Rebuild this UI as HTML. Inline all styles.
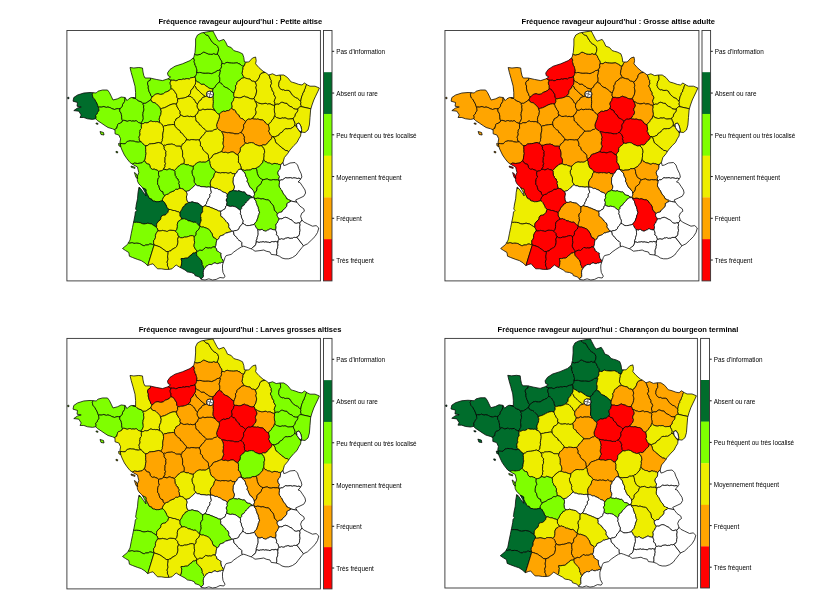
<!DOCTYPE html><html><head><meta charset="utf-8"><title>Cartes</title><style>html,body{margin:0;padding:0;background:#fff}svg{display:block}svg text{font-family:"Liberation Sans",sans-serif}</style></head><body><svg width="817" height="600" viewBox="0 0 817 600">
<rect width="817" height="600" fill="#fff"/>
<g transform="translate(66.900 30.450) scale(1.00000 1.00000) translate(-66.900 -30.450)">
<g stroke="#000" stroke-width="0.75" stroke-linejoin="round">
<path d="M96.0 116.4L95.7 115.4L96.4 114.5L97.3 113.8L97.5 112.6L98.2 111.7L98.9 110.8L98.9 109.6L98.7 108.4L98.5 107.3L97.7 105.3L97.0 103.3L95.9 101.5L94.9 99.6L94.2 98.7L93.4 97.9L92.8 96.9L92.6 95.8L92.3 94.7L92.7 93.6L92.9 92.7L90.0 92.5L83.8 93.0L77.5 95.0L73.8 97.5L73.0 101.2L77.5 102.5L77.0 106.2L81.2 107.0L77.5 108.0L73.8 110.6L78.8 111.2L81.2 115.0L80.0 117.5L83.8 117.5L87.5 118.8L92.5 119.4L95.6 118.8L95.8 118.9L95.8 118.6L96.1 117.6Z" fill="#006d2c"/>
<path d="M92.6 95.8L92.8 96.9L93.4 97.9L94.2 98.7L94.9 99.6L95.9 101.5L97.0 103.3L97.7 105.3L98.5 107.3L99.8 107.0L101.2 107.2L102.5 106.9L103.9 106.5L105.1 107.1L106.5 107.4L107.9 107.0L109.3 107.4L110.6 107.8L111.8 108.6L113.1 109.0L114.4 109.5L115.8 109.1L117.1 108.6L118.6 108.8L120.0 108.7L121.4 107.6L122.4 106.2L122.6 104.4L123.7 103.0L124.6 101.5L124.9 99.8L125.0 98.1L125.2 97.7L125.0 97.5L121.2 97.0L117.5 98.8L113.0 100.0L111.2 96.2L109.4 92.5L107.5 90.0L102.5 90.0L98.0 91.2L96.2 93.0L92.9 92.7L92.7 93.6L92.3 94.7Z" fill="#7fff00"/>
<path d="M121.7 116.2L121.4 114.7L121.1 113.1L120.1 111.8L119.7 110.2L120.0 108.7L118.6 108.8L117.1 108.6L115.8 109.1L114.4 109.5L113.1 109.0L111.8 108.6L110.6 107.8L109.3 107.4L107.9 107.0L106.5 107.4L105.1 107.1L103.9 106.5L102.5 106.9L101.2 107.2L99.8 107.0L98.5 107.3L98.7 108.4L98.9 109.6L98.9 110.8L98.2 111.7L97.5 112.6L97.3 113.8L96.4 114.5L95.7 115.4L96.0 116.4L96.1 117.6L95.8 118.6L95.8 118.9L97.5 120.6L101.2 123.0L105.0 125.6L108.0 127.5L112.5 128.8L114.7 129.8L114.9 129.8L115.6 128.7L116.8 128.2L117.0 127.0L117.4 125.8L117.7 124.6L118.5 123.6L119.8 123.4L120.9 122.8L122.0 122.0L122.5 120.8L122.0 119.3L121.7 117.8Z" fill="#7fff00"/>
<path d="M140.0 101.4L138.9 101.0L137.9 100.4L136.9 99.7L136.1 98.9L135.0 98.3L133.8 98.0L132.6 97.8L132.4 97.6L131.2 97.5L128.8 98.8L127.0 100.6L125.2 97.7L125.0 98.1L124.9 99.8L124.6 101.5L123.7 103.0L122.6 104.4L122.4 106.2L121.4 107.6L120.0 108.7L119.7 110.2L120.1 111.8L121.1 113.1L121.4 114.7L121.7 116.2L121.7 117.8L122.0 119.3L122.5 120.8L123.7 120.3L124.9 120.5L126.0 120.9L127.1 121.4L128.3 121.0L129.4 120.6L130.6 120.7L131.7 121.3L133.0 120.9L134.2 121.3L135.3 120.9L136.6 120.8L137.4 121.7L138.4 122.5L139.6 122.9L140.7 123.3L141.6 122.3L142.3 121.1L142.9 119.9L143.3 118.7L143.2 117.4L143.1 116.1L142.8 114.8L143.1 113.5L143.1 112.1L143.7 111.0L143.9 109.7L143.8 108.4L143.5 107.1L143.9 105.8L143.2 104.7L143.0 103.4L142.2 102.4L141.1 101.8Z" fill="#7fff00"/>
<path d="M150.5 78.5L150.8 78.2L150.0 78.0L145.0 78.0L143.8 75.6L143.0 72.0L142.5 68.0L138.8 67.5L133.8 68.0L130.0 67.5L131.2 72.5L133.0 78.8L134.7 85.1L135.0 86.2L135.6 92.5L135.6 98.0L132.4 97.6L132.6 97.8L133.8 98.0L135.0 98.3L136.1 98.9L136.9 99.7L137.9 100.4L138.9 101.0L140.0 101.4L141.1 101.8L142.2 102.4L143.0 103.4L144.1 103.3L145.2 103.4L146.2 102.9L147.2 102.3L149.0 101.0L150.8 99.8L151.4 98.4L152.0 96.9L150.7 95.3L150.2 93.5L149.2 91.8L148.7 89.9L148.2 88.0L148.4 86.0L147.6 84.2L147.7 82.3L148.7 80.9L150.3 80.3Z" fill="#7fff00"/>
<path d="M168.0 78.8L162.5 80.6L156.2 79.4L150.8 78.2L150.5 78.5L150.3 80.3L148.7 80.9L147.7 82.3L147.6 84.2L148.4 86.0L148.2 88.0L148.7 89.9L149.2 91.8L150.2 93.5L150.7 95.3L152.0 96.9L153.2 96.2L154.2 95.3L155.3 94.4L156.6 94.0L158.0 93.7L159.3 94.2L160.7 94.4L162.1 94.2L163.4 93.8L164.4 92.9L165.5 92.2L166.8 91.8L168.0 91.2L169.2 90.7L170.0 89.7L171.0 88.7L171.0 87.6L171.0 86.5L171.0 85.4L170.3 84.4L170.2 83.3L170.2 82.2L170.8 81.2L171.0 80.1L169.5 79.5L168.2 78.6Z" fill="#7fff00"/>
<path d="M168.0 91.2L166.8 91.8L165.5 92.2L164.4 92.9L163.4 93.8L162.1 94.2L160.7 94.4L159.3 94.2L158.0 93.7L156.6 94.0L155.3 94.4L154.2 95.3L153.2 96.2L152.0 96.9L151.4 98.4L150.8 99.8L151.6 101.5L153.1 102.5L154.9 102.8L156.4 103.9L157.6 105.1L158.8 106.4L160.0 107.8L160.5 109.5L162.3 108.3L164.3 107.8L166.3 106.9L168.1 105.9L170.0 104.9L172.0 104.2L174.2 103.8L176.3 104.2L177.0 102.9L177.7 101.6L177.5 100.0L177.9 98.6L176.9 97.3L176.7 95.7L176.5 94.2L175.5 92.9L174.7 91.5L173.8 90.2L172.6 89.0L171.0 88.7L170.0 89.7L169.2 90.7Z" fill="#eeee00"/>
<path d="M159.5 117.7L160.0 116.1L160.8 114.6L161.0 112.9L161.3 111.1L160.5 109.5L160.0 107.8L158.8 106.4L157.6 105.1L156.4 103.9L154.9 102.8L153.1 102.5L151.6 101.5L150.8 99.8L149.0 101.0L147.2 102.3L146.2 102.9L145.2 103.4L144.1 103.3L143.0 103.4L143.2 104.7L143.9 105.8L143.5 107.1L143.8 108.4L143.9 109.7L143.7 111.0L143.1 112.1L143.1 113.5L142.8 114.8L143.1 116.1L143.2 117.4L143.3 118.7L142.9 119.9L142.3 121.1L141.6 122.3L140.7 123.3L141.0 123.5L142.2 123.7L143.4 123.6L144.4 122.9L145.6 122.7L146.8 122.9L148.0 122.6L149.1 122.0L149.9 121.2L151.1 121.0L152.2 121.5L153.4 121.6L154.6 121.5L155.7 121.8L156.9 121.6L158.1 121.8L159.0 122.6L159.7 121.0L159.2 119.3Z" fill="#7fff00"/>
<path d="M175.6 120.6L176.0 118.9L177.4 118.2L178.7 117.4L180.0 116.4L180.5 114.8L180.0 113.4L180.3 111.9L179.6 110.6L178.5 109.5L178.1 108.1L177.1 107.0L176.9 105.6L176.3 104.2L174.2 103.8L172.0 104.2L170.0 104.9L168.1 105.9L166.3 106.9L164.3 107.8L162.3 108.3L160.5 109.5L161.3 111.1L161.0 112.9L160.8 114.6L160.0 116.1L159.5 117.7L159.2 119.3L159.7 121.0L159.0 122.6L160.5 123.1L161.7 124.0L162.4 125.3L163.2 126.5L164.5 125.8L166.0 125.7L167.4 125.2L168.8 125.0L170.3 124.8L171.7 124.6L173.2 124.4L174.6 124.9L174.5 123.3L174.4 121.7Z" fill="#eeee00"/>
<path d="M139.4 138.6L139.0 137.4L139.3 136.2L140.0 135.1L140.1 133.8L139.7 132.7L140.1 131.5L140.1 130.2L140.7 129.1L141.5 128.3L141.4 127.1L141.3 125.9L141.5 124.7L141.0 123.5L140.7 123.3L139.6 122.9L138.4 122.5L137.4 121.7L136.6 120.8L135.3 120.9L134.2 121.3L133.0 120.9L131.7 121.3L130.6 120.7L129.4 120.6L128.3 121.0L127.1 121.4L126.0 120.9L124.9 120.5L123.7 120.3L122.5 120.8L122.0 122.0L120.9 122.8L119.8 123.4L118.5 123.6L117.7 124.6L117.4 125.8L117.0 127.0L116.8 128.2L115.6 128.7L114.9 129.8L114.7 129.8L115.0 130.0L115.0 133.8L118.8 135.0L120.6 138.8L120.0 142.0L120.0 144.0L121.0 143.5L122.5 143.7L123.9 143.8L125.3 143.7L126.2 142.5L127.3 141.5L128.7 141.2L130.1 140.8L131.5 141.1L132.8 141.1L134.2 141.2L135.5 141.8L136.9 142.0L138.3 142.2L139.6 141.9L141.0 141.8L140.0 141.0L139.3 139.9Z" fill="#7fff00"/>
<path d="M155.7 121.8L154.6 121.5L153.4 121.6L152.2 121.5L151.1 121.0L149.9 121.2L149.1 122.0L148.0 122.6L146.8 122.9L145.6 122.7L144.4 122.9L143.4 123.6L142.2 123.7L141.0 123.5L141.5 124.7L141.3 125.9L141.4 127.1L141.5 128.3L140.7 129.1L140.1 130.2L140.1 131.5L139.7 132.7L140.1 133.8L140.0 135.1L139.3 136.2L139.0 137.4L139.4 138.6L139.3 139.9L140.0 141.0L141.0 141.8L142.2 142.8L143.2 144.2L144.4 145.2L145.8 145.9L147.8 145.4L149.2 144.1L151.2 143.8L153.1 143.7L155.0 143.4L156.9 142.9L158.8 142.5L160.7 143.3L161.2 142.4L162.0 141.6L162.4 140.5L162.3 139.3L162.9 137.2L162.7 135.1L163.0 132.9L163.5 130.8L163.6 128.7L163.2 126.5L162.4 125.3L161.7 124.0L160.5 123.1L159.0 122.6L158.1 121.8L156.9 121.6Z" fill="#eeee00"/>
<path d="M196.5 68.6L196.2 67.3L195.9 66.1L194.9 65.2L195.0 63.9L194.4 62.7L194.1 61.4L194.5 60.1L193.9 59.0L193.4 57.8L190.0 60.6L182.5 63.8L175.0 66.2L170.0 69.4L167.5 73.0L168.0 75.6L170.6 77.0L168.2 78.6L169.5 79.5L171.0 80.1L172.5 80.3L174.1 80.2L175.6 80.8L177.1 80.6L178.4 79.7L180.0 79.5L181.6 79.6L183.1 79.0L184.7 79.3L186.2 78.7L187.7 78.7L189.3 79.1L190.5 78.0L192.0 77.6L193.5 77.4L195.0 76.9L195.7 75.9L196.3 74.7L196.7 73.5L196.6 72.3L197.0 71.0L196.9 69.8Z" fill="#7fff00"/>
<path d="M195.8 81.1L195.7 79.6L195.5 78.2L195.0 76.9L193.5 77.4L192.0 77.6L190.5 78.0L189.3 79.1L187.7 78.7L186.2 78.7L184.7 79.3L183.1 79.0L181.6 79.6L180.0 79.5L178.4 79.7L177.1 80.6L175.6 80.8L174.1 80.2L172.5 80.3L171.0 80.1L170.8 81.2L170.2 82.2L170.2 83.3L170.3 84.4L171.0 85.4L171.0 86.5L171.0 87.6L171.0 88.7L172.6 89.0L173.8 90.2L174.7 91.5L175.5 92.9L176.5 94.2L176.7 95.7L176.9 97.3L177.9 98.6L179.2 98.9L180.6 98.4L181.9 98.3L183.2 98.2L184.5 97.8L185.8 97.4L187.0 96.9L188.1 96.1L189.3 95.0L190.4 93.7L190.6 92.1L190.9 90.6L191.8 89.2L193.1 88.3L193.6 86.8L194.5 85.5L195.4 84.2L195.6 82.6Z" fill="#eeee00"/>
<path d="M184.5 97.8L183.2 98.2L181.9 98.3L180.6 98.4L179.2 98.9L177.9 98.6L177.5 100.0L177.7 101.6L177.0 102.9L176.3 104.2L176.9 105.6L177.1 107.0L178.1 108.1L178.5 109.5L179.6 110.6L180.3 111.9L180.0 113.4L180.5 114.8L181.9 115.6L183.2 116.4L184.8 116.5L186.3 116.3L187.9 116.1L189.3 116.7L190.8 116.3L192.3 116.8L193.8 116.6L195.2 116.1L196.1 114.5L197.6 113.5L198.1 111.8L199.0 110.3L198.2 108.7L197.3 107.3L197.2 105.6L197.5 103.9L196.2 103.0L195.4 101.6L194.7 100.2L193.7 99.0L192.4 97.9L191.3 96.8L189.8 96.2L188.1 96.1L187.0 96.9L185.8 97.4Z" fill="#eeee00"/>
<path d="M191.8 89.2L190.9 90.6L190.6 92.1L190.4 93.7L189.3 95.0L188.1 96.1L189.8 96.2L191.3 96.8L192.4 97.9L193.7 99.0L194.7 100.2L195.4 101.6L196.2 103.0L197.5 103.9L198.4 102.8L198.9 101.5L200.0 100.6L201.2 99.9L201.7 98.5L202.8 97.5L204.1 97.0L205.5 96.5L203.9 95.3L202.3 94.1L200.8 92.9L199.5 91.4L198.1 90.1L196.5 88.9L195.9 87.0L194.5 85.5L193.6 86.8L193.1 88.3Z" fill="#eeee00"/>
<path d="M198.1 90.1L199.5 91.4L200.8 92.9L202.3 94.1L203.9 95.3L205.5 96.5L207.2 96.0L206.6 94.6L207.0 92.2L209.0 91.2L211.5 91.4L212.6 92.1L212.7 91.7L212.8 90.0L213.4 88.4L212.1 88.8L210.8 88.5L209.5 88.1L208.3 87.6L207.5 86.6L206.3 86.0L205.2 85.4L204.4 84.3L203.1 84.0L201.8 84.3L200.5 83.7L199.6 82.7L198.5 82.0L197.2 81.7L196.3 80.7L195.7 79.6L195.8 81.1L195.6 82.6L195.4 84.2L194.5 85.5L195.9 87.0L196.5 88.9Z" fill="#eeee00"/>
<path d="M201.7 98.5L201.2 99.9L200.0 100.6L198.9 101.5L198.4 102.8L197.5 103.9L197.2 105.6L197.3 107.3L198.2 108.7L199.0 110.3L201.1 110.3L202.9 109.1L204.9 109.8L207.0 109.3L209.1 109.4L211.1 109.3L213.1 109.8L215.0 110.8L214.1 109.0L213.1 107.3L213.1 105.3L213.3 103.4L213.4 101.4L213.2 99.5L213.3 97.6L213.0 96.1L212.5 97.0L210.0 97.6L207.6 96.8L207.2 96.0L205.5 96.5L204.1 97.0L202.8 97.5Z" fill="#eeee00"/>
<path d="M198.5 82.0L199.6 82.7L200.5 83.7L201.8 84.3L203.1 84.0L204.4 84.3L205.2 85.4L206.3 86.0L207.5 86.6L208.3 87.6L209.5 88.1L210.8 88.5L212.1 88.8L213.4 88.4L214.2 87.7L215.2 87.2L215.5 86.1L216.2 85.1L217.6 83.4L219.4 82.2L219.8 80.8L219.8 79.4L219.8 77.9L219.2 76.5L219.3 75.1L219.9 73.8L220.0 72.4L220.5 71.0L220.0 69.7L218.6 70.4L217.1 70.6L215.9 71.6L214.5 72.3L213.1 72.9L211.6 73.6L210.1 73.3L208.5 73.0L207.0 73.0L205.5 73.1L204.0 73.1L202.5 72.9L201.1 72.6L199.6 72.4L198.1 72.7L196.6 72.3L196.7 73.5L196.3 74.7L195.7 75.9L195.0 76.9L195.5 78.2L195.7 79.6L196.3 80.7L197.2 81.7Z" fill="#7fff00"/>
<path d="M201.1 72.6L202.5 72.9L204.0 73.1L205.5 73.1L207.0 73.0L208.5 73.0L210.1 73.3L211.6 73.6L213.1 72.9L214.5 72.3L215.9 71.6L217.1 70.6L218.6 70.4L220.0 69.7L220.9 68.4L221.6 66.9L221.3 65.2L221.9 63.6L222.0 62.2L221.7 60.9L220.7 59.9L220.2 58.6L219.5 57.4L219.1 56.1L218.2 55.1L217.3 54.0L215.5 54.3L213.8 53.5L212.1 54.3L210.3 54.2L208.6 54.0L206.9 53.4L205.3 52.6L203.7 52.0L202.1 53.0L200.7 54.2L198.9 54.6L197.1 54.9L195.3 54.6L194.5 54.3L193.8 57.5L193.4 57.8L193.9 59.0L194.5 60.1L194.1 61.4L194.4 62.7L195.0 63.9L194.9 65.2L195.9 66.1L196.2 67.3L196.5 68.6L196.9 69.8L197.0 71.0L196.6 72.3L198.1 72.7L199.6 72.4Z" fill="#7fff00"/>
<path d="M218.5 49.9L218.5 48.5L217.7 46.4L216.2 44.9L214.3 43.9L212.6 42.5L211.4 40.8L210.2 39.0L209.2 37.2L208.1 35.4L207.0 35.2L205.9 34.9L205.1 34.1L204.4 33.3L203.4 32.6L203.4 32.6L201.2 33.0L197.5 35.0L195.6 38.8L195.6 45.0L195.0 52.5L194.5 54.3L195.3 54.6L197.1 54.9L198.9 54.6L200.7 54.2L202.1 53.0L203.7 52.0L205.3 52.6L206.9 53.4L208.6 54.0L210.3 54.2L212.1 54.3L213.8 53.5L215.5 54.3L217.3 54.0L217.8 52.7L218.3 51.3Z" fill="#7fff00"/>
<path d="M205.9 34.9L207.0 35.2L208.1 35.4L209.2 37.2L210.2 39.0L211.4 40.8L212.6 42.5L214.3 43.9L216.2 44.9L217.7 46.4L218.5 48.5L218.5 49.9L218.3 51.3L217.8 52.7L217.3 54.0L218.2 55.1L219.1 56.1L219.5 57.4L220.2 58.6L220.7 59.9L221.7 60.9L222.0 62.2L221.9 63.6L223.3 63.6L224.7 63.8L225.8 62.8L227.1 62.3L229.2 62.9L231.4 63.1L233.6 63.2L235.7 63.0L236.9 62.8L237.9 63.2L238.9 63.8L240.0 64.0L240.7 64.9L241.6 65.6L242.6 66.1L243.8 66.2L244.6 65.0L245.0 63.7L246.0 62.6L246.2 62.0L244.4 62.0L243.8 57.5L242.5 53.8L238.8 52.0L236.1 51.3L233.8 50.6L231.2 47.5L227.5 46.2L225.6 42.0L225.3 41.6L223.8 39.4L218.8 41.2L217.0 38.8L214.4 33.8L213.0 31.0L206.2 32.0L203.4 32.6L203.4 32.6L204.4 33.3L205.1 34.1Z" fill="#7fff00"/>
<path d="M243.2 78.0L244.4 77.6L243.5 76.3L242.7 75.0L242.1 73.5L242.4 72.0L242.5 70.5L243.0 69.1L243.0 67.5L243.8 66.2L242.6 66.1L241.6 65.6L240.7 64.9L240.0 64.0L238.9 63.8L237.9 63.2L236.9 62.8L235.7 63.0L233.6 63.2L231.4 63.1L229.2 62.9L227.1 62.3L225.8 62.8L224.7 63.8L223.3 63.6L221.9 63.6L221.3 65.2L221.6 66.9L220.9 68.4L220.0 69.7L220.5 71.0L220.0 72.4L219.9 73.8L219.3 75.1L219.2 76.5L219.8 77.9L219.8 79.4L219.8 80.8L219.4 82.2L220.3 83.0L221.5 83.3L222.0 84.4L222.8 85.2L223.7 86.0L224.4 86.9L225.5 87.4L226.7 87.7L227.7 88.2L228.4 89.1L229.5 89.5L230.4 90.3L231.2 91.1L231.9 92.1L233.0 92.5L233.9 93.3L234.5 91.5L235.3 89.7L235.8 87.8L235.4 85.9L236.7 84.3L237.1 82.4L238.4 80.9L240.1 80.0L240.8 78.9L241.9 78.2Z" fill="#7fff00"/>
<path d="M213.3 92.6L213.5 95.0L213.0 96.1L213.3 97.6L213.2 99.5L213.4 101.4L213.3 103.4L213.1 105.3L213.1 107.3L214.1 109.0L215.0 110.8L216.0 111.7L216.8 112.9L217.9 113.8L219.1 114.4L220.4 113.2L221.8 112.0L223.4 111.2L225.3 111.5L226.9 110.7L228.7 110.6L230.1 109.6L231.4 108.3L232.2 107.1L232.1 105.7L231.7 104.4L231.7 103.0L232.4 101.8L233.3 100.8L233.6 99.5L234.0 98.2L234.5 97.4L233.7 95.4L233.9 93.3L233.0 92.5L231.9 92.1L231.2 91.1L230.4 90.3L229.5 89.5L228.4 89.1L227.7 88.2L226.7 87.7L225.5 87.4L224.4 86.9L223.7 86.0L222.8 85.2L222.0 84.4L221.5 83.3L220.3 83.0L219.4 82.2L217.6 83.4L216.2 85.1L215.5 86.1L215.2 87.2L214.2 87.7L213.4 88.4L212.8 90.0L212.7 91.7L212.6 92.1Z" fill="#7fff00"/>
<path d="M244.6 65.0L243.8 66.2L243.0 67.5L243.0 69.1L242.5 70.5L242.4 72.0L242.1 73.5L242.7 75.0L243.5 76.3L244.4 77.6L245.7 78.2L247.2 78.6L248.6 79.0L250.1 79.1L250.9 80.4L252.2 81.2L253.8 81.3L255.1 82.1L256.9 81.0L258.2 79.2L259.3 77.4L259.8 75.3L261.0 73.5L263.0 72.8L265.1 72.4L265.1 72.4L263.0 71.2L258.8 67.5L255.6 63.8L256.2 60.6L255.6 57.0L252.5 58.0L248.8 62.0L246.2 62.0L246.0 62.6L245.0 63.7Z" fill="#eeee00"/>
<path d="M256.3 93.0L256.7 91.0L256.5 89.9L256.2 88.8L255.9 87.6L256.2 86.5L256.5 85.3L256.1 84.2L255.8 83.0L255.1 82.1L253.8 81.3L252.2 81.2L250.9 80.4L250.1 79.1L248.6 79.0L247.2 78.6L245.7 78.2L244.4 77.6L243.2 78.0L241.9 78.2L240.8 78.9L240.1 80.0L238.4 80.9L237.1 82.4L236.7 84.3L235.4 85.9L235.8 87.8L235.3 89.7L234.5 91.5L233.9 93.3L233.7 95.4L234.5 97.4L235.8 97.4L237.1 97.4L238.3 97.8L239.6 97.8L240.8 97.7L242.0 97.2L243.1 96.6L244.4 96.2L245.5 96.9L246.7 97.2L248.0 97.4L249.0 98.2L250.2 98.6L251.4 98.9L252.8 99.0L254.0 98.5L254.9 96.7L255.9 94.9Z" fill="#eeee00"/>
<path d="M252.8 99.0L251.4 98.9L250.2 98.6L249.0 98.2L248.0 97.4L246.7 97.2L245.5 96.9L244.4 96.2L243.1 96.6L242.0 97.2L240.8 97.7L239.6 97.8L238.3 97.8L237.1 97.4L235.8 97.4L234.5 97.4L234.0 98.2L233.6 99.5L233.3 100.8L232.4 101.8L231.7 103.0L231.7 104.4L232.1 105.7L232.2 107.1L231.4 108.3L232.6 108.9L233.3 110.0L234.6 110.1L235.6 110.9L235.8 112.2L236.5 113.3L237.5 114.2L238.6 114.9L239.2 116.0L239.6 117.2L240.6 118.1L241.8 118.6L243.0 119.0L243.9 119.9L244.7 120.8L245.7 121.6L246.8 120.0L248.5 119.1L250.4 119.3L252.1 118.5L253.1 117.9L253.8 116.9L254.3 115.9L255.1 115.1L255.8 114.0L256.1 112.9L256.2 111.7L255.6 110.5L255.4 109.4L255.7 108.2L256.4 107.2L256.9 106.2L257.0 105.0L256.5 103.9L256.2 102.7L255.4 101.8L254.9 100.1L254.0 98.5Z" fill="#eeee00"/>
<path d="M271.0 87.2L270.3 86.0L271.0 84.7L271.6 83.4L271.1 82.0L271.4 80.6L270.6 79.5L270.1 78.3L269.8 77.0L269.2 75.8L269.0 74.9L268.8 75.0L266.2 73.0L265.1 72.4L265.1 72.4L263.0 72.8L261.0 73.5L259.8 75.3L259.3 77.4L258.2 79.2L256.9 81.0L255.1 82.1L255.8 83.0L256.1 84.2L256.5 85.3L256.2 86.5L255.9 87.6L256.2 88.8L256.5 89.9L256.7 91.0L256.3 93.0L255.9 94.9L254.9 96.7L254.0 98.5L254.9 100.1L255.4 101.8L256.7 101.9L257.7 102.6L258.8 103.3L260.1 103.4L261.2 103.9L262.5 103.9L263.8 103.7L265.0 103.3L266.3 103.4L267.3 104.2L268.6 103.9L269.8 103.9L271.0 104.2L272.0 105.0L273.2 105.2L274.3 105.9L274.9 105.0L275.0 103.1L274.2 101.3L274.8 99.5L275.6 97.8L274.9 96.1L273.8 94.6L273.8 92.7L272.8 91.1L272.5 91.0L272.0 89.7L271.8 88.3Z" fill="#eeee00"/>
<path d="M278.8 84.7L278.8 83.5L279.4 81.4L280.6 79.7L280.6 77.6L280.3 75.6L280.4 75.0L280.0 75.0L276.2 75.6L272.5 73.8L269.0 74.9L269.2 75.8L269.8 77.0L270.1 78.3L270.6 79.5L271.4 80.6L271.1 82.0L271.6 83.4L271.0 84.7L270.3 86.0L271.0 87.2L271.8 88.3L272.0 89.7L272.5 91.0L272.8 91.1L273.8 92.7L273.8 94.6L274.9 96.1L275.6 97.8L274.8 99.5L274.2 101.3L275.0 103.1L274.9 105.0L276.9 104.1L279.1 104.3L279.7 103.4L280.7 102.8L281.7 102.3L282.8 102.4L284.8 103.3L287.0 103.4L288.2 105.2L290.0 106.4L292.1 107.1L293.6 108.7L295.6 109.2L297.7 109.2L298.3 108.2L299.2 107.4L300.2 106.7L301.4 106.7L301.1 105.3L300.5 104.0L301.0 102.6L300.6 101.2L299.1 99.7L297.5 98.2L295.5 97.5L293.8 96.2L292.2 94.8L291.0 93.0L289.9 91.1L288.0 90.2L287.7 90.3L286.6 90.3L285.5 90.5L284.4 90.1L283.4 89.6L282.2 89.8L281.2 89.3L280.2 88.7L279.5 87.7L279.1 86.7L278.6 85.7Z" fill="#eeee00"/>
<path d="M283.4 89.6L284.4 90.1L285.5 90.5L286.6 90.3L287.7 90.3L288.0 90.2L289.9 91.1L291.0 93.0L292.2 94.8L293.8 96.2L295.5 97.5L297.5 98.2L299.1 99.7L300.6 101.2L301.0 100.1L301.1 99.0L301.4 98.0L301.6 96.9L302.0 95.8L302.7 94.9L302.7 93.8L303.1 92.7L304.0 92.0L304.3 90.9L304.5 89.7L305.2 88.8L305.4 87.7L305.7 86.7L306.0 85.5L306.9 84.7L307.0 84.7L304.4 83.0L302.0 85.0L298.8 84.4L295.0 83.0L292.5 82.3L291.2 82.0L287.5 77.5L283.8 75.0L280.4 75.0L280.3 75.6L280.6 77.6L280.6 79.7L279.4 81.4L278.8 83.5L278.8 84.7L278.6 85.7L279.1 86.7L279.5 87.7L280.2 88.7L281.2 89.3L282.2 89.8Z" fill="#eeee00"/>
<path d="M313.8 100.0L315.6 96.2L318.0 91.2L319.4 88.0L315.0 86.2L310.0 86.2L307.5 85.0L307.0 84.7L306.9 84.7L306.0 85.5L305.7 86.7L305.4 87.7L305.2 88.8L304.5 89.7L304.3 90.9L304.0 92.0L303.1 92.7L302.7 93.8L302.7 94.9L302.0 95.8L301.6 96.9L301.4 98.0L301.1 99.0L301.0 100.1L300.6 101.2L301.0 102.6L300.5 104.0L301.1 105.3L301.4 106.7L310.9 108.8L312.0 105.0Z" fill="#eeee00"/>
<path d="M296.9 126.8L296.5 124.0L299.0 123.0L300.8 126.0L301.6 129.5L301.5 132.1L301.3 132.0L299.0 130.5L298.7 130.0L299.1 131.0L300.2 131.7L300.7 132.9L300.9 133.1L301.0 132.0L305.0 132.5L308.0 130.0L309.4 125.0L310.0 117.5L310.6 110.0L310.9 108.8L301.4 106.7L300.2 106.7L299.2 107.4L298.3 108.2L297.7 109.2L297.7 110.5L297.2 111.8L296.4 112.8L295.5 113.8L295.0 115.0L294.8 116.3L293.9 117.3L293.1 118.3L293.5 120.2L294.5 121.9L294.9 123.8L294.5 125.8L295.7 126.0L296.8 126.7Z" fill="#eeee00"/>
<path d="M274.3 108.3L274.2 109.6L274.4 110.8L274.4 112.0L274.8 113.2L274.8 114.4L274.7 115.7L275.5 116.7L276.5 117.5L277.7 117.9L278.9 118.3L280.1 118.5L281.3 118.3L282.5 117.9L283.7 118.2L284.9 117.9L286.2 118.2L287.2 118.8L288.4 119.1L289.6 119.0L290.8 118.9L292.0 118.9L293.1 118.3L293.9 117.3L294.8 116.3L295.0 115.0L295.5 113.8L296.4 112.8L297.2 111.8L297.7 110.5L297.7 109.2L295.6 109.2L293.6 108.7L292.1 107.1L290.0 106.4L288.2 105.2L287.0 103.4L284.8 103.3L282.8 102.4L281.7 102.3L280.7 102.8L279.7 103.4L279.1 104.3L276.9 104.1L274.9 105.0L274.3 105.9L274.6 107.1Z" fill="#eeee00"/>
<path d="M257.0 105.0L256.9 106.2L256.4 107.2L255.7 108.2L255.4 109.4L255.6 110.5L256.2 111.7L256.1 112.9L255.8 114.0L255.1 115.1L254.3 115.9L253.8 116.9L253.1 117.9L252.1 118.5L253.2 118.9L254.3 119.1L255.4 119.1L256.5 119.3L257.7 119.0L258.8 119.3L259.8 119.7L261.0 119.9L262.2 119.9L263.3 120.3L264.0 121.3L265.0 121.9L265.4 123.0L266.4 123.8L267.4 124.4L268.5 124.8L269.2 123.5L270.4 122.7L271.3 121.7L271.9 120.4L272.7 119.2L273.9 118.4L274.1 117.0L274.7 115.7L274.8 114.4L274.8 113.2L274.4 112.0L274.4 110.8L274.2 109.6L274.3 108.3L274.6 107.1L274.3 105.9L273.2 105.2L272.0 105.0L271.0 104.2L269.8 103.9L268.6 103.9L267.3 104.2L266.3 103.4L265.0 103.3L263.8 103.7L262.5 103.9L261.2 103.9L260.1 103.4L258.8 103.3L257.7 102.6L256.7 101.9L255.4 101.8L256.2 102.7L256.5 103.9Z" fill="#eeee00"/>
<path d="M275.9 136.5L277.3 135.8L278.8 135.2L279.5 133.7L280.9 132.8L282.4 132.0L283.2 130.6L284.4 129.5L285.8 128.7L287.4 128.9L289.0 128.6L290.6 128.7L292.1 127.8L293.3 126.9L294.5 125.8L294.9 123.8L294.5 121.9L293.5 120.2L293.1 118.3L292.0 118.9L290.8 118.9L289.6 119.0L288.4 119.1L287.2 118.8L286.2 118.2L284.9 117.9L283.7 118.2L282.5 117.9L281.3 118.3L280.1 118.5L278.9 118.3L277.7 117.9L276.5 117.5L275.5 116.7L274.7 115.7L274.1 117.0L273.9 118.4L272.7 119.2L271.9 120.4L271.3 121.7L270.4 122.7L269.2 123.5L268.5 124.8L268.7 126.4L269.1 128.0L269.2 129.7L268.4 131.2L269.4 132.5L269.8 134.1L270.9 135.3L272.0 136.5L272.6 136.7L274.3 137.0Z" fill="#eeee00"/>
<path d="M243.4 128.7L243.8 127.2L243.5 125.7L244.0 124.2L245.1 123.0L245.7 121.6L244.7 120.8L243.9 119.9L243.0 119.0L241.8 118.6L240.6 118.1L239.6 117.2L239.2 116.0L238.6 114.9L237.5 114.2L236.5 113.3L235.8 112.2L235.6 110.9L234.6 110.1L233.3 110.0L232.6 108.9L231.4 108.3L230.1 109.6L228.7 110.6L226.9 110.7L225.3 111.5L223.4 111.2L221.8 112.0L220.4 113.2L219.1 114.4L219.5 116.2L219.0 118.0L218.5 119.7L217.8 121.3L217.2 123.0L216.6 124.7L216.7 126.6L217.4 128.3L218.4 129.2L219.3 130.2L220.6 130.6L221.5 131.6L222.7 131.8L223.9 132.1L225.1 132.3L226.3 132.5L227.5 132.8L228.7 132.6L229.9 132.9L231.1 133.1L232.4 133.2L233.6 133.4L234.8 133.9L236.1 133.8L237.4 133.8L238.6 133.8L239.6 132.8L240.9 132.5L241.9 131.4L242.6 130.0Z" fill="#ffa500"/>
<path d="M251.5 142.6L253.5 143.1L255.2 144.4L257.2 145.2L259.2 146.0L261.3 145.7L263.1 144.8L265.1 145.1L266.7 144.1L267.9 142.6L269.1 141.0L270.6 139.9L271.7 138.4L272.0 136.5L270.9 135.3L269.8 134.1L269.4 132.5L268.4 131.2L269.2 129.7L269.1 128.0L268.7 126.4L268.5 124.8L267.4 124.4L266.4 123.8L265.4 123.0L265.0 121.9L264.0 121.3L263.3 120.3L262.2 119.9L261.0 119.9L259.8 119.7L258.8 119.3L257.7 119.0L256.5 119.3L255.4 119.1L254.3 119.1L253.2 118.9L252.1 118.5L250.4 119.3L248.5 119.1L246.8 120.0L245.7 121.6L245.1 123.0L244.0 124.2L243.5 125.7L243.8 127.2L243.4 128.7L242.6 130.0L241.9 131.4L240.9 132.5L242.1 133.4L243.2 134.5L243.7 135.9L244.5 137.2L244.0 138.7L244.5 140.2L244.5 141.8L245.4 143.1L247.5 143.5L249.5 142.8Z" fill="#ffa500"/>
<path d="M275.3 141.1L275.9 142.8L277.3 143.8L278.6 144.9L279.9 146.1L281.3 147.0L282.4 148.4L283.9 149.2L285.2 150.4L287.0 150.6L288.5 151.5L288.8 151.8L290.0 150.0L293.8 145.6L297.0 142.5L298.8 138.8L300.6 136.0L300.9 133.1L300.7 132.9L300.2 131.7L299.1 131.0L298.7 130.0L297.0 127.5L296.9 126.8L296.8 126.7L295.7 126.0L294.5 125.8L293.3 126.9L292.1 127.8L290.6 128.7L289.0 128.6L287.4 128.9L285.8 128.7L284.4 129.5L283.2 130.6L282.4 132.0L280.9 132.8L279.5 133.7L278.8 135.2L277.3 135.8L275.9 136.5L274.3 137.0L272.6 136.7L274.1 137.7L274.9 139.4Z" fill="#eeee00"/>
<path d="M195.7 119.8L196.1 121.0L197.1 121.9L198.3 122.5L198.9 123.6L199.4 124.8L200.6 125.2L201.4 126.3L202.2 127.2L203.0 128.0L204.0 128.8L205.0 129.5L205.7 130.5L206.6 131.3L208.1 131.3L209.5 131.2L211.0 131.2L212.4 131.1L213.5 130.2L214.8 129.5L216.3 129.3L217.4 128.3L216.7 126.6L216.6 124.7L217.2 123.0L217.8 121.3L218.5 119.7L219.0 118.0L219.5 116.2L219.1 114.4L217.9 113.8L216.8 112.9L216.0 111.7L215.0 110.8L213.1 109.8L211.1 109.3L209.1 109.4L207.0 109.3L204.9 109.8L202.9 109.1L201.1 110.3L199.0 110.3L198.1 111.8L197.6 113.5L196.1 114.5L195.2 116.1L195.4 117.3L195.7 118.5Z" fill="#eeee00"/>
<path d="M187.9 116.1L186.3 116.3L184.8 116.5L183.2 116.4L181.9 115.6L180.5 114.8L180.0 116.4L178.7 117.4L177.4 118.2L176.0 118.9L175.6 120.6L174.4 121.7L174.5 123.3L174.6 124.9L174.9 126.1L175.7 127.1L176.4 128.1L177.3 128.9L178.2 129.7L179.4 130.2L180.2 131.2L180.4 132.5L181.6 132.9L182.4 133.9L183.2 134.8L183.9 135.8L184.7 136.8L185.7 137.5L186.4 138.6L186.4 139.9L186.5 139.9L188.1 139.9L189.7 140.2L191.2 139.6L192.9 139.7L194.5 139.8L196.0 140.1L197.6 139.8L199.2 140.1L199.9 138.8L201.1 137.9L201.6 136.5L202.8 135.6L203.9 134.6L204.7 133.4L205.4 132.1L206.6 131.3L205.7 130.5L205.0 129.5L204.0 128.8L203.0 128.0L202.2 127.2L201.4 126.3L200.6 125.2L199.4 124.8L198.9 123.6L198.3 122.5L197.1 121.9L196.1 121.0L195.7 119.8L195.7 118.5L195.4 117.3L195.2 116.1L193.8 116.6L192.3 116.8L190.8 116.3L189.3 116.7Z" fill="#eeee00"/>
<path d="M184.7 136.8L183.9 135.8L183.2 134.8L182.4 133.9L181.6 132.9L180.4 132.5L180.2 131.2L179.4 130.2L178.2 129.7L177.3 128.9L176.4 128.1L175.7 127.1L174.9 126.1L174.6 124.9L173.2 124.4L171.7 124.6L170.3 124.8L168.8 125.0L167.4 125.2L166.0 125.7L164.5 125.8L163.2 126.5L163.6 128.7L163.5 130.8L163.0 132.9L162.7 135.1L162.9 137.2L162.3 139.3L162.4 140.5L162.0 141.6L161.2 142.4L160.7 143.3L162.3 144.2L163.5 145.6L164.6 145.2L165.8 145.4L166.7 144.6L167.9 144.4L169.0 144.3L170.2 144.3L171.3 144.1L172.4 144.2L173.5 144.6L174.6 144.9L175.5 145.7L176.6 146.2L177.7 146.2L178.9 146.2L180.0 146.2L181.2 146.5L181.9 145.6L182.0 144.5L183.0 143.9L183.9 143.3L185.3 141.7L186.4 139.9L186.4 138.6L185.7 137.5Z" fill="#eeee00"/>
<path d="M244.0 138.7L244.5 137.2L243.7 135.9L243.2 134.5L242.1 133.4L240.9 132.5L239.6 132.8L238.6 133.8L237.4 133.8L236.1 133.8L234.8 133.9L233.6 133.4L232.4 133.2L231.1 133.1L229.9 132.9L228.7 132.6L227.5 132.8L226.3 132.5L225.1 132.3L223.9 132.1L222.7 131.8L221.5 131.6L222.0 132.8L222.8 133.9L223.1 135.2L223.4 136.4L223.6 137.8L223.1 139.0L223.5 140.3L223.1 141.6L222.8 143.0L222.9 144.3L223.5 145.6L223.7 146.9L223.0 148.0L222.6 149.3L221.9 150.4L221.5 151.7L223.5 152.5L225.7 152.3L226.7 152.5L227.7 153.0L228.8 152.8L229.9 152.4L230.9 152.1L232.1 152.0L233.2 152.0L234.2 152.7L235.2 153.2L235.8 154.2L236.9 154.4L237.8 155.0L238.6 153.2L240.0 152.0L240.4 150.1L240.4 148.3L241.4 146.8L242.9 145.7L244.3 144.6L245.4 143.1L244.5 141.8L244.5 140.2Z" fill="#ffa500"/>
<path d="M241.4 146.8L240.4 148.3L240.4 150.1L240.0 152.0L238.6 153.2L237.8 155.0L238.5 156.7L238.4 158.6L238.5 160.5L238.2 162.3L239.7 163.5L240.4 165.3L241.0 167.1L241.1 169.0L242.8 169.9L244.8 170.5L246.7 170.1L248.7 170.1L250.7 169.9L252.3 168.7L254.3 168.7L256.2 168.3L257.4 167.4L258.8 166.9L259.8 165.8L260.8 164.6L261.7 163.4L262.9 162.5L263.0 160.9L263.8 159.6L263.9 157.8L264.2 155.9L264.0 154.0L264.7 152.3L264.5 150.3L263.9 148.5L262.8 146.9L261.3 145.7L259.2 146.0L257.2 145.2L255.2 144.4L253.5 143.1L251.5 142.6L249.5 142.8L247.5 143.5L245.4 143.1L244.3 144.6L242.9 145.7Z" fill="#eeee00"/>
<path d="M264.5 150.3L264.7 152.3L264.0 154.0L264.2 155.9L263.9 157.8L263.8 159.6L264.5 160.6L265.1 161.6L266.3 161.9L267.3 162.7L268.4 163.0L269.6 163.1L270.6 163.5L271.6 164.2L272.9 164.2L273.9 163.5L275.1 163.4L276.2 163.8L277.4 163.8L278.4 164.4L279.6 164.5L280.6 165.2L281.8 163.4L283.1 162.8L283.0 162.5L284.4 157.5L287.5 153.8L288.8 151.8L288.5 151.5L287.0 150.6L285.2 150.4L283.9 149.2L282.4 148.4L281.3 147.0L279.9 146.1L278.6 144.9L277.3 143.8L275.9 142.8L275.3 141.1L274.9 139.4L274.1 137.7L272.6 136.7L272.0 136.5L271.7 138.4L270.6 139.9L269.1 141.0L267.9 142.6L266.7 144.1L265.1 145.1L263.1 144.8L261.3 145.7L262.8 146.9L263.9 148.5Z" fill="#eeee00"/>
<path d="M203.9 134.6L202.8 135.6L201.6 136.5L201.1 137.9L199.9 138.8L199.2 140.1L199.8 141.4L200.4 142.8L200.5 144.2L200.2 145.7L201.4 146.4L202.4 147.6L202.6 149.0L203.4 150.3L204.4 151.3L205.5 152.3L206.7 153.0L207.6 154.2L208.4 155.4L208.4 156.9L208.7 158.4L209.2 159.7L210.5 158.2L212.0 157.1L212.7 155.3L214.4 154.2L216.2 153.7L218.0 153.0L219.7 152.3L221.5 151.7L221.9 150.4L222.6 149.3L223.0 148.0L223.7 146.9L223.5 145.6L222.9 144.3L222.8 143.0L223.1 141.6L223.5 140.3L223.1 139.0L223.6 137.8L223.4 136.4L223.1 135.2L222.8 133.9L222.0 132.8L221.5 131.6L220.6 130.6L219.3 130.2L218.4 129.2L217.4 128.3L216.3 129.3L214.8 129.5L213.5 130.2L212.4 131.1L211.0 131.2L209.5 131.2L208.1 131.3L206.6 131.3L205.4 132.1L204.7 133.4Z" fill="#eeee00"/>
<path d="M183.9 143.3L183.0 143.9L182.0 144.5L181.9 145.6L181.2 146.5L181.0 147.6L181.1 148.8L182.0 149.6L182.3 150.7L182.6 152.9L182.6 155.1L182.4 156.2L182.9 157.3L183.5 158.3L184.0 159.3L184.1 160.4L184.2 161.6L183.9 162.7L183.5 163.7L184.7 164.1L185.9 164.7L187.2 164.9L188.5 164.8L189.5 165.6L190.8 165.9L192.1 166.3L193.4 166.3L194.9 164.7L196.6 163.3L197.5 162.7L198.5 162.3L199.6 162.0L200.7 162.0L201.8 162.3L203.0 162.1L204.1 162.2L205.2 162.2L206.3 162.0L207.1 161.2L208.0 160.5L209.1 160.2L209.2 159.7L208.7 158.4L208.4 156.9L208.4 155.4L207.6 154.2L206.7 153.0L205.5 152.3L204.4 151.3L203.4 150.3L202.6 149.0L202.4 147.6L201.4 146.4L200.2 145.7L200.5 144.2L200.4 142.8L199.8 141.4L199.2 140.1L197.6 139.8L196.0 140.1L194.5 139.8L192.9 139.7L191.2 139.6L189.7 140.2L188.1 139.9L186.5 139.9L186.4 139.9L185.3 141.7Z" fill="#eeee00"/>
<path d="M239.7 163.5L238.2 162.3L238.5 160.5L238.4 158.6L238.5 156.7L237.8 155.0L236.9 154.4L235.8 154.2L235.2 153.2L234.2 152.7L233.2 152.0L232.1 152.0L230.9 152.1L229.9 152.4L228.8 152.8L227.7 153.0L226.7 152.5L225.7 152.3L223.5 152.5L221.5 151.7L219.7 152.3L218.0 153.0L216.2 153.7L214.4 154.2L212.7 155.3L212.0 157.1L210.5 158.2L209.2 159.7L209.1 160.2L209.8 161.8L209.8 163.6L210.4 165.2L210.9 166.9L212.0 168.4L213.6 169.2L214.7 170.6L215.7 172.1L216.9 172.1L218.1 172.7L219.3 172.7L220.5 173.1L221.7 172.7L222.9 172.6L224.1 172.9L225.4 172.6L226.7 172.8L227.9 173.3L229.2 173.1L230.3 172.4L231.6 172.9L232.4 173.9L233.7 173.6L235.0 174.0L236.7 172.8L237.5 170.9L239.0 169.5L241.0 169.1L241.1 169.0L241.0 167.1L240.4 165.3Z" fill="#eeee00"/>
<path d="M210.2 183.0L210.8 181.0L211.7 179.1L213.2 177.7L214.0 175.7L214.4 173.7L215.7 172.1L214.7 170.6L213.6 169.2L212.0 168.4L210.9 166.9L210.4 165.2L209.8 163.6L209.8 161.8L209.1 160.2L208.0 160.5L207.1 161.2L206.3 162.0L205.2 162.2L204.1 162.2L203.0 162.1L201.8 162.3L200.7 162.0L199.6 162.0L198.5 162.3L197.5 162.7L196.6 163.3L194.9 164.7L193.4 166.3L193.1 167.5L193.1 168.8L192.7 170.0L191.8 170.9L192.0 172.1L192.0 173.3L192.5 174.5L192.7 175.7L193.7 176.5L193.9 177.8L194.3 179.0L194.0 180.2L194.1 181.4L194.4 182.6L195.2 183.4L195.7 184.6L197.3 185.7L199.3 185.9L201.0 186.7L203.0 186.7L204.9 186.9L206.7 187.2L208.6 186.9L210.5 187.3L210.8 187.2L210.5 185.1Z" fill="#7fff00"/>
<path d="M175.0 174.0L175.0 175.3L175.9 176.2L176.1 177.5L176.8 178.5L178.0 179.0L178.1 180.3L178.9 181.3L178.9 182.5L178.5 183.7L179.2 184.7L179.3 185.9L179.5 187.1L179.8 188.2L181.5 188.6L183.3 189.1L184.4 190.6L186.0 191.5L187.5 191.1L189.0 190.7L190.2 189.7L191.3 188.6L192.5 187.7L193.6 186.7L194.5 185.5L195.7 184.6L195.2 183.4L194.4 182.6L194.1 181.4L194.0 180.2L194.3 179.0L193.9 177.8L193.7 176.5L192.7 175.7L192.5 174.5L192.0 173.3L192.0 172.1L191.8 170.9L192.7 170.0L193.1 168.8L193.1 167.5L193.4 166.3L192.1 166.3L190.8 165.9L189.5 165.6L188.5 164.8L187.2 164.9L185.9 164.7L184.7 164.1L183.5 163.7L182.0 163.9L180.6 164.4L179.6 165.6L178.2 166.2L177.4 167.5L176.2 168.4L175.4 169.6L174.2 170.5L174.9 171.6L174.8 172.8Z" fill="#7fff00"/>
<path d="M214.1 188.0L215.1 188.6L216.3 188.4L217.5 188.7L218.4 189.5L219.6 189.7L220.6 190.3L221.6 190.9L222.4 191.7L223.5 192.2L224.7 192.5L225.8 193.0L226.8 193.7L227.3 194.9L228.4 193.3L229.6 191.6L231.6 191.1L233.4 190.1L234.3 188.2L234.5 186.0L233.5 184.1L233.1 182.0L233.3 179.9L233.3 177.8L234.5 176.0L235.0 174.0L233.7 173.6L232.4 173.9L231.6 172.9L230.3 172.4L229.2 173.1L227.9 173.3L226.7 172.8L225.4 172.6L224.1 172.9L222.9 172.6L221.7 172.7L220.5 173.1L219.3 172.7L218.1 172.7L216.9 172.1L215.7 172.1L214.4 173.7L214.0 175.7L213.2 177.7L211.7 179.1L210.8 181.0L210.2 183.0L210.5 185.1L210.8 187.2L211.9 187.2L213.1 187.4Z" fill="#eeee00"/>
<path d="M254.6 194.3L254.4 193.2L254.0 191.4L252.7 190.1L251.9 188.5L250.3 187.6L249.5 186.0L248.7 184.5L248.2 182.8L247.1 181.5L247.5 179.7L246.9 177.9L245.9 176.3L245.5 174.6L244.9 172.8L243.5 171.6L242.2 170.4L241.0 169.1L239.0 169.5L237.5 170.9L236.7 172.8L235.0 174.0L234.5 176.0L233.3 177.8L233.3 179.9L233.1 182.0L233.5 184.1L234.5 186.0L234.3 188.2L233.4 190.1L234.6 190.8L236.1 190.9L237.5 191.2L238.8 190.6L240.0 191.3L241.4 191.5L242.7 192.1L244.1 191.9L245.3 192.7L246.0 194.0L247.0 195.0L248.4 195.3L249.8 195.5L250.9 196.4L252.1 197.1L253.4 197.6L253.7 197.6L253.8 196.5L254.2 195.4Z" fill="#ffffff"/>
<path d="M258.8 176.6L258.1 175.0L257.4 173.4L257.2 171.6L256.9 169.9L256.2 168.3L254.3 168.7L252.3 168.7L250.7 169.9L248.7 170.1L246.7 170.1L244.8 170.5L242.8 169.9L241.1 169.0L241.0 169.1L242.2 170.4L243.5 171.6L244.9 172.8L245.5 174.6L245.9 176.3L246.9 177.9L247.5 179.7L247.1 181.5L248.2 182.8L248.7 184.5L249.5 186.0L250.3 187.6L251.9 188.5L252.7 190.1L254.0 191.4L254.4 193.2L255.8 191.7L256.9 189.9L257.0 187.8L258.2 186.1L259.9 185.0L261.2 183.4L261.8 181.4L263.1 179.8L261.5 178.8L259.9 178.0Z" fill="#7fff00"/>
<path d="M278.3 174.8L277.8 172.7L278.5 170.8L280.0 169.3L280.5 167.3L280.6 165.2L279.6 164.5L278.4 164.4L277.4 163.8L276.2 163.8L275.1 163.4L273.9 163.5L272.9 164.2L271.6 164.2L270.6 163.5L269.6 163.1L268.4 163.0L267.3 162.7L266.3 161.9L265.1 161.6L264.5 160.6L263.8 159.6L263.0 160.9L262.9 162.5L261.7 163.4L260.8 164.6L259.8 165.8L258.8 166.9L257.4 167.4L256.2 168.3L256.9 169.9L257.2 171.6L257.4 173.4L258.1 175.0L258.8 176.6L259.9 178.0L261.5 178.8L263.1 179.8L265.1 179.3L267.2 178.9L269.1 179.9L271.2 180.2L273.2 179.6L275.3 179.9L277.4 179.8L279.3 180.7L278.9 178.6L279.5 176.5Z" fill="#7fff00"/>
<path d="M282.7 179.8L284.1 178.7L285.5 177.7L287.2 178.0L288.9 177.9L290.6 177.7L292.3 178.3L293.9 177.8L295.6 178.1L297.3 178.5L298.9 178.2L300.6 178.8L300.7 178.9L301.9 177.0L301.2 173.8L298.8 168.8L297.5 165.0L295.0 162.5L290.0 163.0L286.0 165.0L283.8 165.6L283.1 162.8L281.8 163.4L280.6 165.2L280.5 167.3L280.0 169.3L278.5 170.8L277.8 172.7L278.3 174.8L279.5 176.5L278.9 178.6L279.3 180.7L279.5 181.0L280.9 179.9Z" fill="#ffffff"/>
<path d="M279.0 185.8L279.5 187.4L280.4 188.2L280.7 189.3L281.5 190.1L282.1 191.1L282.5 192.1L283.0 193.1L283.6 194.1L284.3 195.0L285.1 195.8L285.8 196.8L286.3 197.9L286.8 198.9L288.0 199.2L288.8 200.0L290.1 200.2L291.0 201.0L293.0 201.5L295.1 201.9L297.0 202.3L295.6 200.0L300.0 198.0L303.8 196.2L305.6 193.0L305.0 190.0L302.5 186.2L300.0 182.5L298.0 182.0L300.0 180.0L300.7 178.9L300.6 178.8L298.9 178.2L297.3 178.5L295.6 178.1L293.9 177.8L292.3 178.3L290.6 177.7L288.9 177.9L287.2 178.0L285.5 177.7L284.1 178.7L282.7 179.8L280.9 179.9L279.5 181.0L279.4 182.6L279.1 184.2Z" fill="#ffffff"/>
<path d="M259.4 198.4L261.0 199.1L262.8 198.7L264.6 199.3L266.3 199.8L268.1 199.9L269.9 201.1L270.8 203.0L272.4 204.4L273.5 206.2L274.0 208.3L274.4 210.4L276.1 211.8L277.3 213.6L278.4 213.2L279.4 212.4L280.6 212.3L281.8 212.0L282.4 210.9L283.1 209.9L284.1 209.2L285.0 208.3L286.0 207.4L286.7 206.3L287.0 205.0L286.8 203.7L287.9 203.0L288.9 202.3L290.1 201.9L291.0 201.0L290.1 200.2L288.8 200.0L288.0 199.2L286.8 198.9L286.3 197.9L285.8 196.8L285.1 195.8L284.3 195.0L283.6 194.1L283.0 193.1L282.5 192.1L282.1 191.1L281.5 190.1L280.7 189.3L280.4 188.2L279.5 187.4L279.0 185.8L279.1 184.2L279.4 182.6L279.5 181.0L279.3 180.7L277.4 179.8L275.3 179.9L273.2 179.6L271.2 180.2L269.1 179.9L267.2 178.9L265.1 179.3L263.1 179.8L261.8 181.4L261.2 183.4L259.9 185.0L258.2 186.1L257.0 187.8L256.9 189.9L255.8 191.7L254.4 193.2L254.6 194.3L254.2 195.4L253.8 196.5L253.7 197.6L254.1 197.9L255.8 198.6L257.6 198.2Z" fill="#7fff00"/>
<path d="M204.9 186.9L203.0 186.7L201.0 186.7L199.3 185.9L197.3 185.7L195.7 184.6L194.5 185.5L193.6 186.7L192.5 187.7L191.3 188.6L190.2 189.7L189.0 190.7L187.5 191.1L186.0 191.5L186.7 192.8L187.0 194.2L186.7 195.6L186.4 197.1L186.6 198.5L186.7 199.9L187.3 201.3L188.3 202.4L190.3 202.4L192.2 201.8L194.1 202.5L196.1 202.9L198.1 203.2L199.7 204.5L201.1 205.8L202.8 206.8L203.9 206.2L205.1 205.7L205.6 204.5L206.6 203.7L206.7 202.4L207.3 201.3L208.0 200.2L208.0 198.9L209.0 198.1L209.7 197.1L210.1 195.8L209.8 194.4L210.7 193.5L211.4 192.3L211.1 191.0L210.8 189.8L210.5 188.6L210.5 187.3L208.6 186.9L206.7 187.2Z" fill="#ffffff"/>
<path d="M211.1 191.0L211.4 192.3L210.7 193.5L209.8 194.4L210.1 195.8L209.7 197.1L209.0 198.1L208.0 198.9L208.0 200.2L207.3 201.3L206.7 202.4L206.6 203.7L205.6 204.5L205.1 205.7L207.1 206.4L209.1 206.7L211.0 207.7L213.0 208.3L214.8 209.2L216.8 209.9L218.6 211.0L220.8 211.2L221.9 210.9L222.7 210.2L223.7 209.5L224.7 209.2L225.3 208.2L225.6 207.1L225.9 206.0L226.8 205.2L226.8 203.9L227.1 202.5L226.7 201.2L226.1 200.0L226.8 198.9L227.4 197.6L227.0 196.3L227.3 194.9L226.8 193.7L225.8 193.0L224.7 192.5L223.5 192.2L222.4 191.7L221.6 190.9L220.6 190.3L219.6 189.7L218.4 189.5L217.5 188.7L216.3 188.4L215.1 188.6L214.1 188.0L213.1 187.4L211.9 187.2L210.8 187.2L210.5 187.3L210.5 188.6L210.8 189.8Z" fill="#ffffff"/>
<path d="M249.8 195.5L248.4 195.3L247.0 195.0L246.0 194.0L245.3 192.7L244.1 191.9L242.7 192.1L241.4 191.5L240.0 191.3L238.8 190.6L237.5 191.2L236.1 190.9L234.6 190.8L233.4 190.1L231.6 191.1L229.6 191.6L228.4 193.3L227.3 194.9L227.0 196.3L227.4 197.6L226.8 198.9L226.1 200.0L226.7 201.2L227.1 202.5L226.8 203.9L226.8 205.2L228.5 206.0L230.3 206.5L232.2 206.2L234.1 206.5L236.0 207.1L237.4 208.3L239.0 209.4L240.4 210.6L240.8 209.5L241.7 208.6L241.7 207.4L242.2 206.3L243.4 205.8L244.3 204.9L244.8 203.8L245.7 203.0L246.4 202.0L247.4 201.2L248.2 200.3L248.8 199.2L249.9 198.6L250.8 197.8L252.1 197.7L253.4 197.6L252.1 197.1L250.9 196.4Z" fill="#006d2c"/>
<path d="M250.8 197.8L249.9 198.6L248.8 199.2L248.2 200.3L247.4 201.2L246.4 202.0L245.7 203.0L244.8 203.8L244.3 204.9L243.4 205.8L242.2 206.3L241.7 207.4L241.7 208.6L240.8 209.5L240.4 210.6L240.6 212.3L240.2 213.9L241.2 215.3L241.4 217.0L241.9 218.6L242.9 220.1L242.9 221.8L242.5 223.4L244.0 223.8L245.1 224.9L246.6 225.6L248.1 225.6L249.7 225.5L251.1 225.2L252.6 224.9L254.1 224.5L255.2 222.7L256.8 221.1L257.3 219.1L258.2 217.1L258.2 215.8L258.9 214.6L259.2 213.3L259.7 212.1L258.9 211.0L258.8 209.6L258.3 208.4L258.3 207.0L257.5 206.0L257.0 204.8L256.7 203.6L256.2 202.4L256.1 201.1L255.2 200.1L254.5 199.1L254.1 197.9L253.7 197.6L253.4 197.6L252.1 197.7Z" fill="#ffffff"/>
<path d="M256.2 202.4L256.7 203.6L257.0 204.8L257.5 206.0L258.3 207.0L258.3 208.4L258.8 209.6L258.9 211.0L259.7 212.1L259.2 213.3L258.9 214.6L258.2 215.8L258.2 217.1L257.3 219.1L256.8 221.1L255.2 222.7L254.1 224.5L255.2 225.6L255.8 227.1L256.7 228.3L257.7 229.5L258.9 229.8L260.0 230.2L261.1 229.5L262.3 229.4L263.1 230.4L264.3 230.8L265.5 231.2L266.7 230.8L267.7 230.1L268.9 229.8L269.8 229.0L271.0 228.8L272.1 229.4L273.3 229.7L274.5 229.9L275.7 229.5L276.0 228.1L276.1 226.7L275.8 225.3L276.2 223.9L277.3 222.9L277.8 221.6L278.5 220.3L279.1 219.0L278.5 217.8L277.6 216.7L277.2 215.4L277.2 214.0L277.3 213.6L276.1 211.8L274.4 210.4L274.0 208.3L273.5 206.2L272.4 204.4L270.8 203.0L269.9 201.1L268.1 199.9L266.3 199.8L264.6 199.3L262.8 198.7L261.0 199.1L259.4 198.4L257.6 198.2L255.8 198.6L254.1 197.9L254.5 199.1L255.2 200.1L256.1 201.1Z" fill="#7fff00"/>
<path d="M278.5 217.8L279.1 219.0L280.5 218.8L281.9 218.9L283.1 218.1L284.4 217.5L285.8 217.3L287.2 217.8L288.5 218.4L289.7 219.2L291.0 219.7L292.2 220.4L293.1 221.5L294.1 222.6L295.4 223.2L296.8 223.3L298.2 222.8L299.6 222.9L301.2 221.5L301.9 220.0L301.9 220.0L300.6 216.2L301.9 213.0L304.4 211.2L303.8 208.8L300.0 206.2L297.5 203.0L297.0 202.3L295.1 201.9L293.0 201.5L291.0 201.0L290.1 201.9L288.9 202.3L287.9 203.0L286.8 203.7L287.0 205.0L286.7 206.3L286.0 207.4L285.0 208.3L284.1 209.2L283.1 209.9L282.4 210.9L281.8 212.0L280.6 212.3L279.4 212.4L278.4 213.2L277.3 213.6L277.2 214.0L277.2 215.4L277.6 216.7Z" fill="#ffffff"/>
<path d="M184.6 205.7L183.1 206.7L182.3 208.2L181.6 209.7L180.7 211.2L179.8 212.6L179.8 214.3L179.9 216.0L181.0 217.4L181.6 219.0L182.9 219.0L184.2 218.6L185.3 219.3L186.6 219.4L187.5 220.4L188.7 220.9L190.0 220.9L191.2 221.6L192.4 221.9L193.6 222.4L195.0 222.1L196.2 222.6L197.1 223.6L197.9 224.5L198.8 225.6L200.0 226.1L199.8 224.9L200.1 223.6L200.5 222.4L200.9 221.3L201.3 220.0L200.9 218.8L201.1 217.6L200.6 216.4L200.7 215.1L200.9 213.8L201.9 212.9L202.7 211.8L202.6 210.6L202.6 209.3L202.7 208.1L202.8 206.8L201.1 205.8L199.7 204.5L198.1 203.2L196.1 202.9L194.1 202.5L192.2 201.8L190.3 202.4L188.3 202.4L187.0 203.5L185.3 204.1Z" fill="#006d2c"/>
<path d="M176.7 189.1L175.6 189.3L174.8 190.0L174.1 190.9L173.0 191.2L172.0 191.6L170.0 192.4L168.4 193.8L166.4 194.5L164.5 195.4L163.9 196.8L163.0 197.9L162.4 199.3L162.5 200.8L163.7 201.6L164.6 202.6L165.2 203.9L166.0 205.0L166.5 206.3L167.0 207.6L167.8 208.7L169.0 209.5L170.4 209.5L171.7 210.1L173.1 210.5L174.5 210.5L175.9 211.1L177.2 211.6L178.6 211.9L179.8 212.6L180.7 211.2L181.6 209.7L182.3 208.2L183.1 206.7L184.6 205.7L185.3 204.1L187.0 203.5L188.3 202.4L187.3 201.3L186.7 199.9L186.6 198.5L186.4 197.1L186.7 195.6L187.0 194.2L186.7 192.8L186.0 191.5L184.4 190.6L183.3 189.1L181.5 188.6L179.8 188.2L178.7 188.6L177.8 189.3Z" fill="#eeee00"/>
<path d="M202.6 209.3L202.6 210.6L202.7 211.8L201.9 212.9L200.9 213.8L200.7 215.1L200.6 216.4L201.1 217.6L200.9 218.8L201.3 220.0L200.9 221.3L200.5 222.4L200.1 223.6L199.8 224.9L200.0 226.1L200.1 226.3L201.6 227.1L203.3 227.0L204.8 227.6L206.3 228.1L208.2 229.0L209.8 230.3L210.9 232.1L212.1 233.8L212.6 235.9L213.6 237.7L215.7 238.5L216.9 240.3L217.7 239.4L218.8 238.7L219.3 237.6L219.6 236.4L220.7 235.9L221.8 235.5L223.0 235.1L224.1 234.6L224.9 233.8L225.8 232.9L227.0 233.0L228.2 232.4L229.3 232.2L230.4 231.9L231.5 231.4L232.6 231.2L231.5 230.7L230.5 229.9L230.1 228.6L229.0 227.8L228.7 226.5L229.0 225.2L228.5 224.1L228.0 222.9L226.9 222.3L226.1 221.4L225.6 220.3L224.5 219.6L223.9 218.5L223.1 217.6L222.1 216.9L221.0 216.4L220.7 215.1L220.9 213.8L220.5 212.5L220.8 211.2L218.6 211.0L216.8 209.9L214.8 209.2L213.0 208.3L211.0 207.7L209.1 206.7L207.1 206.4L205.1 205.7L203.9 206.2L202.8 206.8L202.7 208.1Z" fill="#eeee00"/>
<path d="M236.0 207.1L234.1 206.5L232.2 206.2L230.3 206.5L228.5 206.0L226.8 205.2L225.9 206.0L225.6 207.1L225.3 208.2L224.7 209.2L223.7 209.5L222.7 210.2L221.9 210.9L220.8 211.2L220.5 212.5L220.9 213.8L220.7 215.1L221.0 216.4L222.1 216.9L223.1 217.6L223.9 218.5L224.5 219.6L225.6 220.3L226.1 221.4L226.9 222.3L228.0 222.9L228.5 224.1L229.0 225.2L228.7 226.5L229.0 227.8L230.1 228.6L230.5 229.9L231.5 230.7L232.6 231.2L233.2 231.3L234.7 230.7L236.3 230.5L237.8 229.9L239.0 228.8L239.5 227.2L240.5 225.9L241.6 224.8L242.5 223.4L242.9 221.8L242.9 220.1L241.9 218.6L241.4 217.0L241.2 215.3L240.2 213.9L240.6 212.3L240.4 210.6L239.0 209.4L237.4 208.3Z" fill="#ffffff"/>
<path d="M142.2 142.8L141.0 141.8L139.6 141.9L138.3 142.2L136.9 142.0L135.5 141.8L134.2 141.2L132.8 141.1L131.5 141.1L130.1 140.8L128.7 141.2L127.3 141.5L126.2 142.5L125.3 143.7L123.9 143.8L122.5 143.7L121.0 143.5L120.0 144.0L120.0 145.0L122.0 150.0L124.4 155.0L127.0 158.8L130.0 162.5L132.4 164.1L132.9 163.8L134.4 163.1L135.9 163.3L137.5 163.5L139.0 163.3L140.5 163.1L142.1 162.8L143.1 161.6L144.5 160.8L145.2 159.0L145.4 157.1L145.7 155.3L146.1 153.4L145.7 151.6L145.8 149.7L145.6 147.8L145.8 145.9L144.4 145.2L143.2 144.2Z" fill="#7fff00"/>
<path d="M162.5 170.3L163.5 169.4L164.1 167.9L165.1 166.7L164.9 165.1L165.6 163.6L164.9 162.1L165.0 160.6L165.1 159.0L165.0 157.5L165.8 156.1L166.0 154.5L165.7 152.9L166.1 151.3L165.0 150.1L164.2 148.7L164.3 147.0L163.5 145.6L162.3 144.2L160.7 143.3L158.8 142.5L156.9 142.9L155.0 143.4L153.1 143.7L151.2 143.8L149.2 144.1L147.8 145.4L145.8 145.9L145.6 147.8L145.8 149.7L145.7 151.6L146.1 153.4L145.7 155.3L145.4 157.1L145.2 159.0L144.5 160.8L145.4 162.0L146.3 163.3L147.7 164.0L149.3 164.3L149.9 165.8L150.2 167.3L151.2 168.6L152.5 169.4L154.2 169.1L155.8 169.8L157.4 170.2L158.6 171.5L159.9 171.1L161.3 170.9Z" fill="#eeee00"/>
<path d="M167.8 169.7L169.0 168.8L170.3 169.1L171.5 169.7L172.9 169.9L174.2 170.5L175.4 169.6L176.2 168.4L177.4 167.5L178.2 166.2L179.6 165.6L180.6 164.4L182.0 163.9L183.5 163.7L183.9 162.7L184.2 161.6L184.1 160.4L184.0 159.3L183.5 158.3L182.9 157.3L182.4 156.2L182.6 155.1L182.6 152.9L182.3 150.7L182.0 149.6L181.1 148.8L181.0 147.6L181.2 146.5L180.0 146.2L178.9 146.2L177.7 146.2L176.6 146.2L175.5 145.7L174.6 144.9L173.5 144.6L172.4 144.2L171.3 144.1L170.2 144.3L169.0 144.3L167.9 144.4L166.7 144.6L165.8 145.4L164.6 145.2L163.5 145.6L164.3 147.0L164.2 148.7L165.0 150.1L166.1 151.3L165.7 152.9L166.0 154.5L165.8 156.1L165.0 157.5L165.1 159.0L165.0 160.6L164.9 162.1L165.6 163.6L164.9 165.1L165.1 166.7L164.1 167.9L163.5 169.4L165.0 169.3L166.3 169.9Z" fill="#eeee00"/>
<path d="M149.3 164.3L147.7 164.0L146.3 163.3L145.4 162.0L144.5 160.8L143.1 161.6L142.1 162.8L140.5 163.1L139.0 163.3L137.5 163.5L135.9 163.3L134.4 163.1L132.9 163.8L132.4 164.1L133.8 165.0L137.5 167.0L138.0 169.4L138.8 172.5L137.0 177.0L137.3 179.6L137.5 181.2L138.8 183.8L142.0 187.0L142.7 188.0L144.3 188.6L145.9 189.5L146.0 190.6L145.9 191.8L146.4 192.8L146.9 193.9L147.3 194.9L148.0 195.8L148.5 196.9L148.9 197.9L150.0 198.8L151.5 199.0L152.1 200.4L153.4 201.1L154.8 201.2L156.1 201.8L157.4 201.7L158.8 201.7L160.7 201.2L162.5 200.8L162.4 199.3L163.0 197.9L163.9 196.8L164.5 195.4L163.3 193.8L163.0 191.8L161.1 191.2L159.9 189.5L159.3 187.8L158.9 185.9L157.7 184.4L157.6 182.5L157.7 181.0L157.9 179.5L158.3 178.1L159.5 177.1L158.9 175.8L158.5 174.4L158.5 172.9L158.6 171.5L157.4 170.2L155.8 169.8L154.2 169.1L152.5 169.4L151.2 168.6L150.2 167.3L149.9 165.8ZM139.0 188.6L140.4 188.4L139.0 187.0L138.8 188.3Z" fill="#7fff00"/>
<path d="M158.9 175.8L159.5 177.1L158.3 178.1L157.9 179.5L157.7 181.0L157.6 182.5L157.7 184.4L158.9 185.9L159.3 187.8L159.9 189.5L161.1 191.2L163.0 191.8L163.3 193.8L164.5 195.4L166.4 194.5L168.4 193.8L170.0 192.4L172.0 191.6L173.0 191.2L174.1 190.9L174.8 190.0L175.6 189.3L176.7 189.1L177.8 189.3L178.7 188.6L179.8 188.2L179.5 187.1L179.3 185.9L179.2 184.7L178.5 183.7L178.9 182.5L178.9 181.3L178.1 180.3L178.0 179.0L176.8 178.5L176.1 177.5L175.9 176.2L175.0 175.3L175.0 174.0L174.8 172.8L174.9 171.6L174.2 170.5L172.9 169.9L171.5 169.7L170.3 169.1L169.0 168.8L167.8 169.7L166.3 169.9L165.0 169.3L163.5 169.4L162.5 170.3L161.3 170.9L159.9 171.1L158.6 171.5L158.5 172.9L158.5 174.4Z" fill="#7fff00"/>
<path d="M146.0 196.0L143.5 192.5L141.0 189.0L140.4 188.4L139.0 188.6L138.8 188.3L138.0 192.5L137.5 198.8L136.2 205.0L136.0 206.8L135.7 208.2L135.6 209.0L136.8 210.5L135.3 212.0L135.0 215.0L133.8 221.2L133.6 222.0L134.4 222.4L136.4 222.3L138.3 222.4L140.2 222.7L142.0 223.6L144.0 224.0L145.9 223.7L147.9 223.2L149.8 223.7L151.7 224.1L153.3 225.3L155.0 226.3L156.5 227.5L156.7 226.0L156.6 224.6L157.0 223.2L158.0 222.0L158.9 220.9L160.1 220.1L160.8 218.8L161.0 217.3L161.8 215.9L163.2 215.3L164.7 215.2L166.0 214.5L167.0 213.3L168.0 212.3L168.3 210.8L169.0 209.5L167.8 208.7L167.0 207.6L166.5 206.3L166.0 205.0L165.2 203.9L164.6 202.6L163.7 201.6L162.5 200.8L160.7 201.2L158.8 201.7L157.4 201.7L156.1 201.8L154.8 201.2L153.4 201.1L152.1 200.4L151.5 199.0L150.0 198.8L148.9 197.9L148.5 196.9L148.0 195.8L147.3 194.9L146.9 193.9L146.4 192.8L145.9 191.8L146.0 190.6L145.9 189.5L144.3 188.6L142.7 188.0L143.0 188.5L145.0 192.0Z" fill="#006d2c"/>
<path d="M159.0 231.0L160.2 230.9L161.3 230.8L162.3 230.4L163.4 230.6L164.5 230.9L165.6 231.1L166.6 231.4L167.8 231.3L168.7 230.6L169.8 230.3L171.0 230.3L172.1 230.4L173.2 230.4L174.3 230.6L175.3 231.2L176.6 229.8L177.2 228.1L177.4 226.3L177.3 224.5L177.7 222.7L178.6 221.1L180.3 220.3L181.6 219.0L181.0 217.4L179.9 216.0L179.8 214.3L179.8 212.6L178.6 211.9L177.2 211.6L175.9 211.1L174.5 210.5L173.1 210.5L171.7 210.1L170.4 209.5L169.0 209.5L168.3 210.8L168.0 212.3L167.0 213.3L166.0 214.5L164.7 215.2L163.2 215.3L161.8 215.9L161.0 217.3L160.8 218.8L160.1 220.1L158.9 220.9L158.0 222.0L157.0 223.2L156.6 224.6L156.7 226.0L156.5 227.5L157.5 228.9L157.9 230.7Z" fill="#eeee00"/>
<path d="M131.2 242.8L132.6 242.8L133.9 243.4L135.3 243.3L136.7 243.2L138.1 243.3L139.5 243.5L140.7 244.2L141.9 244.9L143.1 245.6L144.5 245.7L145.7 245.0L147.1 245.0L148.4 244.9L149.6 244.1L151.0 244.0L152.4 244.5L153.8 244.2L153.6 242.4L153.7 240.5L154.9 239.1L155.5 237.3L155.4 235.5L156.0 233.8L156.9 232.2L157.9 230.7L157.5 228.9L156.5 227.5L155.0 226.3L153.3 225.3L151.7 224.1L149.8 223.7L147.9 223.2L145.9 223.7L144.0 224.0L142.0 223.6L140.2 222.7L138.3 222.4L136.4 222.3L134.4 222.4L133.6 222.0L132.5 227.5L131.2 233.8L130.0 240.0L128.4 242.9L128.5 243.0L129.9 243.3Z" fill="#7fff00"/>
<path d="M197.1 223.6L196.2 222.6L195.0 222.1L193.6 222.4L192.4 221.9L191.2 221.6L190.0 220.9L188.7 220.9L187.5 220.4L186.6 219.4L185.3 219.3L184.2 218.6L182.9 219.0L181.6 219.0L180.3 220.3L178.6 221.1L177.7 222.7L177.3 224.5L177.4 226.3L177.2 228.1L176.6 229.8L175.3 231.2L176.4 232.3L177.6 233.5L177.7 235.1L178.6 236.5L180.4 237.7L182.4 237.8L184.4 237.1L186.4 237.1L188.4 236.5L190.3 235.8L192.3 235.6L194.2 236.5L195.6 235.6L196.2 234.2L196.1 232.6L196.7 231.1L197.9 230.2L199.0 229.1L199.5 227.7L200.1 226.3L200.0 226.1L198.8 225.6L197.9 224.5Z" fill="#7fff00"/>
<path d="M178.1 238.0L178.6 236.5L177.7 235.1L177.6 233.5L176.4 232.3L175.3 231.2L174.3 230.6L173.2 230.4L172.1 230.4L171.0 230.3L169.8 230.3L168.7 230.6L167.8 231.3L166.6 231.4L165.6 231.1L164.5 230.9L163.4 230.6L162.3 230.4L161.3 230.8L160.2 230.9L159.0 231.0L157.9 230.7L156.9 232.2L156.0 233.8L155.4 235.5L155.5 237.3L154.9 239.1L153.7 240.5L153.6 242.4L153.8 244.2L154.1 245.0L156.0 245.5L157.9 246.2L159.7 246.8L161.3 247.9L162.9 249.0L164.5 250.2L166.1 251.5L168.2 251.6L169.5 251.1L170.9 250.9L171.7 249.6L173.0 249.0L174.3 248.2L175.5 247.6L176.6 246.6L177.2 245.3L177.6 243.9L177.9 242.5L177.9 240.9L177.6 239.4Z" fill="#eeee00"/>
<path d="M151.0 244.0L149.6 244.1L148.4 244.9L147.1 245.0L145.7 245.0L144.5 245.7L143.1 245.6L141.9 244.9L140.7 244.2L139.5 243.5L138.1 243.3L136.7 243.2L135.3 243.3L133.9 243.4L132.6 242.8L131.2 242.8L129.9 243.3L128.5 243.0L128.4 242.9L127.5 244.4L122.5 248.5L125.6 250.6L128.8 252.5L129.4 256.2L132.5 257.5L137.5 259.4L141.2 260.6L145.0 263.0L147.5 265.6L147.8 265.5L154.1 245.0L153.8 244.2L152.4 244.5Z" fill="#7fff00"/>
<path d="M167.9 266.4L167.3 265.1L167.6 263.6L167.1 262.3L167.4 260.9L168.0 259.7L167.9 258.3L167.6 256.9L167.7 255.6L168.0 254.3L168.1 252.9L168.2 251.6L166.1 251.5L164.5 250.2L162.9 249.0L161.3 247.9L159.7 246.8L157.9 246.2L156.0 245.5L154.1 245.0L147.8 265.5L150.6 264.4L153.0 263.8L155.0 266.2L157.5 268.8L161.2 268.8L165.0 269.4L168.6 269.4L168.6 269.2L168.5 267.7Z" fill="#eeee00"/>
<path d="M194.2 244.2L194.7 242.3L194.3 240.3L194.3 238.4L194.2 236.5L192.3 235.6L190.3 235.8L188.4 236.5L186.4 237.1L184.4 237.1L182.4 237.8L180.4 237.7L178.6 236.5L178.1 238.0L177.6 239.4L177.9 240.9L177.9 242.5L177.6 243.9L177.2 245.3L176.6 246.6L175.5 247.6L174.3 248.2L173.0 249.0L171.7 249.6L170.9 250.9L169.5 251.1L168.2 251.6L168.1 252.9L168.0 254.3L167.7 255.6L167.6 256.9L167.9 258.3L168.0 259.7L167.4 260.9L167.1 262.3L167.6 263.6L167.3 265.1L167.9 266.4L168.5 267.7L168.6 269.2L168.6 269.4L168.8 269.4L172.0 268.8L173.8 267.0L176.2 265.0L178.0 266.2L180.1 267.4L180.1 267.3L181.2 266.4L181.3 265.1L181.6 263.8L181.6 262.4L181.9 261.1L181.3 259.9L181.2 258.5L183.3 258.6L185.3 258.2L187.4 258.1L189.1 256.9L189.8 255.8L190.9 255.2L192.0 254.5L192.6 253.4L193.7 253.0L194.8 253.1L195.7 252.2L196.8 251.9L197.4 251.2L195.9 249.8L194.9 248.1L194.0 246.2Z" fill="#eeee00"/>
<path d="M181.6 263.8L181.3 265.1L181.2 266.4L180.1 267.3L180.1 267.4L181.2 268.0L185.0 270.0L187.5 272.0L188.2 272.1L191.2 272.5L194.4 273.8L195.0 275.6L199.4 277.0L200.9 278.9L202.3 278.0L203.5 276.4L203.4 274.4L203.3 272.3L203.6 270.3L204.5 268.5L203.7 267.6L203.4 266.5L202.9 265.4L202.2 264.5L202.4 263.3L202.0 262.2L201.7 261.0L201.1 260.0L200.2 259.2L199.5 258.3L198.7 257.4L197.9 256.5L197.0 255.6L196.7 254.4L196.5 253.1L196.8 251.9L195.7 252.2L194.8 253.1L193.7 253.0L192.6 253.4L192.0 254.5L190.9 255.2L189.8 255.8L189.1 256.9L187.4 258.1L185.3 258.2L183.3 258.6L181.2 258.5L181.3 259.9L181.9 261.1L181.6 262.4Z" fill="#006d2c"/>
<path d="M201.6 227.1L200.1 226.3L199.5 227.7L199.0 229.1L197.9 230.2L196.7 231.1L196.1 232.6L196.2 234.2L195.6 235.6L194.2 236.5L194.3 238.4L194.3 240.3L194.7 242.3L194.2 244.2L194.0 246.2L194.9 248.1L195.9 249.8L197.4 251.2L198.6 251.0L199.7 250.2L200.9 250.3L202.2 250.5L203.2 249.8L203.9 248.8L205.0 248.2L205.8 247.3L206.9 247.8L208.1 248.2L209.3 247.9L210.5 248.1L211.8 247.9L212.7 247.1L213.9 246.9L215.1 247.1L215.9 245.5L216.2 243.8L216.3 242.0L216.9 240.3L215.7 238.5L213.6 237.7L212.6 235.9L212.1 233.8L210.9 232.1L209.8 230.3L208.2 229.0L206.3 228.1L204.8 227.6L203.3 227.0Z" fill="#7fff00"/>
<path d="M196.7 254.4L197.0 255.6L197.9 256.5L198.7 257.4L199.5 258.3L200.2 259.2L201.1 260.0L201.7 261.0L202.0 262.2L202.4 263.3L202.2 264.5L202.9 265.4L203.4 266.5L203.7 267.6L204.5 268.5L205.6 267.6L206.1 266.2L207.5 265.8L208.5 264.7L209.9 264.4L211.3 264.7L212.7 264.1L213.7 263.1L215.1 262.9L216.4 263.5L217.8 263.7L219.1 263.1L220.5 263.1L221.7 262.3L223.0 262.4L223.4 262.2L223.7 261.4L223.4 261.2L222.9 260.1L222.4 259.0L221.5 258.2L221.3 257.0L221.1 255.9L220.9 254.7L221.3 253.5L220.3 252.8L219.3 252.4L218.5 251.5L217.4 251.1L216.7 250.1L216.7 248.9L215.8 248.0L215.1 247.1L213.9 246.9L212.7 247.1L211.8 247.9L210.5 248.1L209.3 247.9L208.1 248.2L206.9 247.8L205.8 247.3L205.0 248.2L203.9 248.8L203.2 249.8L202.2 250.5L200.9 250.3L199.7 250.2L198.6 251.0L197.4 251.2L196.8 251.9L196.5 253.1Z" fill="#7fff00"/>
<path d="M203.4 274.4L203.5 276.4L202.3 278.0L200.9 278.9L201.2 279.4L205.0 280.0L208.8 278.8L212.5 280.0L216.2 279.4L220.0 277.5L223.8 278.0L225.0 276.2L223.0 272.5L222.5 268.8L222.5 265.0L223.4 262.2L223.0 262.4L221.7 262.3L220.5 263.1L219.1 263.1L217.8 263.7L216.4 263.5L215.1 262.9L213.7 263.1L212.7 264.1L211.3 264.7L209.9 264.4L208.5 264.7L207.5 265.8L206.1 266.2L205.6 267.6L204.5 268.5L203.6 270.3L203.3 272.3Z" fill="#ffffff"/>
<path d="M229.3 232.2L228.2 232.4L227.0 233.0L225.8 232.9L224.9 233.8L224.1 234.6L223.0 235.1L221.8 235.5L220.7 235.9L219.6 236.4L219.3 237.6L218.8 238.7L217.7 239.4L216.9 240.3L216.3 242.0L216.2 243.8L215.9 245.5L215.1 247.1L215.8 248.0L216.7 248.9L216.7 250.1L217.4 251.1L218.5 251.5L219.3 252.4L220.3 252.8L221.3 253.5L220.9 254.7L221.1 255.9L221.3 257.0L221.5 258.2L222.4 259.0L222.9 260.1L223.4 261.2L223.7 261.4L223.8 261.2L225.0 257.5L226.2 255.6L231.2 254.4L233.8 252.0L237.5 249.4L241.2 247.0L242.6 246.6L242.1 246.2L241.9 244.3L241.9 242.5L240.6 241.2L239.0 240.3L237.7 239.0L236.7 237.5L235.5 236.1L234.0 234.9L233.8 233.0L233.2 231.3L232.6 231.2L231.5 231.4L230.4 231.9Z" fill="#ffffff"/>
<path d="M239.5 227.2L239.0 228.8L237.8 229.9L236.3 230.5L234.7 230.7L233.2 231.3L233.8 233.0L234.0 234.9L235.5 236.1L236.7 237.5L237.7 239.0L239.0 240.3L240.6 241.2L241.9 242.5L241.9 244.3L242.1 246.2L242.6 246.6L243.8 246.2L246.2 247.0L248.8 248.0L251.3 248.9L251.5 248.6L253.0 247.1L254.8 246.0L255.9 244.1L256.3 242.0L256.3 240.4L257.1 238.9L257.2 237.3L257.8 235.8L258.2 234.3L258.1 232.7L258.1 231.1L257.7 229.5L256.7 228.3L255.8 227.1L255.2 225.6L254.1 224.5L252.6 224.9L251.1 225.2L249.7 225.5L248.1 225.6L246.6 225.6L245.1 224.9L244.0 223.8L242.5 223.4L241.6 224.8L240.5 225.9Z" fill="#ffffff"/>
<path d="M272.1 229.4L271.0 228.8L269.8 229.0L268.9 229.8L267.7 230.1L266.7 230.8L265.5 231.2L264.3 230.8L263.1 230.4L262.3 229.4L261.1 229.5L260.0 230.2L258.9 229.8L257.7 229.5L258.1 231.1L258.1 232.7L258.2 234.3L257.8 235.8L257.2 237.3L257.1 238.9L256.3 240.4L256.3 242.0L257.7 242.0L259.0 242.5L260.4 242.1L261.8 242.1L263.1 241.7L264.5 242.2L265.8 241.9L267.2 242.2L268.6 242.3L270.0 242.7L271.2 241.9L272.6 241.6L274.0 242.0L275.3 241.4L276.6 241.9L278.0 242.0L278.3 240.4L279.2 239.1L278.5 237.9L278.3 236.6L277.5 235.4L276.3 234.7L276.7 233.4L276.5 232.0L275.9 230.8L275.7 229.5L274.5 229.9L273.3 229.7Z" fill="#ffffff"/>
<path d="M274.0 242.0L272.6 241.6L271.2 241.9L270.0 242.7L268.6 242.3L267.2 242.2L265.8 241.9L264.5 242.2L263.1 241.7L261.8 242.1L260.4 242.1L259.0 242.5L257.7 242.0L256.3 242.0L255.9 244.1L254.8 246.0L253.0 247.1L251.5 248.6L251.3 248.9L252.5 249.4L255.0 251.2L260.0 250.6L263.8 250.0L266.2 251.2L270.0 252.0L271.2 254.4L276.2 255.0L276.4 255.1L276.8 253.7L276.8 252.2L276.7 250.7L277.0 249.2L277.7 247.9L277.7 246.4L278.1 245.0L277.8 243.5L278.0 242.0L276.6 241.9L275.3 241.4Z" fill="#ffffff"/>
<path d="M277.8 243.5L278.1 245.0L277.7 246.4L277.7 247.9L277.0 249.2L276.7 250.7L276.8 252.2L276.8 253.7L276.4 255.1L279.4 256.2L282.0 258.0L285.0 258.8L288.8 258.8L292.5 257.5L296.2 255.0L298.0 252.5L300.0 250.0L302.0 247.5L303.5 245.8L296.8 237.1L295.6 237.5L294.5 237.3L293.4 237.5L292.4 238.1L291.2 238.0L290.1 238.3L289.0 237.8L287.9 237.5L286.8 237.9L285.6 237.8L284.9 238.7L283.7 239.0L282.6 238.9L281.5 238.6L280.4 239.0L279.2 239.1L278.3 240.4L278.0 242.0Z" fill="#ffffff"/>
<path d="M277.3 222.9L276.2 223.9L275.8 225.3L276.1 226.7L276.0 228.1L275.7 229.5L275.9 230.8L276.5 232.0L276.7 233.4L276.3 234.7L277.5 235.4L278.3 236.6L278.5 237.9L279.2 239.1L280.4 239.0L281.5 238.6L282.6 238.9L283.7 239.0L284.9 238.7L285.6 237.8L286.8 237.9L287.9 237.5L289.0 237.8L290.1 238.3L291.2 238.0L292.4 238.1L293.4 237.5L294.5 237.3L295.6 237.5L296.8 237.1L298.6 236.1L299.5 234.3L299.6 232.3L300.1 230.4L299.8 228.5L299.7 226.7L300.2 224.8L299.6 222.9L298.2 222.8L296.8 223.3L295.4 223.2L294.1 222.6L293.1 221.5L292.2 220.4L291.0 219.7L289.7 219.2L288.5 218.4L287.2 217.8L285.8 217.3L284.4 217.5L283.1 218.1L281.9 218.9L280.5 218.8L279.1 219.0L278.5 220.3L277.8 221.6Z" fill="#ffffff"/>
<path d="M300.2 224.8L299.7 226.7L299.8 228.5L300.1 230.4L299.6 232.3L299.5 234.3L298.6 236.1L296.8 237.1L303.5 245.8L303.8 245.6L307.5 243.8L311.2 240.3L315.0 236.5L317.5 232.5L318.8 228.0L316.2 225.6L312.5 226.2L307.5 223.8L303.8 222.0L301.9 220.0L301.2 221.5L299.6 222.9Z" fill="#ffffff"/>
<path d="M207.6 96.8L210.0 97.6L212.5 97.0L213.5 95.0L213.3 92.6L211.5 91.4L209.0 91.2L207.0 92.2L206.6 94.6Z" fill="#ffffff"/>
<path d="M301.6 129.5L300.8 126.0L299.0 123.0L296.5 124.0L297.0 127.5L299.0 130.5L301.3 132.0L301.5 132.1Z" fill="#ffffff"/>
<path d="M67.5 97.5L68.8 97.2L69.0 98.6L67.8 98.8Z" fill="#006d2c"/>
<path d="M100.0 131.5L103.5 132.5L104.0 135.0L101.0 134.5Z" fill="#7fff00"/>
<path d="M96.0 123.0L98.0 123.3L98.0 124.3L96.2 124.0Z" fill="#7fff00"/>
<path d="M118.5 143.5L120.3 144.0L120.8 146.5L119.0 146.0Z" fill="#7fff00"/>
<path d="M116.0 151.3L117.8 151.8L117.5 153.0L116.0 152.5Z" fill="#7fff00"/>
<path d="M131.0 166.0L135.0 167.3L135.0 168.4L131.3 167.3Z" fill="#7fff00"/>
<path d="M134.4 172.5L136.5 174.0L137.8 178.5L136.0 177.5Z" fill="#7fff00"/>
<path d="M207 94.4Q208.6 92.9 210.4 94.1T213.3 94.9M209.9 94.3L209.4 97.3M210.6 91.6L210.4 93.9" fill="none" stroke-width="0.6"/>
</g></g>
<rect x="66.90" y="30.45" width="253.50" height="250.45" fill="none" stroke="#333" stroke-width="0.90"/>
<rect x="323.50" y="30.45" width="8.50" height="42.04" fill="#ffffff"/>
<rect x="323.50" y="72.19" width="8.50" height="42.04" fill="#006d2c"/>
<rect x="323.50" y="113.93" width="8.50" height="42.04" fill="#7fff00"/>
<rect x="323.50" y="155.67" width="8.50" height="42.04" fill="#eeee00"/>
<rect x="323.50" y="197.42" width="8.50" height="42.04" fill="#ffa500"/>
<rect x="323.50" y="239.16" width="8.50" height="41.74" fill="#ff0000"/>
<path d="M332.00 51.32h2.2" stroke="#000" stroke-width="0.90"/>
<text x="336.25" y="54.37" font-size="6.35" fill="#000">Pas d'information</text>
<path d="M332.00 93.06h2.2" stroke="#000" stroke-width="0.90"/>
<text x="336.25" y="96.11" font-size="6.35" fill="#000">Absent ou rare</text>
<path d="M332.00 134.80h2.2" stroke="#000" stroke-width="0.90"/>
<text x="336.25" y="137.85" font-size="6.35" fill="#000">Peu fréquent ou très localisé</text>
<path d="M332.00 176.55h2.2" stroke="#000" stroke-width="0.90"/>
<text x="336.25" y="179.60" font-size="6.35" fill="#000">Moyennement fréquent</text>
<path d="M332.00 218.29h2.2" stroke="#000" stroke-width="0.90"/>
<text x="336.25" y="221.34" font-size="6.35" fill="#000">Fréquent</text>
<path d="M332.00 260.03h2.2" stroke="#000" stroke-width="0.90"/>
<text x="336.25" y="263.08" font-size="6.35" fill="#000">Très fréquent</text>
<rect x="323.50" y="30.45" width="8.50" height="250.45" fill="none" stroke="#333" stroke-width="0.90"/>
<text x="240.30" y="24.20" font-size="7.55" font-weight="bold" text-anchor="middle" fill="#000">Fréquence ravageur aujourd'hui : Petite altise</text>
<g transform="translate(444.950 30.450) scale(1.00178 1.00000) translate(-66.900 -30.450)">
<g stroke="#000" stroke-width="0.75" stroke-linejoin="round">
<path d="M96.0 116.4L95.7 115.4L96.4 114.5L97.3 113.8L97.5 112.6L98.2 111.7L98.9 110.8L98.9 109.6L98.7 108.4L98.5 107.3L97.7 105.3L97.0 103.3L95.9 101.5L94.9 99.6L94.2 98.7L93.4 97.9L92.8 96.9L92.6 95.8L92.3 94.7L92.7 93.6L92.9 92.7L90.0 92.5L83.8 93.0L77.5 95.0L73.8 97.5L73.0 101.2L77.5 102.5L77.0 106.2L81.2 107.0L77.5 108.0L73.8 110.6L78.8 111.2L81.2 115.0L80.0 117.5L83.8 117.5L87.5 118.8L92.5 119.4L95.6 118.8L95.8 118.9L95.8 118.6L96.1 117.6Z" fill="#ffa500"/>
<path d="M92.6 95.8L92.8 96.9L93.4 97.9L94.2 98.7L94.9 99.6L95.9 101.5L97.0 103.3L97.7 105.3L98.5 107.3L99.8 107.0L101.2 107.2L102.5 106.9L103.9 106.5L105.1 107.1L106.5 107.4L107.9 107.0L109.3 107.4L110.6 107.8L111.8 108.6L113.1 109.0L114.4 109.5L115.8 109.1L117.1 108.6L118.6 108.8L120.0 108.7L121.4 107.6L122.4 106.2L122.6 104.4L123.7 103.0L124.6 101.5L124.9 99.8L125.0 98.1L125.2 97.7L125.0 97.5L121.2 97.0L117.5 98.8L113.0 100.0L111.2 96.2L109.4 92.5L107.5 90.0L102.5 90.0L98.0 91.2L96.2 93.0L92.9 92.7L92.7 93.6L92.3 94.7Z" fill="#ffa500"/>
<path d="M121.7 116.2L121.4 114.7L121.1 113.1L120.1 111.8L119.7 110.2L120.0 108.7L118.6 108.8L117.1 108.6L115.8 109.1L114.4 109.5L113.1 109.0L111.8 108.6L110.6 107.8L109.3 107.4L107.9 107.0L106.5 107.4L105.1 107.1L103.9 106.5L102.5 106.9L101.2 107.2L99.8 107.0L98.5 107.3L98.7 108.4L98.9 109.6L98.9 110.8L98.2 111.7L97.5 112.6L97.3 113.8L96.4 114.5L95.7 115.4L96.0 116.4L96.1 117.6L95.8 118.6L95.8 118.9L97.5 120.6L101.2 123.0L105.0 125.6L108.0 127.5L112.5 128.8L114.7 129.8L114.9 129.8L115.6 128.7L116.8 128.2L117.0 127.0L117.4 125.8L117.7 124.6L118.5 123.6L119.8 123.4L120.9 122.8L122.0 122.0L122.5 120.8L122.0 119.3L121.7 117.8Z" fill="#ffa500"/>
<path d="M140.0 101.4L138.9 101.0L137.9 100.4L136.9 99.7L136.1 98.9L135.0 98.3L133.8 98.0L132.6 97.8L132.4 97.6L131.2 97.5L128.8 98.8L127.0 100.6L125.2 97.7L125.0 98.1L124.9 99.8L124.6 101.5L123.7 103.0L122.6 104.4L122.4 106.2L121.4 107.6L120.0 108.7L119.7 110.2L120.1 111.8L121.1 113.1L121.4 114.7L121.7 116.2L121.7 117.8L122.0 119.3L122.5 120.8L123.7 120.3L124.9 120.5L126.0 120.9L127.1 121.4L128.3 121.0L129.4 120.6L130.6 120.7L131.7 121.3L133.0 120.9L134.2 121.3L135.3 120.9L136.6 120.8L137.4 121.7L138.4 122.5L139.6 122.9L140.7 123.3L141.6 122.3L142.3 121.1L142.9 119.9L143.3 118.7L143.2 117.4L143.1 116.1L142.8 114.8L143.1 113.5L143.1 112.1L143.7 111.0L143.9 109.7L143.8 108.4L143.5 107.1L143.9 105.8L143.2 104.7L143.0 103.4L142.2 102.4L141.1 101.8Z" fill="#ffa500"/>
<path d="M150.5 78.5L150.8 78.2L150.0 78.0L145.0 78.0L143.8 75.6L143.0 72.0L142.5 68.0L138.8 67.5L133.8 68.0L130.0 67.5L131.2 72.5L133.0 78.8L134.7 85.1L135.0 86.2L135.6 92.5L135.6 98.0L132.4 97.6L132.6 97.8L133.8 98.0L135.0 98.3L136.1 98.9L136.9 99.7L137.9 100.4L138.9 101.0L140.0 101.4L141.1 101.8L142.2 102.4L143.0 103.4L144.1 103.3L145.2 103.4L146.2 102.9L147.2 102.3L149.0 101.0L150.8 99.8L151.4 98.4L152.0 96.9L150.7 95.3L150.2 93.5L149.2 91.8L148.7 89.9L148.2 88.0L148.4 86.0L147.6 84.2L147.7 82.3L148.7 80.9L150.3 80.3Z" fill="#ffa500"/>
<path d="M168.0 78.8L162.5 80.6L156.2 79.4L150.8 78.2L150.5 78.5L150.3 80.3L148.7 80.9L147.7 82.3L147.6 84.2L148.4 86.0L148.2 88.0L148.7 89.9L149.2 91.8L150.2 93.5L150.7 95.3L152.0 96.9L153.2 96.2L154.2 95.3L155.3 94.4L156.6 94.0L158.0 93.7L159.3 94.2L160.7 94.4L162.1 94.2L163.4 93.8L164.4 92.9L165.5 92.2L166.8 91.8L168.0 91.2L169.2 90.7L170.0 89.7L171.0 88.7L171.0 87.6L171.0 86.5L171.0 85.4L170.3 84.4L170.2 83.3L170.2 82.2L170.8 81.2L171.0 80.1L169.5 79.5L168.2 78.6Z" fill="#ffa500"/>
<path d="M168.0 91.2L166.8 91.8L165.5 92.2L164.4 92.9L163.4 93.8L162.1 94.2L160.7 94.4L159.3 94.2L158.0 93.7L156.6 94.0L155.3 94.4L154.2 95.3L153.2 96.2L152.0 96.9L151.4 98.4L150.8 99.8L151.6 101.5L153.1 102.5L154.9 102.8L156.4 103.9L157.6 105.1L158.8 106.4L160.0 107.8L160.5 109.5L162.3 108.3L164.3 107.8L166.3 106.9L168.1 105.9L170.0 104.9L172.0 104.2L174.2 103.8L176.3 104.2L177.0 102.9L177.7 101.6L177.5 100.0L177.9 98.6L176.9 97.3L176.7 95.7L176.5 94.2L175.5 92.9L174.7 91.5L173.8 90.2L172.6 89.0L171.0 88.7L170.0 89.7L169.2 90.7Z" fill="#ff0000"/>
<path d="M159.5 117.7L160.0 116.1L160.8 114.6L161.0 112.9L161.3 111.1L160.5 109.5L160.0 107.8L158.8 106.4L157.6 105.1L156.4 103.9L154.9 102.8L153.1 102.5L151.6 101.5L150.8 99.8L149.0 101.0L147.2 102.3L146.2 102.9L145.2 103.4L144.1 103.3L143.0 103.4L143.2 104.7L143.9 105.8L143.5 107.1L143.8 108.4L143.9 109.7L143.7 111.0L143.1 112.1L143.1 113.5L142.8 114.8L143.1 116.1L143.2 117.4L143.3 118.7L142.9 119.9L142.3 121.1L141.6 122.3L140.7 123.3L141.0 123.5L142.2 123.7L143.4 123.6L144.4 122.9L145.6 122.7L146.8 122.9L148.0 122.6L149.1 122.0L149.9 121.2L151.1 121.0L152.2 121.5L153.4 121.6L154.6 121.5L155.7 121.8L156.9 121.6L158.1 121.8L159.0 122.6L159.7 121.0L159.2 119.3Z" fill="#ffa500"/>
<path d="M175.6 120.6L176.0 118.9L177.4 118.2L178.7 117.4L180.0 116.4L180.5 114.8L180.0 113.4L180.3 111.9L179.6 110.6L178.5 109.5L178.1 108.1L177.1 107.0L176.9 105.6L176.3 104.2L174.2 103.8L172.0 104.2L170.0 104.9L168.1 105.9L166.3 106.9L164.3 107.8L162.3 108.3L160.5 109.5L161.3 111.1L161.0 112.9L160.8 114.6L160.0 116.1L159.5 117.7L159.2 119.3L159.7 121.0L159.0 122.6L160.5 123.1L161.7 124.0L162.4 125.3L163.2 126.5L164.5 125.8L166.0 125.7L167.4 125.2L168.8 125.0L170.3 124.8L171.7 124.6L173.2 124.4L174.6 124.9L174.5 123.3L174.4 121.7Z" fill="#ffa500"/>
<path d="M139.4 138.6L139.0 137.4L139.3 136.2L140.0 135.1L140.1 133.8L139.7 132.7L140.1 131.5L140.1 130.2L140.7 129.1L141.5 128.3L141.4 127.1L141.3 125.9L141.5 124.7L141.0 123.5L140.7 123.3L139.6 122.9L138.4 122.5L137.4 121.7L136.6 120.8L135.3 120.9L134.2 121.3L133.0 120.9L131.7 121.3L130.6 120.7L129.4 120.6L128.3 121.0L127.1 121.4L126.0 120.9L124.9 120.5L123.7 120.3L122.5 120.8L122.0 122.0L120.9 122.8L119.8 123.4L118.5 123.6L117.7 124.6L117.4 125.8L117.0 127.0L116.8 128.2L115.6 128.7L114.9 129.8L114.7 129.8L115.0 130.0L115.0 133.8L118.8 135.0L120.6 138.8L120.0 142.0L120.0 144.0L121.0 143.5L122.5 143.7L123.9 143.8L125.3 143.7L126.2 142.5L127.3 141.5L128.7 141.2L130.1 140.8L131.5 141.1L132.8 141.1L134.2 141.2L135.5 141.8L136.9 142.0L138.3 142.2L139.6 141.9L141.0 141.8L140.0 141.0L139.3 139.9Z" fill="#ffa500"/>
<path d="M155.7 121.8L154.6 121.5L153.4 121.6L152.2 121.5L151.1 121.0L149.9 121.2L149.1 122.0L148.0 122.6L146.8 122.9L145.6 122.7L144.4 122.9L143.4 123.6L142.2 123.7L141.0 123.5L141.5 124.7L141.3 125.9L141.4 127.1L141.5 128.3L140.7 129.1L140.1 130.2L140.1 131.5L139.7 132.7L140.1 133.8L140.0 135.1L139.3 136.2L139.0 137.4L139.4 138.6L139.3 139.9L140.0 141.0L141.0 141.8L142.2 142.8L143.2 144.2L144.4 145.2L145.8 145.9L147.8 145.4L149.2 144.1L151.2 143.8L153.1 143.7L155.0 143.4L156.9 142.9L158.8 142.5L160.7 143.3L161.2 142.4L162.0 141.6L162.4 140.5L162.3 139.3L162.9 137.2L162.7 135.1L163.0 132.9L163.5 130.8L163.6 128.7L163.2 126.5L162.4 125.3L161.7 124.0L160.5 123.1L159.0 122.6L158.1 121.8L156.9 121.6Z" fill="#ffa500"/>
<path d="M196.5 68.6L196.2 67.3L195.9 66.1L194.9 65.2L195.0 63.9L194.4 62.7L194.1 61.4L194.5 60.1L193.9 59.0L193.4 57.8L190.0 60.6L182.5 63.8L175.0 66.2L170.0 69.4L167.5 73.0L168.0 75.6L170.6 77.0L168.2 78.6L169.5 79.5L171.0 80.1L172.5 80.3L174.1 80.2L175.6 80.8L177.1 80.6L178.4 79.7L180.0 79.5L181.6 79.6L183.1 79.0L184.7 79.3L186.2 78.7L187.7 78.7L189.3 79.1L190.5 78.0L192.0 77.6L193.5 77.4L195.0 76.9L195.7 75.9L196.3 74.7L196.7 73.5L196.6 72.3L197.0 71.0L196.9 69.8Z" fill="#ff0000"/>
<path d="M195.8 81.1L195.7 79.6L195.5 78.2L195.0 76.9L193.5 77.4L192.0 77.6L190.5 78.0L189.3 79.1L187.7 78.7L186.2 78.7L184.7 79.3L183.1 79.0L181.6 79.6L180.0 79.5L178.4 79.7L177.1 80.6L175.6 80.8L174.1 80.2L172.5 80.3L171.0 80.1L170.8 81.2L170.2 82.2L170.2 83.3L170.3 84.4L171.0 85.4L171.0 86.5L171.0 87.6L171.0 88.7L172.6 89.0L173.8 90.2L174.7 91.5L175.5 92.9L176.5 94.2L176.7 95.7L176.9 97.3L177.9 98.6L179.2 98.9L180.6 98.4L181.9 98.3L183.2 98.2L184.5 97.8L185.8 97.4L187.0 96.9L188.1 96.1L189.3 95.0L190.4 93.7L190.6 92.1L190.9 90.6L191.8 89.2L193.1 88.3L193.6 86.8L194.5 85.5L195.4 84.2L195.6 82.6Z" fill="#ff0000"/>
<path d="M184.5 97.8L183.2 98.2L181.9 98.3L180.6 98.4L179.2 98.9L177.9 98.6L177.5 100.0L177.7 101.6L177.0 102.9L176.3 104.2L176.9 105.6L177.1 107.0L178.1 108.1L178.5 109.5L179.6 110.6L180.3 111.9L180.0 113.4L180.5 114.8L181.9 115.6L183.2 116.4L184.8 116.5L186.3 116.3L187.9 116.1L189.3 116.7L190.8 116.3L192.3 116.8L193.8 116.6L195.2 116.1L196.1 114.5L197.6 113.5L198.1 111.8L199.0 110.3L198.2 108.7L197.3 107.3L197.2 105.6L197.5 103.9L196.2 103.0L195.4 101.6L194.7 100.2L193.7 99.0L192.4 97.9L191.3 96.8L189.8 96.2L188.1 96.1L187.0 96.9L185.8 97.4Z" fill="#ffa500"/>
<path d="M191.8 89.2L190.9 90.6L190.6 92.1L190.4 93.7L189.3 95.0L188.1 96.1L189.8 96.2L191.3 96.8L192.4 97.9L193.7 99.0L194.7 100.2L195.4 101.6L196.2 103.0L197.5 103.9L198.4 102.8L198.9 101.5L200.0 100.6L201.2 99.9L201.7 98.5L202.8 97.5L204.1 97.0L205.5 96.5L203.9 95.3L202.3 94.1L200.8 92.9L199.5 91.4L198.1 90.1L196.5 88.9L195.9 87.0L194.5 85.5L193.6 86.8L193.1 88.3Z" fill="#ffa500"/>
<path d="M198.1 90.1L199.5 91.4L200.8 92.9L202.3 94.1L203.9 95.3L205.5 96.5L207.2 96.0L206.6 94.6L207.0 92.2L209.0 91.2L211.5 91.4L212.6 92.1L212.7 91.7L212.8 90.0L213.4 88.4L212.1 88.8L210.8 88.5L209.5 88.1L208.3 87.6L207.5 86.6L206.3 86.0L205.2 85.4L204.4 84.3L203.1 84.0L201.8 84.3L200.5 83.7L199.6 82.7L198.5 82.0L197.2 81.7L196.3 80.7L195.7 79.6L195.8 81.1L195.6 82.6L195.4 84.2L194.5 85.5L195.9 87.0L196.5 88.9Z" fill="#ffa500"/>
<path d="M201.7 98.5L201.2 99.9L200.0 100.6L198.9 101.5L198.4 102.8L197.5 103.9L197.2 105.6L197.3 107.3L198.2 108.7L199.0 110.3L201.1 110.3L202.9 109.1L204.9 109.8L207.0 109.3L209.1 109.4L211.1 109.3L213.1 109.8L215.0 110.8L214.1 109.0L213.1 107.3L213.1 105.3L213.3 103.4L213.4 101.4L213.2 99.5L213.3 97.6L213.0 96.1L212.5 97.0L210.0 97.6L207.6 96.8L207.2 96.0L205.5 96.5L204.1 97.0L202.8 97.5Z" fill="#ffa500"/>
<path d="M198.5 82.0L199.6 82.7L200.5 83.7L201.8 84.3L203.1 84.0L204.4 84.3L205.2 85.4L206.3 86.0L207.5 86.6L208.3 87.6L209.5 88.1L210.8 88.5L212.1 88.8L213.4 88.4L214.2 87.7L215.2 87.2L215.5 86.1L216.2 85.1L217.6 83.4L219.4 82.2L219.8 80.8L219.8 79.4L219.8 77.9L219.2 76.5L219.3 75.1L219.9 73.8L220.0 72.4L220.5 71.0L220.0 69.7L218.6 70.4L217.1 70.6L215.9 71.6L214.5 72.3L213.1 72.9L211.6 73.6L210.1 73.3L208.5 73.0L207.0 73.0L205.5 73.1L204.0 73.1L202.5 72.9L201.1 72.6L199.6 72.4L198.1 72.7L196.6 72.3L196.7 73.5L196.3 74.7L195.7 75.9L195.0 76.9L195.5 78.2L195.7 79.6L196.3 80.7L197.2 81.7Z" fill="#ffa500"/>
<path d="M201.1 72.6L202.5 72.9L204.0 73.1L205.5 73.1L207.0 73.0L208.5 73.0L210.1 73.3L211.6 73.6L213.1 72.9L214.5 72.3L215.9 71.6L217.1 70.6L218.6 70.4L220.0 69.7L220.9 68.4L221.6 66.9L221.3 65.2L221.9 63.6L222.0 62.2L221.7 60.9L220.7 59.9L220.2 58.6L219.5 57.4L219.1 56.1L218.2 55.1L217.3 54.0L215.5 54.3L213.8 53.5L212.1 54.3L210.3 54.2L208.6 54.0L206.9 53.4L205.3 52.6L203.7 52.0L202.1 53.0L200.7 54.2L198.9 54.6L197.1 54.9L195.3 54.6L194.5 54.3L193.8 57.5L193.4 57.8L193.9 59.0L194.5 60.1L194.1 61.4L194.4 62.7L195.0 63.9L194.9 65.2L195.9 66.1L196.2 67.3L196.5 68.6L196.9 69.8L197.0 71.0L196.6 72.3L198.1 72.7L199.6 72.4Z" fill="#ffa500"/>
<path d="M218.5 49.9L218.5 48.5L217.7 46.4L216.2 44.9L214.3 43.9L212.6 42.5L211.4 40.8L210.2 39.0L209.2 37.2L208.1 35.4L207.0 35.2L205.9 34.9L205.1 34.1L204.4 33.3L203.4 32.6L203.4 32.6L201.2 33.0L197.5 35.0L195.6 38.8L195.6 45.0L195.0 52.5L194.5 54.3L195.3 54.6L197.1 54.9L198.9 54.6L200.7 54.2L202.1 53.0L203.7 52.0L205.3 52.6L206.9 53.4L208.6 54.0L210.3 54.2L212.1 54.3L213.8 53.5L215.5 54.3L217.3 54.0L217.8 52.7L218.3 51.3Z" fill="#eeee00"/>
<path d="M205.9 34.9L207.0 35.2L208.1 35.4L209.2 37.2L210.2 39.0L211.4 40.8L212.6 42.5L214.3 43.9L216.2 44.9L217.7 46.4L218.5 48.5L218.5 49.9L218.3 51.3L217.8 52.7L217.3 54.0L218.2 55.1L219.1 56.1L219.5 57.4L220.2 58.6L220.7 59.9L221.7 60.9L222.0 62.2L221.9 63.6L223.3 63.6L224.7 63.8L225.8 62.8L227.1 62.3L229.2 62.9L231.4 63.1L233.6 63.2L235.7 63.0L236.9 62.8L237.9 63.2L238.9 63.8L240.0 64.0L240.7 64.9L241.6 65.6L242.6 66.1L243.8 66.2L244.6 65.0L245.0 63.7L246.0 62.6L246.2 62.0L244.4 62.0L243.8 57.5L242.5 53.8L238.8 52.0L236.1 51.3L233.8 50.6L231.2 47.5L227.5 46.2L225.6 42.0L225.3 41.6L223.8 39.4L218.8 41.2L217.0 38.8L214.4 33.8L213.0 31.0L206.2 32.0L203.4 32.6L203.4 32.6L204.4 33.3L205.1 34.1Z" fill="#eeee00"/>
<path d="M243.2 78.0L244.4 77.6L243.5 76.3L242.7 75.0L242.1 73.5L242.4 72.0L242.5 70.5L243.0 69.1L243.0 67.5L243.8 66.2L242.6 66.1L241.6 65.6L240.7 64.9L240.0 64.0L238.9 63.8L237.9 63.2L236.9 62.8L235.7 63.0L233.6 63.2L231.4 63.1L229.2 62.9L227.1 62.3L225.8 62.8L224.7 63.8L223.3 63.6L221.9 63.6L221.3 65.2L221.6 66.9L220.9 68.4L220.0 69.7L220.5 71.0L220.0 72.4L219.9 73.8L219.3 75.1L219.2 76.5L219.8 77.9L219.8 79.4L219.8 80.8L219.4 82.2L220.3 83.0L221.5 83.3L222.0 84.4L222.8 85.2L223.7 86.0L224.4 86.9L225.5 87.4L226.7 87.7L227.7 88.2L228.4 89.1L229.5 89.5L230.4 90.3L231.2 91.1L231.9 92.1L233.0 92.5L233.9 93.3L234.5 91.5L235.3 89.7L235.8 87.8L235.4 85.9L236.7 84.3L237.1 82.4L238.4 80.9L240.1 80.0L240.8 78.9L241.9 78.2Z" fill="#ffa500"/>
<path d="M213.3 92.6L213.5 95.0L213.0 96.1L213.3 97.6L213.2 99.5L213.4 101.4L213.3 103.4L213.1 105.3L213.1 107.3L214.1 109.0L215.0 110.8L216.0 111.7L216.8 112.9L217.9 113.8L219.1 114.4L220.4 113.2L221.8 112.0L223.4 111.2L225.3 111.5L226.9 110.7L228.7 110.6L230.1 109.6L231.4 108.3L232.2 107.1L232.1 105.7L231.7 104.4L231.7 103.0L232.4 101.8L233.3 100.8L233.6 99.5L234.0 98.2L234.5 97.4L233.7 95.4L233.9 93.3L233.0 92.5L231.9 92.1L231.2 91.1L230.4 90.3L229.5 89.5L228.4 89.1L227.7 88.2L226.7 87.7L225.5 87.4L224.4 86.9L223.7 86.0L222.8 85.2L222.0 84.4L221.5 83.3L220.3 83.0L219.4 82.2L217.6 83.4L216.2 85.1L215.5 86.1L215.2 87.2L214.2 87.7L213.4 88.4L212.8 90.0L212.7 91.7L212.6 92.1Z" fill="#ffa500"/>
<path d="M244.6 65.0L243.8 66.2L243.0 67.5L243.0 69.1L242.5 70.5L242.4 72.0L242.1 73.5L242.7 75.0L243.5 76.3L244.4 77.6L245.7 78.2L247.2 78.6L248.6 79.0L250.1 79.1L250.9 80.4L252.2 81.2L253.8 81.3L255.1 82.1L256.9 81.0L258.2 79.2L259.3 77.4L259.8 75.3L261.0 73.5L263.0 72.8L265.1 72.4L265.1 72.4L263.0 71.2L258.8 67.5L255.6 63.8L256.2 60.6L255.6 57.0L252.5 58.0L248.8 62.0L246.2 62.0L246.0 62.6L245.0 63.7Z" fill="#ffa500"/>
<path d="M256.3 93.0L256.7 91.0L256.5 89.9L256.2 88.8L255.9 87.6L256.2 86.5L256.5 85.3L256.1 84.2L255.8 83.0L255.1 82.1L253.8 81.3L252.2 81.2L250.9 80.4L250.1 79.1L248.6 79.0L247.2 78.6L245.7 78.2L244.4 77.6L243.2 78.0L241.9 78.2L240.8 78.9L240.1 80.0L238.4 80.9L237.1 82.4L236.7 84.3L235.4 85.9L235.8 87.8L235.3 89.7L234.5 91.5L233.9 93.3L233.7 95.4L234.5 97.4L235.8 97.4L237.1 97.4L238.3 97.8L239.6 97.8L240.8 97.7L242.0 97.2L243.1 96.6L244.4 96.2L245.5 96.9L246.7 97.2L248.0 97.4L249.0 98.2L250.2 98.6L251.4 98.9L252.8 99.0L254.0 98.5L254.9 96.7L255.9 94.9Z" fill="#ffa500"/>
<path d="M252.8 99.0L251.4 98.9L250.2 98.6L249.0 98.2L248.0 97.4L246.7 97.2L245.5 96.9L244.4 96.2L243.1 96.6L242.0 97.2L240.8 97.7L239.6 97.8L238.3 97.8L237.1 97.4L235.8 97.4L234.5 97.4L234.0 98.2L233.6 99.5L233.3 100.8L232.4 101.8L231.7 103.0L231.7 104.4L232.1 105.7L232.2 107.1L231.4 108.3L232.6 108.9L233.3 110.0L234.6 110.1L235.6 110.9L235.8 112.2L236.5 113.3L237.5 114.2L238.6 114.9L239.2 116.0L239.6 117.2L240.6 118.1L241.8 118.6L243.0 119.0L243.9 119.9L244.7 120.8L245.7 121.6L246.8 120.0L248.5 119.1L250.4 119.3L252.1 118.5L253.1 117.9L253.8 116.9L254.3 115.9L255.1 115.1L255.8 114.0L256.1 112.9L256.2 111.7L255.6 110.5L255.4 109.4L255.7 108.2L256.4 107.2L256.9 106.2L257.0 105.0L256.5 103.9L256.2 102.7L255.4 101.8L254.9 100.1L254.0 98.5Z" fill="#ff0000"/>
<path d="M271.0 87.2L270.3 86.0L271.0 84.7L271.6 83.4L271.1 82.0L271.4 80.6L270.6 79.5L270.1 78.3L269.8 77.0L269.2 75.8L269.0 74.9L268.8 75.0L266.2 73.0L265.1 72.4L265.1 72.4L263.0 72.8L261.0 73.5L259.8 75.3L259.3 77.4L258.2 79.2L256.9 81.0L255.1 82.1L255.8 83.0L256.1 84.2L256.5 85.3L256.2 86.5L255.9 87.6L256.2 88.8L256.5 89.9L256.7 91.0L256.3 93.0L255.9 94.9L254.9 96.7L254.0 98.5L254.9 100.1L255.4 101.8L256.7 101.9L257.7 102.6L258.8 103.3L260.1 103.4L261.2 103.9L262.5 103.9L263.8 103.7L265.0 103.3L266.3 103.4L267.3 104.2L268.6 103.9L269.8 103.9L271.0 104.2L272.0 105.0L273.2 105.2L274.3 105.9L274.9 105.0L275.0 103.1L274.2 101.3L274.8 99.5L275.6 97.8L274.9 96.1L273.8 94.6L273.8 92.7L272.8 91.1L272.5 91.0L272.0 89.7L271.8 88.3Z" fill="#ffa500"/>
<path d="M278.8 84.7L278.8 83.5L279.4 81.4L280.6 79.7L280.6 77.6L280.3 75.6L280.4 75.0L280.0 75.0L276.2 75.6L272.5 73.8L269.0 74.9L269.2 75.8L269.8 77.0L270.1 78.3L270.6 79.5L271.4 80.6L271.1 82.0L271.6 83.4L271.0 84.7L270.3 86.0L271.0 87.2L271.8 88.3L272.0 89.7L272.5 91.0L272.8 91.1L273.8 92.7L273.8 94.6L274.9 96.1L275.6 97.8L274.8 99.5L274.2 101.3L275.0 103.1L274.9 105.0L276.9 104.1L279.1 104.3L279.7 103.4L280.7 102.8L281.7 102.3L282.8 102.4L284.8 103.3L287.0 103.4L288.2 105.2L290.0 106.4L292.1 107.1L293.6 108.7L295.6 109.2L297.7 109.2L298.3 108.2L299.2 107.4L300.2 106.7L301.4 106.7L301.1 105.3L300.5 104.0L301.0 102.6L300.6 101.2L299.1 99.7L297.5 98.2L295.5 97.5L293.8 96.2L292.2 94.8L291.0 93.0L289.9 91.1L288.0 90.2L287.7 90.3L286.6 90.3L285.5 90.5L284.4 90.1L283.4 89.6L282.2 89.8L281.2 89.3L280.2 88.7L279.5 87.7L279.1 86.7L278.6 85.7Z" fill="#eeee00"/>
<path d="M283.4 89.6L284.4 90.1L285.5 90.5L286.6 90.3L287.7 90.3L288.0 90.2L289.9 91.1L291.0 93.0L292.2 94.8L293.8 96.2L295.5 97.5L297.5 98.2L299.1 99.7L300.6 101.2L301.0 100.1L301.1 99.0L301.4 98.0L301.6 96.9L302.0 95.8L302.7 94.9L302.7 93.8L303.1 92.7L304.0 92.0L304.3 90.9L304.5 89.7L305.2 88.8L305.4 87.7L305.7 86.7L306.0 85.5L306.9 84.7L307.0 84.7L304.4 83.0L302.0 85.0L298.8 84.4L295.0 83.0L292.5 82.3L291.2 82.0L287.5 77.5L283.8 75.0L280.4 75.0L280.3 75.6L280.6 77.6L280.6 79.7L279.4 81.4L278.8 83.5L278.8 84.7L278.6 85.7L279.1 86.7L279.5 87.7L280.2 88.7L281.2 89.3L282.2 89.8Z" fill="#eeee00"/>
<path d="M313.8 100.0L315.6 96.2L318.0 91.2L319.4 88.0L315.0 86.2L310.0 86.2L307.5 85.0L307.0 84.7L306.9 84.7L306.0 85.5L305.7 86.7L305.4 87.7L305.2 88.8L304.5 89.7L304.3 90.9L304.0 92.0L303.1 92.7L302.7 93.8L302.7 94.9L302.0 95.8L301.6 96.9L301.4 98.0L301.1 99.0L301.0 100.1L300.6 101.2L301.0 102.6L300.5 104.0L301.1 105.3L301.4 106.7L310.9 108.8L312.0 105.0Z" fill="#eeee00"/>
<path d="M296.9 126.8L296.5 124.0L299.0 123.0L300.8 126.0L301.6 129.5L301.5 132.1L301.3 132.0L299.0 130.5L298.7 130.0L299.1 131.0L300.2 131.7L300.7 132.9L300.9 133.1L301.0 132.0L305.0 132.5L308.0 130.0L309.4 125.0L310.0 117.5L310.6 110.0L310.9 108.8L301.4 106.7L300.2 106.7L299.2 107.4L298.3 108.2L297.7 109.2L297.7 110.5L297.2 111.8L296.4 112.8L295.5 113.8L295.0 115.0L294.8 116.3L293.9 117.3L293.1 118.3L293.5 120.2L294.5 121.9L294.9 123.8L294.5 125.8L295.7 126.0L296.8 126.7Z" fill="#eeee00"/>
<path d="M274.3 108.3L274.2 109.6L274.4 110.8L274.4 112.0L274.8 113.2L274.8 114.4L274.7 115.7L275.5 116.7L276.5 117.5L277.7 117.9L278.9 118.3L280.1 118.5L281.3 118.3L282.5 117.9L283.7 118.2L284.9 117.9L286.2 118.2L287.2 118.8L288.4 119.1L289.6 119.0L290.8 118.9L292.0 118.9L293.1 118.3L293.9 117.3L294.8 116.3L295.0 115.0L295.5 113.8L296.4 112.8L297.2 111.8L297.7 110.5L297.7 109.2L295.6 109.2L293.6 108.7L292.1 107.1L290.0 106.4L288.2 105.2L287.0 103.4L284.8 103.3L282.8 102.4L281.7 102.3L280.7 102.8L279.7 103.4L279.1 104.3L276.9 104.1L274.9 105.0L274.3 105.9L274.6 107.1Z" fill="#eeee00"/>
<path d="M257.0 105.0L256.9 106.2L256.4 107.2L255.7 108.2L255.4 109.4L255.6 110.5L256.2 111.7L256.1 112.9L255.8 114.0L255.1 115.1L254.3 115.9L253.8 116.9L253.1 117.9L252.1 118.5L253.2 118.9L254.3 119.1L255.4 119.1L256.5 119.3L257.7 119.0L258.8 119.3L259.8 119.7L261.0 119.9L262.2 119.9L263.3 120.3L264.0 121.3L265.0 121.9L265.4 123.0L266.4 123.8L267.4 124.4L268.5 124.8L269.2 123.5L270.4 122.7L271.3 121.7L271.9 120.4L272.7 119.2L273.9 118.4L274.1 117.0L274.7 115.7L274.8 114.4L274.8 113.2L274.4 112.0L274.4 110.8L274.2 109.6L274.3 108.3L274.6 107.1L274.3 105.9L273.2 105.2L272.0 105.0L271.0 104.2L269.8 103.9L268.6 103.9L267.3 104.2L266.3 103.4L265.0 103.3L263.8 103.7L262.5 103.9L261.2 103.9L260.1 103.4L258.8 103.3L257.7 102.6L256.7 101.9L255.4 101.8L256.2 102.7L256.5 103.9Z" fill="#ffa500"/>
<path d="M275.9 136.5L277.3 135.8L278.8 135.2L279.5 133.7L280.9 132.8L282.4 132.0L283.2 130.6L284.4 129.5L285.8 128.7L287.4 128.9L289.0 128.6L290.6 128.7L292.1 127.8L293.3 126.9L294.5 125.8L294.9 123.8L294.5 121.9L293.5 120.2L293.1 118.3L292.0 118.9L290.8 118.9L289.6 119.0L288.4 119.1L287.2 118.8L286.2 118.2L284.9 117.9L283.7 118.2L282.5 117.9L281.3 118.3L280.1 118.5L278.9 118.3L277.7 117.9L276.5 117.5L275.5 116.7L274.7 115.7L274.1 117.0L273.9 118.4L272.7 119.2L271.9 120.4L271.3 121.7L270.4 122.7L269.2 123.5L268.5 124.8L268.7 126.4L269.1 128.0L269.2 129.7L268.4 131.2L269.4 132.5L269.8 134.1L270.9 135.3L272.0 136.5L272.6 136.7L274.3 137.0Z" fill="#eeee00"/>
<path d="M243.4 128.7L243.8 127.2L243.5 125.7L244.0 124.2L245.1 123.0L245.7 121.6L244.7 120.8L243.9 119.9L243.0 119.0L241.8 118.6L240.6 118.1L239.6 117.2L239.2 116.0L238.6 114.9L237.5 114.2L236.5 113.3L235.8 112.2L235.6 110.9L234.6 110.1L233.3 110.0L232.6 108.9L231.4 108.3L230.1 109.6L228.7 110.6L226.9 110.7L225.3 111.5L223.4 111.2L221.8 112.0L220.4 113.2L219.1 114.4L219.5 116.2L219.0 118.0L218.5 119.7L217.8 121.3L217.2 123.0L216.6 124.7L216.7 126.6L217.4 128.3L218.4 129.2L219.3 130.2L220.6 130.6L221.5 131.6L222.7 131.8L223.9 132.1L225.1 132.3L226.3 132.5L227.5 132.8L228.7 132.6L229.9 132.9L231.1 133.1L232.4 133.2L233.6 133.4L234.8 133.9L236.1 133.8L237.4 133.8L238.6 133.8L239.6 132.8L240.9 132.5L241.9 131.4L242.6 130.0Z" fill="#ff0000"/>
<path d="M251.5 142.6L253.5 143.1L255.2 144.4L257.2 145.2L259.2 146.0L261.3 145.7L263.1 144.8L265.1 145.1L266.7 144.1L267.9 142.6L269.1 141.0L270.6 139.9L271.7 138.4L272.0 136.5L270.9 135.3L269.8 134.1L269.4 132.5L268.4 131.2L269.2 129.7L269.1 128.0L268.7 126.4L268.5 124.8L267.4 124.4L266.4 123.8L265.4 123.0L265.0 121.9L264.0 121.3L263.3 120.3L262.2 119.9L261.0 119.9L259.8 119.7L258.8 119.3L257.7 119.0L256.5 119.3L255.4 119.1L254.3 119.1L253.2 118.9L252.1 118.5L250.4 119.3L248.5 119.1L246.8 120.0L245.7 121.6L245.1 123.0L244.0 124.2L243.5 125.7L243.8 127.2L243.4 128.7L242.6 130.0L241.9 131.4L240.9 132.5L242.1 133.4L243.2 134.5L243.7 135.9L244.5 137.2L244.0 138.7L244.5 140.2L244.5 141.8L245.4 143.1L247.5 143.5L249.5 142.8Z" fill="#ff0000"/>
<path d="M275.3 141.1L275.9 142.8L277.3 143.8L278.6 144.9L279.9 146.1L281.3 147.0L282.4 148.4L283.9 149.2L285.2 150.4L287.0 150.6L288.5 151.5L288.8 151.8L290.0 150.0L293.8 145.6L297.0 142.5L298.8 138.8L300.6 136.0L300.9 133.1L300.7 132.9L300.2 131.7L299.1 131.0L298.7 130.0L297.0 127.5L296.9 126.8L296.8 126.7L295.7 126.0L294.5 125.8L293.3 126.9L292.1 127.8L290.6 128.7L289.0 128.6L287.4 128.9L285.8 128.7L284.4 129.5L283.2 130.6L282.4 132.0L280.9 132.8L279.5 133.7L278.8 135.2L277.3 135.8L275.9 136.5L274.3 137.0L272.6 136.7L274.1 137.7L274.9 139.4Z" fill="#eeee00"/>
<path d="M195.7 119.8L196.1 121.0L197.1 121.9L198.3 122.5L198.9 123.6L199.4 124.8L200.6 125.2L201.4 126.3L202.2 127.2L203.0 128.0L204.0 128.8L205.0 129.5L205.7 130.5L206.6 131.3L208.1 131.3L209.5 131.2L211.0 131.2L212.4 131.1L213.5 130.2L214.8 129.5L216.3 129.3L217.4 128.3L216.7 126.6L216.6 124.7L217.2 123.0L217.8 121.3L218.5 119.7L219.0 118.0L219.5 116.2L219.1 114.4L217.9 113.8L216.8 112.9L216.0 111.7L215.0 110.8L213.1 109.8L211.1 109.3L209.1 109.4L207.0 109.3L204.9 109.8L202.9 109.1L201.1 110.3L199.0 110.3L198.1 111.8L197.6 113.5L196.1 114.5L195.2 116.1L195.4 117.3L195.7 118.5Z" fill="#ffa500"/>
<path d="M187.9 116.1L186.3 116.3L184.8 116.5L183.2 116.4L181.9 115.6L180.5 114.8L180.0 116.4L178.7 117.4L177.4 118.2L176.0 118.9L175.6 120.6L174.4 121.7L174.5 123.3L174.6 124.9L174.9 126.1L175.7 127.1L176.4 128.1L177.3 128.9L178.2 129.7L179.4 130.2L180.2 131.2L180.4 132.5L181.6 132.9L182.4 133.9L183.2 134.8L183.9 135.8L184.7 136.8L185.7 137.5L186.4 138.6L186.4 139.9L186.5 139.9L188.1 139.9L189.7 140.2L191.2 139.6L192.9 139.7L194.5 139.8L196.0 140.1L197.6 139.8L199.2 140.1L199.9 138.8L201.1 137.9L201.6 136.5L202.8 135.6L203.9 134.6L204.7 133.4L205.4 132.1L206.6 131.3L205.7 130.5L205.0 129.5L204.0 128.8L203.0 128.0L202.2 127.2L201.4 126.3L200.6 125.2L199.4 124.8L198.9 123.6L198.3 122.5L197.1 121.9L196.1 121.0L195.7 119.8L195.7 118.5L195.4 117.3L195.2 116.1L193.8 116.6L192.3 116.8L190.8 116.3L189.3 116.7Z" fill="#ffa500"/>
<path d="M184.7 136.8L183.9 135.8L183.2 134.8L182.4 133.9L181.6 132.9L180.4 132.5L180.2 131.2L179.4 130.2L178.2 129.7L177.3 128.9L176.4 128.1L175.7 127.1L174.9 126.1L174.6 124.9L173.2 124.4L171.7 124.6L170.3 124.8L168.8 125.0L167.4 125.2L166.0 125.7L164.5 125.8L163.2 126.5L163.6 128.7L163.5 130.8L163.0 132.9L162.7 135.1L162.9 137.2L162.3 139.3L162.4 140.5L162.0 141.6L161.2 142.4L160.7 143.3L162.3 144.2L163.5 145.6L164.6 145.2L165.8 145.4L166.7 144.6L167.9 144.4L169.0 144.3L170.2 144.3L171.3 144.1L172.4 144.2L173.5 144.6L174.6 144.9L175.5 145.7L176.6 146.2L177.7 146.2L178.9 146.2L180.0 146.2L181.2 146.5L181.9 145.6L182.0 144.5L183.0 143.9L183.9 143.3L185.3 141.7L186.4 139.9L186.4 138.6L185.7 137.5Z" fill="#ffa500"/>
<path d="M244.0 138.7L244.5 137.2L243.7 135.9L243.2 134.5L242.1 133.4L240.9 132.5L239.6 132.8L238.6 133.8L237.4 133.8L236.1 133.8L234.8 133.9L233.6 133.4L232.4 133.2L231.1 133.1L229.9 132.9L228.7 132.6L227.5 132.8L226.3 132.5L225.1 132.3L223.9 132.1L222.7 131.8L221.5 131.6L222.0 132.8L222.8 133.9L223.1 135.2L223.4 136.4L223.6 137.8L223.1 139.0L223.5 140.3L223.1 141.6L222.8 143.0L222.9 144.3L223.5 145.6L223.7 146.9L223.0 148.0L222.6 149.3L221.9 150.4L221.5 151.7L223.5 152.5L225.7 152.3L226.7 152.5L227.7 153.0L228.8 152.8L229.9 152.4L230.9 152.1L232.1 152.0L233.2 152.0L234.2 152.7L235.2 153.2L235.8 154.2L236.9 154.4L237.8 155.0L238.6 153.2L240.0 152.0L240.4 150.1L240.4 148.3L241.4 146.8L242.9 145.7L244.3 144.6L245.4 143.1L244.5 141.8L244.5 140.2Z" fill="#ff0000"/>
<path d="M241.4 146.8L240.4 148.3L240.4 150.1L240.0 152.0L238.6 153.2L237.8 155.0L238.5 156.7L238.4 158.6L238.5 160.5L238.2 162.3L239.7 163.5L240.4 165.3L241.0 167.1L241.1 169.0L242.8 169.9L244.8 170.5L246.7 170.1L248.7 170.1L250.7 169.9L252.3 168.7L254.3 168.7L256.2 168.3L257.4 167.4L258.8 166.9L259.8 165.8L260.8 164.6L261.7 163.4L262.9 162.5L263.0 160.9L263.8 159.6L263.9 157.8L264.2 155.9L264.0 154.0L264.7 152.3L264.5 150.3L263.9 148.5L262.8 146.9L261.3 145.7L259.2 146.0L257.2 145.2L255.2 144.4L253.5 143.1L251.5 142.6L249.5 142.8L247.5 143.5L245.4 143.1L244.3 144.6L242.9 145.7Z" fill="#eeee00"/>
<path d="M264.5 150.3L264.7 152.3L264.0 154.0L264.2 155.9L263.9 157.8L263.8 159.6L264.5 160.6L265.1 161.6L266.3 161.9L267.3 162.7L268.4 163.0L269.6 163.1L270.6 163.5L271.6 164.2L272.9 164.2L273.9 163.5L275.1 163.4L276.2 163.8L277.4 163.8L278.4 164.4L279.6 164.5L280.6 165.2L281.8 163.4L283.1 162.8L283.0 162.5L284.4 157.5L287.5 153.8L288.8 151.8L288.5 151.5L287.0 150.6L285.2 150.4L283.9 149.2L282.4 148.4L281.3 147.0L279.9 146.1L278.6 144.9L277.3 143.8L275.9 142.8L275.3 141.1L274.9 139.4L274.1 137.7L272.6 136.7L272.0 136.5L271.7 138.4L270.6 139.9L269.1 141.0L267.9 142.6L266.7 144.1L265.1 145.1L263.1 144.8L261.3 145.7L262.8 146.9L263.9 148.5Z" fill="#eeee00"/>
<path d="M203.9 134.6L202.8 135.6L201.6 136.5L201.1 137.9L199.9 138.8L199.2 140.1L199.8 141.4L200.4 142.8L200.5 144.2L200.2 145.7L201.4 146.4L202.4 147.6L202.6 149.0L203.4 150.3L204.4 151.3L205.5 152.3L206.7 153.0L207.6 154.2L208.4 155.4L208.4 156.9L208.7 158.4L209.2 159.7L210.5 158.2L212.0 157.1L212.7 155.3L214.4 154.2L216.2 153.7L218.0 153.0L219.7 152.3L221.5 151.7L221.9 150.4L222.6 149.3L223.0 148.0L223.7 146.9L223.5 145.6L222.9 144.3L222.8 143.0L223.1 141.6L223.5 140.3L223.1 139.0L223.6 137.8L223.4 136.4L223.1 135.2L222.8 133.9L222.0 132.8L221.5 131.6L220.6 130.6L219.3 130.2L218.4 129.2L217.4 128.3L216.3 129.3L214.8 129.5L213.5 130.2L212.4 131.1L211.0 131.2L209.5 131.2L208.1 131.3L206.6 131.3L205.4 132.1L204.7 133.4Z" fill="#ffa500"/>
<path d="M183.9 143.3L183.0 143.9L182.0 144.5L181.9 145.6L181.2 146.5L181.0 147.6L181.1 148.8L182.0 149.6L182.3 150.7L182.6 152.9L182.6 155.1L182.4 156.2L182.9 157.3L183.5 158.3L184.0 159.3L184.1 160.4L184.2 161.6L183.9 162.7L183.5 163.7L184.7 164.1L185.9 164.7L187.2 164.9L188.5 164.8L189.5 165.6L190.8 165.9L192.1 166.3L193.4 166.3L194.9 164.7L196.6 163.3L197.5 162.7L198.5 162.3L199.6 162.0L200.7 162.0L201.8 162.3L203.0 162.1L204.1 162.2L205.2 162.2L206.3 162.0L207.1 161.2L208.0 160.5L209.1 160.2L209.2 159.7L208.7 158.4L208.4 156.9L208.4 155.4L207.6 154.2L206.7 153.0L205.5 152.3L204.4 151.3L203.4 150.3L202.6 149.0L202.4 147.6L201.4 146.4L200.2 145.7L200.5 144.2L200.4 142.8L199.8 141.4L199.2 140.1L197.6 139.8L196.0 140.1L194.5 139.8L192.9 139.7L191.2 139.6L189.7 140.2L188.1 139.9L186.5 139.9L186.4 139.9L185.3 141.7Z" fill="#ffa500"/>
<path d="M239.7 163.5L238.2 162.3L238.5 160.5L238.4 158.6L238.5 156.7L237.8 155.0L236.9 154.4L235.8 154.2L235.2 153.2L234.2 152.7L233.2 152.0L232.1 152.0L230.9 152.1L229.9 152.4L228.8 152.8L227.7 153.0L226.7 152.5L225.7 152.3L223.5 152.5L221.5 151.7L219.7 152.3L218.0 153.0L216.2 153.7L214.4 154.2L212.7 155.3L212.0 157.1L210.5 158.2L209.2 159.7L209.1 160.2L209.8 161.8L209.8 163.6L210.4 165.2L210.9 166.9L212.0 168.4L213.6 169.2L214.7 170.6L215.7 172.1L216.9 172.1L218.1 172.7L219.3 172.7L220.5 173.1L221.7 172.7L222.9 172.6L224.1 172.9L225.4 172.6L226.7 172.8L227.9 173.3L229.2 173.1L230.3 172.4L231.6 172.9L232.4 173.9L233.7 173.6L235.0 174.0L236.7 172.8L237.5 170.9L239.0 169.5L241.0 169.1L241.1 169.0L241.0 167.1L240.4 165.3Z" fill="#ff0000"/>
<path d="M210.2 183.0L210.8 181.0L211.7 179.1L213.2 177.7L214.0 175.7L214.4 173.7L215.7 172.1L214.7 170.6L213.6 169.2L212.0 168.4L210.9 166.9L210.4 165.2L209.8 163.6L209.8 161.8L209.1 160.2L208.0 160.5L207.1 161.2L206.3 162.0L205.2 162.2L204.1 162.2L203.0 162.1L201.8 162.3L200.7 162.0L199.6 162.0L198.5 162.3L197.5 162.7L196.6 163.3L194.9 164.7L193.4 166.3L193.1 167.5L193.1 168.8L192.7 170.0L191.8 170.9L192.0 172.1L192.0 173.3L192.5 174.5L192.7 175.7L193.7 176.5L193.9 177.8L194.3 179.0L194.0 180.2L194.1 181.4L194.4 182.6L195.2 183.4L195.7 184.6L197.3 185.7L199.3 185.9L201.0 186.7L203.0 186.7L204.9 186.9L206.7 187.2L208.6 186.9L210.5 187.3L210.8 187.2L210.5 185.1Z" fill="#eeee00"/>
<path d="M175.0 174.0L175.0 175.3L175.9 176.2L176.1 177.5L176.8 178.5L178.0 179.0L178.1 180.3L178.9 181.3L178.9 182.5L178.5 183.7L179.2 184.7L179.3 185.9L179.5 187.1L179.8 188.2L181.5 188.6L183.3 189.1L184.4 190.6L186.0 191.5L187.5 191.1L189.0 190.7L190.2 189.7L191.3 188.6L192.5 187.7L193.6 186.7L194.5 185.5L195.7 184.6L195.2 183.4L194.4 182.6L194.1 181.4L194.0 180.2L194.3 179.0L193.9 177.8L193.7 176.5L192.7 175.7L192.5 174.5L192.0 173.3L192.0 172.1L191.8 170.9L192.7 170.0L193.1 168.8L193.1 167.5L193.4 166.3L192.1 166.3L190.8 165.9L189.5 165.6L188.5 164.8L187.2 164.9L185.9 164.7L184.7 164.1L183.5 163.7L182.0 163.9L180.6 164.4L179.6 165.6L178.2 166.2L177.4 167.5L176.2 168.4L175.4 169.6L174.2 170.5L174.9 171.6L174.8 172.8Z" fill="#eeee00"/>
<path d="M214.1 188.0L215.1 188.6L216.3 188.4L217.5 188.7L218.4 189.5L219.6 189.7L220.6 190.3L221.6 190.9L222.4 191.7L223.5 192.2L224.7 192.5L225.8 193.0L226.8 193.7L227.3 194.9L228.4 193.3L229.6 191.6L231.6 191.1L233.4 190.1L234.3 188.2L234.5 186.0L233.5 184.1L233.1 182.0L233.3 179.9L233.3 177.8L234.5 176.0L235.0 174.0L233.7 173.6L232.4 173.9L231.6 172.9L230.3 172.4L229.2 173.1L227.9 173.3L226.7 172.8L225.4 172.6L224.1 172.9L222.9 172.6L221.7 172.7L220.5 173.1L219.3 172.7L218.1 172.7L216.9 172.1L215.7 172.1L214.4 173.7L214.0 175.7L213.2 177.7L211.7 179.1L210.8 181.0L210.2 183.0L210.5 185.1L210.8 187.2L211.9 187.2L213.1 187.4Z" fill="#ffa500"/>
<path d="M254.6 194.3L254.4 193.2L254.0 191.4L252.7 190.1L251.9 188.5L250.3 187.6L249.5 186.0L248.7 184.5L248.2 182.8L247.1 181.5L247.5 179.7L246.9 177.9L245.9 176.3L245.5 174.6L244.9 172.8L243.5 171.6L242.2 170.4L241.0 169.1L239.0 169.5L237.5 170.9L236.7 172.8L235.0 174.0L234.5 176.0L233.3 177.8L233.3 179.9L233.1 182.0L233.5 184.1L234.5 186.0L234.3 188.2L233.4 190.1L234.6 190.8L236.1 190.9L237.5 191.2L238.8 190.6L240.0 191.3L241.4 191.5L242.7 192.1L244.1 191.9L245.3 192.7L246.0 194.0L247.0 195.0L248.4 195.3L249.8 195.5L250.9 196.4L252.1 197.1L253.4 197.6L253.7 197.6L253.8 196.5L254.2 195.4Z" fill="#ffffff"/>
<path d="M258.8 176.6L258.1 175.0L257.4 173.4L257.2 171.6L256.9 169.9L256.2 168.3L254.3 168.7L252.3 168.7L250.7 169.9L248.7 170.1L246.7 170.1L244.8 170.5L242.8 169.9L241.1 169.0L241.0 169.1L242.2 170.4L243.5 171.6L244.9 172.8L245.5 174.6L245.9 176.3L246.9 177.9L247.5 179.7L247.1 181.5L248.2 182.8L248.7 184.5L249.5 186.0L250.3 187.6L251.9 188.5L252.7 190.1L254.0 191.4L254.4 193.2L255.8 191.7L256.9 189.9L257.0 187.8L258.2 186.1L259.9 185.0L261.2 183.4L261.8 181.4L263.1 179.8L261.5 178.8L259.9 178.0Z" fill="#ffa500"/>
<path d="M278.3 174.8L277.8 172.7L278.5 170.8L280.0 169.3L280.5 167.3L280.6 165.2L279.6 164.5L278.4 164.4L277.4 163.8L276.2 163.8L275.1 163.4L273.9 163.5L272.9 164.2L271.6 164.2L270.6 163.5L269.6 163.1L268.4 163.0L267.3 162.7L266.3 161.9L265.1 161.6L264.5 160.6L263.8 159.6L263.0 160.9L262.9 162.5L261.7 163.4L260.8 164.6L259.8 165.8L258.8 166.9L257.4 167.4L256.2 168.3L256.9 169.9L257.2 171.6L257.4 173.4L258.1 175.0L258.8 176.6L259.9 178.0L261.5 178.8L263.1 179.8L265.1 179.3L267.2 178.9L269.1 179.9L271.2 180.2L273.2 179.6L275.3 179.9L277.4 179.8L279.3 180.7L278.9 178.6L279.5 176.5Z" fill="#ffa500"/>
<path d="M282.7 179.8L284.1 178.7L285.5 177.7L287.2 178.0L288.9 177.9L290.6 177.7L292.3 178.3L293.9 177.8L295.6 178.1L297.3 178.5L298.9 178.2L300.6 178.8L300.7 178.9L301.9 177.0L301.2 173.8L298.8 168.8L297.5 165.0L295.0 162.5L290.0 163.0L286.0 165.0L283.8 165.6L283.1 162.8L281.8 163.4L280.6 165.2L280.5 167.3L280.0 169.3L278.5 170.8L277.8 172.7L278.3 174.8L279.5 176.5L278.9 178.6L279.3 180.7L279.5 181.0L280.9 179.9Z" fill="#ffffff"/>
<path d="M279.0 185.8L279.5 187.4L280.4 188.2L280.7 189.3L281.5 190.1L282.1 191.1L282.5 192.1L283.0 193.1L283.6 194.1L284.3 195.0L285.1 195.8L285.8 196.8L286.3 197.9L286.8 198.9L288.0 199.2L288.8 200.0L290.1 200.2L291.0 201.0L293.0 201.5L295.1 201.9L297.0 202.3L295.6 200.0L300.0 198.0L303.8 196.2L305.6 193.0L305.0 190.0L302.5 186.2L300.0 182.5L298.0 182.0L300.0 180.0L300.7 178.9L300.6 178.8L298.9 178.2L297.3 178.5L295.6 178.1L293.9 177.8L292.3 178.3L290.6 177.7L288.9 177.9L287.2 178.0L285.5 177.7L284.1 178.7L282.7 179.8L280.9 179.9L279.5 181.0L279.4 182.6L279.1 184.2Z" fill="#ffffff"/>
<path d="M259.4 198.4L261.0 199.1L262.8 198.7L264.6 199.3L266.3 199.8L268.1 199.9L269.9 201.1L270.8 203.0L272.4 204.4L273.5 206.2L274.0 208.3L274.4 210.4L276.1 211.8L277.3 213.6L278.4 213.2L279.4 212.4L280.6 212.3L281.8 212.0L282.4 210.9L283.1 209.9L284.1 209.2L285.0 208.3L286.0 207.4L286.7 206.3L287.0 205.0L286.8 203.7L287.9 203.0L288.9 202.3L290.1 201.9L291.0 201.0L290.1 200.2L288.8 200.0L288.0 199.2L286.8 198.9L286.3 197.9L285.8 196.8L285.1 195.8L284.3 195.0L283.6 194.1L283.0 193.1L282.5 192.1L282.1 191.1L281.5 190.1L280.7 189.3L280.4 188.2L279.5 187.4L279.0 185.8L279.1 184.2L279.4 182.6L279.5 181.0L279.3 180.7L277.4 179.8L275.3 179.9L273.2 179.6L271.2 180.2L269.1 179.9L267.2 178.9L265.1 179.3L263.1 179.8L261.8 181.4L261.2 183.4L259.9 185.0L258.2 186.1L257.0 187.8L256.9 189.9L255.8 191.7L254.4 193.2L254.6 194.3L254.2 195.4L253.8 196.5L253.7 197.6L254.1 197.9L255.8 198.6L257.6 198.2Z" fill="#ffa500"/>
<path d="M204.9 186.9L203.0 186.7L201.0 186.7L199.3 185.9L197.3 185.7L195.7 184.6L194.5 185.5L193.6 186.7L192.5 187.7L191.3 188.6L190.2 189.7L189.0 190.7L187.5 191.1L186.0 191.5L186.7 192.8L187.0 194.2L186.7 195.6L186.4 197.1L186.6 198.5L186.7 199.9L187.3 201.3L188.3 202.4L190.3 202.4L192.2 201.8L194.1 202.5L196.1 202.9L198.1 203.2L199.7 204.5L201.1 205.8L202.8 206.8L203.9 206.2L205.1 205.7L205.6 204.5L206.6 203.7L206.7 202.4L207.3 201.3L208.0 200.2L208.0 198.9L209.0 198.1L209.7 197.1L210.1 195.8L209.8 194.4L210.7 193.5L211.4 192.3L211.1 191.0L210.8 189.8L210.5 188.6L210.5 187.3L208.6 186.9L206.7 187.2Z" fill="#ffffff"/>
<path d="M211.1 191.0L211.4 192.3L210.7 193.5L209.8 194.4L210.1 195.8L209.7 197.1L209.0 198.1L208.0 198.9L208.0 200.2L207.3 201.3L206.7 202.4L206.6 203.7L205.6 204.5L205.1 205.7L207.1 206.4L209.1 206.7L211.0 207.7L213.0 208.3L214.8 209.2L216.8 209.9L218.6 211.0L220.8 211.2L221.9 210.9L222.7 210.2L223.7 209.5L224.7 209.2L225.3 208.2L225.6 207.1L225.9 206.0L226.8 205.2L226.8 203.9L227.1 202.5L226.7 201.2L226.1 200.0L226.8 198.9L227.4 197.6L227.0 196.3L227.3 194.9L226.8 193.7L225.8 193.0L224.7 192.5L223.5 192.2L222.4 191.7L221.6 190.9L220.6 190.3L219.6 189.7L218.4 189.5L217.5 188.7L216.3 188.4L215.1 188.6L214.1 188.0L213.1 187.4L211.9 187.2L210.8 187.2L210.5 187.3L210.5 188.6L210.8 189.8Z" fill="#ffffff"/>
<path d="M249.8 195.5L248.4 195.3L247.0 195.0L246.0 194.0L245.3 192.7L244.1 191.9L242.7 192.1L241.4 191.5L240.0 191.3L238.8 190.6L237.5 191.2L236.1 190.9L234.6 190.8L233.4 190.1L231.6 191.1L229.6 191.6L228.4 193.3L227.3 194.9L227.0 196.3L227.4 197.6L226.8 198.9L226.1 200.0L226.7 201.2L227.1 202.5L226.8 203.9L226.8 205.2L228.5 206.0L230.3 206.5L232.2 206.2L234.1 206.5L236.0 207.1L237.4 208.3L239.0 209.4L240.4 210.6L240.8 209.5L241.7 208.6L241.7 207.4L242.2 206.3L243.4 205.8L244.3 204.9L244.8 203.8L245.7 203.0L246.4 202.0L247.4 201.2L248.2 200.3L248.8 199.2L249.9 198.6L250.8 197.8L252.1 197.7L253.4 197.6L252.1 197.1L250.9 196.4Z" fill="#7fff00"/>
<path d="M250.8 197.8L249.9 198.6L248.8 199.2L248.2 200.3L247.4 201.2L246.4 202.0L245.7 203.0L244.8 203.8L244.3 204.9L243.4 205.8L242.2 206.3L241.7 207.4L241.7 208.6L240.8 209.5L240.4 210.6L240.6 212.3L240.2 213.9L241.2 215.3L241.4 217.0L241.9 218.6L242.9 220.1L242.9 221.8L242.5 223.4L244.0 223.8L245.1 224.9L246.6 225.6L248.1 225.6L249.7 225.5L251.1 225.2L252.6 224.9L254.1 224.5L255.2 222.7L256.8 221.1L257.3 219.1L258.2 217.1L258.2 215.8L258.9 214.6L259.2 213.3L259.7 212.1L258.9 211.0L258.8 209.6L258.3 208.4L258.3 207.0L257.5 206.0L257.0 204.8L256.7 203.6L256.2 202.4L256.1 201.1L255.2 200.1L254.5 199.1L254.1 197.9L253.7 197.6L253.4 197.6L252.1 197.7Z" fill="#ffffff"/>
<path d="M256.2 202.4L256.7 203.6L257.0 204.8L257.5 206.0L258.3 207.0L258.3 208.4L258.8 209.6L258.9 211.0L259.7 212.1L259.2 213.3L258.9 214.6L258.2 215.8L258.2 217.1L257.3 219.1L256.8 221.1L255.2 222.7L254.1 224.5L255.2 225.6L255.8 227.1L256.7 228.3L257.7 229.5L258.9 229.8L260.0 230.2L261.1 229.5L262.3 229.4L263.1 230.4L264.3 230.8L265.5 231.2L266.7 230.8L267.7 230.1L268.9 229.8L269.8 229.0L271.0 228.8L272.1 229.4L273.3 229.7L274.5 229.9L275.7 229.5L276.0 228.1L276.1 226.7L275.8 225.3L276.2 223.9L277.3 222.9L277.8 221.6L278.5 220.3L279.1 219.0L278.5 217.8L277.6 216.7L277.2 215.4L277.2 214.0L277.3 213.6L276.1 211.8L274.4 210.4L274.0 208.3L273.5 206.2L272.4 204.4L270.8 203.0L269.9 201.1L268.1 199.9L266.3 199.8L264.6 199.3L262.8 198.7L261.0 199.1L259.4 198.4L257.6 198.2L255.8 198.6L254.1 197.9L254.5 199.1L255.2 200.1L256.1 201.1Z" fill="#ff0000"/>
<path d="M278.5 217.8L279.1 219.0L280.5 218.8L281.9 218.9L283.1 218.1L284.4 217.5L285.8 217.3L287.2 217.8L288.5 218.4L289.7 219.2L291.0 219.7L292.2 220.4L293.1 221.5L294.1 222.6L295.4 223.2L296.8 223.3L298.2 222.8L299.6 222.9L301.2 221.5L301.9 220.0L301.9 220.0L300.6 216.2L301.9 213.0L304.4 211.2L303.8 208.8L300.0 206.2L297.5 203.0L297.0 202.3L295.1 201.9L293.0 201.5L291.0 201.0L290.1 201.9L288.9 202.3L287.9 203.0L286.8 203.7L287.0 205.0L286.7 206.3L286.0 207.4L285.0 208.3L284.1 209.2L283.1 209.9L282.4 210.9L281.8 212.0L280.6 212.3L279.4 212.4L278.4 213.2L277.3 213.6L277.2 214.0L277.2 215.4L277.6 216.7Z" fill="#ffffff"/>
<path d="M184.6 205.7L183.1 206.7L182.3 208.2L181.6 209.7L180.7 211.2L179.8 212.6L179.8 214.3L179.9 216.0L181.0 217.4L181.6 219.0L182.9 219.0L184.2 218.6L185.3 219.3L186.6 219.4L187.5 220.4L188.7 220.9L190.0 220.9L191.2 221.6L192.4 221.9L193.6 222.4L195.0 222.1L196.2 222.6L197.1 223.6L197.9 224.5L198.8 225.6L200.0 226.1L199.8 224.9L200.1 223.6L200.5 222.4L200.9 221.3L201.3 220.0L200.9 218.8L201.1 217.6L200.6 216.4L200.7 215.1L200.9 213.8L201.9 212.9L202.7 211.8L202.6 210.6L202.6 209.3L202.7 208.1L202.8 206.8L201.1 205.8L199.7 204.5L198.1 203.2L196.1 202.9L194.1 202.5L192.2 201.8L190.3 202.4L188.3 202.4L187.0 203.5L185.3 204.1Z" fill="#ffa500"/>
<path d="M176.7 189.1L175.6 189.3L174.8 190.0L174.1 190.9L173.0 191.2L172.0 191.6L170.0 192.4L168.4 193.8L166.4 194.5L164.5 195.4L163.9 196.8L163.0 197.9L162.4 199.3L162.5 200.8L163.7 201.6L164.6 202.6L165.2 203.9L166.0 205.0L166.5 206.3L167.0 207.6L167.8 208.7L169.0 209.5L170.4 209.5L171.7 210.1L173.1 210.5L174.5 210.5L175.9 211.1L177.2 211.6L178.6 211.9L179.8 212.6L180.7 211.2L181.6 209.7L182.3 208.2L183.1 206.7L184.6 205.7L185.3 204.1L187.0 203.5L188.3 202.4L187.3 201.3L186.7 199.9L186.6 198.5L186.4 197.1L186.7 195.6L187.0 194.2L186.7 192.8L186.0 191.5L184.4 190.6L183.3 189.1L181.5 188.6L179.8 188.2L178.7 188.6L177.8 189.3Z" fill="#ff0000"/>
<path d="M202.6 209.3L202.6 210.6L202.7 211.8L201.9 212.9L200.9 213.8L200.7 215.1L200.6 216.4L201.1 217.6L200.9 218.8L201.3 220.0L200.9 221.3L200.5 222.4L200.1 223.6L199.8 224.9L200.0 226.1L200.1 226.3L201.6 227.1L203.3 227.0L204.8 227.6L206.3 228.1L208.2 229.0L209.8 230.3L210.9 232.1L212.1 233.8L212.6 235.9L213.6 237.7L215.7 238.5L216.9 240.3L217.7 239.4L218.8 238.7L219.3 237.6L219.6 236.4L220.7 235.9L221.8 235.5L223.0 235.1L224.1 234.6L224.9 233.8L225.8 232.9L227.0 233.0L228.2 232.4L229.3 232.2L230.4 231.9L231.5 231.4L232.6 231.2L231.5 230.7L230.5 229.9L230.1 228.6L229.0 227.8L228.7 226.5L229.0 225.2L228.5 224.1L228.0 222.9L226.9 222.3L226.1 221.4L225.6 220.3L224.5 219.6L223.9 218.5L223.1 217.6L222.1 216.9L221.0 216.4L220.7 215.1L220.9 213.8L220.5 212.5L220.8 211.2L218.6 211.0L216.8 209.9L214.8 209.2L213.0 208.3L211.0 207.7L209.1 206.7L207.1 206.4L205.1 205.7L203.9 206.2L202.8 206.8L202.7 208.1Z" fill="#ffa500"/>
<path d="M236.0 207.1L234.1 206.5L232.2 206.2L230.3 206.5L228.5 206.0L226.8 205.2L225.9 206.0L225.6 207.1L225.3 208.2L224.7 209.2L223.7 209.5L222.7 210.2L221.9 210.9L220.8 211.2L220.5 212.5L220.9 213.8L220.7 215.1L221.0 216.4L222.1 216.9L223.1 217.6L223.9 218.5L224.5 219.6L225.6 220.3L226.1 221.4L226.9 222.3L228.0 222.9L228.5 224.1L229.0 225.2L228.7 226.5L229.0 227.8L230.1 228.6L230.5 229.9L231.5 230.7L232.6 231.2L233.2 231.3L234.7 230.7L236.3 230.5L237.8 229.9L239.0 228.8L239.5 227.2L240.5 225.9L241.6 224.8L242.5 223.4L242.9 221.8L242.9 220.1L241.9 218.6L241.4 217.0L241.2 215.3L240.2 213.9L240.6 212.3L240.4 210.6L239.0 209.4L237.4 208.3Z" fill="#ffffff"/>
<path d="M142.2 142.8L141.0 141.8L139.6 141.9L138.3 142.2L136.9 142.0L135.5 141.8L134.2 141.2L132.8 141.1L131.5 141.1L130.1 140.8L128.7 141.2L127.3 141.5L126.2 142.5L125.3 143.7L123.9 143.8L122.5 143.7L121.0 143.5L120.0 144.0L120.0 145.0L122.0 150.0L124.4 155.0L127.0 158.8L130.0 162.5L132.4 164.1L132.9 163.8L134.4 163.1L135.9 163.3L137.5 163.5L139.0 163.3L140.5 163.1L142.1 162.8L143.1 161.6L144.5 160.8L145.2 159.0L145.4 157.1L145.7 155.3L146.1 153.4L145.7 151.6L145.8 149.7L145.6 147.8L145.8 145.9L144.4 145.2L143.2 144.2Z" fill="#ffa500"/>
<path d="M162.5 170.3L163.5 169.4L164.1 167.9L165.1 166.7L164.9 165.1L165.6 163.6L164.9 162.1L165.0 160.6L165.1 159.0L165.0 157.5L165.8 156.1L166.0 154.5L165.7 152.9L166.1 151.3L165.0 150.1L164.2 148.7L164.3 147.0L163.5 145.6L162.3 144.2L160.7 143.3L158.8 142.5L156.9 142.9L155.0 143.4L153.1 143.7L151.2 143.8L149.2 144.1L147.8 145.4L145.8 145.9L145.6 147.8L145.8 149.7L145.7 151.6L146.1 153.4L145.7 155.3L145.4 157.1L145.2 159.0L144.5 160.8L145.4 162.0L146.3 163.3L147.7 164.0L149.3 164.3L149.9 165.8L150.2 167.3L151.2 168.6L152.5 169.4L154.2 169.1L155.8 169.8L157.4 170.2L158.6 171.5L159.9 171.1L161.3 170.9Z" fill="#ff0000"/>
<path d="M167.8 169.7L169.0 168.8L170.3 169.1L171.5 169.7L172.9 169.9L174.2 170.5L175.4 169.6L176.2 168.4L177.4 167.5L178.2 166.2L179.6 165.6L180.6 164.4L182.0 163.9L183.5 163.7L183.9 162.7L184.2 161.6L184.1 160.4L184.0 159.3L183.5 158.3L182.9 157.3L182.4 156.2L182.6 155.1L182.6 152.9L182.3 150.7L182.0 149.6L181.1 148.8L181.0 147.6L181.2 146.5L180.0 146.2L178.9 146.2L177.7 146.2L176.6 146.2L175.5 145.7L174.6 144.9L173.5 144.6L172.4 144.2L171.3 144.1L170.2 144.3L169.0 144.3L167.9 144.4L166.7 144.6L165.8 145.4L164.6 145.2L163.5 145.6L164.3 147.0L164.2 148.7L165.0 150.1L166.1 151.3L165.7 152.9L166.0 154.5L165.8 156.1L165.0 157.5L165.1 159.0L165.0 160.6L164.9 162.1L165.6 163.6L164.9 165.1L165.1 166.7L164.1 167.9L163.5 169.4L165.0 169.3L166.3 169.9Z" fill="#ff0000"/>
<path d="M149.3 164.3L147.7 164.0L146.3 163.3L145.4 162.0L144.5 160.8L143.1 161.6L142.1 162.8L140.5 163.1L139.0 163.3L137.5 163.5L135.9 163.3L134.4 163.1L132.9 163.8L132.4 164.1L133.8 165.0L137.5 167.0L138.0 169.4L138.8 172.5L137.0 177.0L137.3 179.6L137.5 181.2L138.8 183.8L142.0 187.0L142.7 188.0L144.3 188.6L145.9 189.5L146.0 190.6L145.9 191.8L146.4 192.8L146.9 193.9L147.3 194.9L148.0 195.8L148.5 196.9L148.9 197.9L150.0 198.8L151.5 199.0L152.1 200.4L153.4 201.1L154.8 201.2L156.1 201.8L157.4 201.7L158.8 201.7L160.7 201.2L162.5 200.8L162.4 199.3L163.0 197.9L163.9 196.8L164.5 195.4L163.3 193.8L163.0 191.8L161.1 191.2L159.9 189.5L159.3 187.8L158.9 185.9L157.7 184.4L157.6 182.5L157.7 181.0L157.9 179.5L158.3 178.1L159.5 177.1L158.9 175.8L158.5 174.4L158.5 172.9L158.6 171.5L157.4 170.2L155.8 169.8L154.2 169.1L152.5 169.4L151.2 168.6L150.2 167.3L149.9 165.8ZM139.0 188.6L140.4 188.4L139.0 187.0L138.8 188.3Z" fill="#ff0000"/>
<path d="M158.9 175.8L159.5 177.1L158.3 178.1L157.9 179.5L157.7 181.0L157.6 182.5L157.7 184.4L158.9 185.9L159.3 187.8L159.9 189.5L161.1 191.2L163.0 191.8L163.3 193.8L164.5 195.4L166.4 194.5L168.4 193.8L170.0 192.4L172.0 191.6L173.0 191.2L174.1 190.9L174.8 190.0L175.6 189.3L176.7 189.1L177.8 189.3L178.7 188.6L179.8 188.2L179.5 187.1L179.3 185.9L179.2 184.7L178.5 183.7L178.9 182.5L178.9 181.3L178.1 180.3L178.0 179.0L176.8 178.5L176.1 177.5L175.9 176.2L175.0 175.3L175.0 174.0L174.8 172.8L174.9 171.6L174.2 170.5L172.9 169.9L171.5 169.7L170.3 169.1L169.0 168.8L167.8 169.7L166.3 169.9L165.0 169.3L163.5 169.4L162.5 170.3L161.3 170.9L159.9 171.1L158.6 171.5L158.5 172.9L158.5 174.4Z" fill="#ff0000"/>
<path d="M146.0 196.0L143.5 192.5L141.0 189.0L140.4 188.4L139.0 188.6L138.8 188.3L138.0 192.5L137.5 198.8L136.2 205.0L136.0 206.8L135.7 208.2L135.6 209.0L136.8 210.5L135.3 212.0L135.0 215.0L133.8 221.2L133.6 222.0L134.4 222.4L136.4 222.3L138.3 222.4L140.2 222.7L142.0 223.6L144.0 224.0L145.9 223.7L147.9 223.2L149.8 223.7L151.7 224.1L153.3 225.3L155.0 226.3L156.5 227.5L156.7 226.0L156.6 224.6L157.0 223.2L158.0 222.0L158.9 220.9L160.1 220.1L160.8 218.8L161.0 217.3L161.8 215.9L163.2 215.3L164.7 215.2L166.0 214.5L167.0 213.3L168.0 212.3L168.3 210.8L169.0 209.5L167.8 208.7L167.0 207.6L166.5 206.3L166.0 205.0L165.2 203.9L164.6 202.6L163.7 201.6L162.5 200.8L160.7 201.2L158.8 201.7L157.4 201.7L156.1 201.8L154.8 201.2L153.4 201.1L152.1 200.4L151.5 199.0L150.0 198.8L148.9 197.9L148.5 196.9L148.0 195.8L147.3 194.9L146.9 193.9L146.4 192.8L145.9 191.8L146.0 190.6L145.9 189.5L144.3 188.6L142.7 188.0L143.0 188.5L145.0 192.0Z" fill="#eeee00"/>
<path d="M159.0 231.0L160.2 230.9L161.3 230.8L162.3 230.4L163.4 230.6L164.5 230.9L165.6 231.1L166.6 231.4L167.8 231.3L168.7 230.6L169.8 230.3L171.0 230.3L172.1 230.4L173.2 230.4L174.3 230.6L175.3 231.2L176.6 229.8L177.2 228.1L177.4 226.3L177.3 224.5L177.7 222.7L178.6 221.1L180.3 220.3L181.6 219.0L181.0 217.4L179.9 216.0L179.8 214.3L179.8 212.6L178.6 211.9L177.2 211.6L175.9 211.1L174.5 210.5L173.1 210.5L171.7 210.1L170.4 209.5L169.0 209.5L168.3 210.8L168.0 212.3L167.0 213.3L166.0 214.5L164.7 215.2L163.2 215.3L161.8 215.9L161.0 217.3L160.8 218.8L160.1 220.1L158.9 220.9L158.0 222.0L157.0 223.2L156.6 224.6L156.7 226.0L156.5 227.5L157.5 228.9L157.9 230.7Z" fill="#ff0000"/>
<path d="M131.2 242.8L132.6 242.8L133.9 243.4L135.3 243.3L136.7 243.2L138.1 243.3L139.5 243.5L140.7 244.2L141.9 244.9L143.1 245.6L144.5 245.7L145.7 245.0L147.1 245.0L148.4 244.9L149.6 244.1L151.0 244.0L152.4 244.5L153.8 244.2L153.6 242.4L153.7 240.5L154.9 239.1L155.5 237.3L155.4 235.5L156.0 233.8L156.9 232.2L157.9 230.7L157.5 228.9L156.5 227.5L155.0 226.3L153.3 225.3L151.7 224.1L149.8 223.7L147.9 223.2L145.9 223.7L144.0 224.0L142.0 223.6L140.2 222.7L138.3 222.4L136.4 222.3L134.4 222.4L133.6 222.0L132.5 227.5L131.2 233.8L130.0 240.0L128.4 242.9L128.5 243.0L129.9 243.3Z" fill="#eeee00"/>
<path d="M197.1 223.6L196.2 222.6L195.0 222.1L193.6 222.4L192.4 221.9L191.2 221.6L190.0 220.9L188.7 220.9L187.5 220.4L186.6 219.4L185.3 219.3L184.2 218.6L182.9 219.0L181.6 219.0L180.3 220.3L178.6 221.1L177.7 222.7L177.3 224.5L177.4 226.3L177.2 228.1L176.6 229.8L175.3 231.2L176.4 232.3L177.6 233.5L177.7 235.1L178.6 236.5L180.4 237.7L182.4 237.8L184.4 237.1L186.4 237.1L188.4 236.5L190.3 235.8L192.3 235.6L194.2 236.5L195.6 235.6L196.2 234.2L196.1 232.6L196.7 231.1L197.9 230.2L199.0 229.1L199.5 227.7L200.1 226.3L200.0 226.1L198.8 225.6L197.9 224.5Z" fill="#ff0000"/>
<path d="M178.1 238.0L178.6 236.5L177.7 235.1L177.6 233.5L176.4 232.3L175.3 231.2L174.3 230.6L173.2 230.4L172.1 230.4L171.0 230.3L169.8 230.3L168.7 230.6L167.8 231.3L166.6 231.4L165.6 231.1L164.5 230.9L163.4 230.6L162.3 230.4L161.3 230.8L160.2 230.9L159.0 231.0L157.9 230.7L156.9 232.2L156.0 233.8L155.4 235.5L155.5 237.3L154.9 239.1L153.7 240.5L153.6 242.4L153.8 244.2L154.1 245.0L156.0 245.5L157.9 246.2L159.7 246.8L161.3 247.9L162.9 249.0L164.5 250.2L166.1 251.5L168.2 251.6L169.5 251.1L170.9 250.9L171.7 249.6L173.0 249.0L174.3 248.2L175.5 247.6L176.6 246.6L177.2 245.3L177.6 243.9L177.9 242.5L177.9 240.9L177.6 239.4Z" fill="#ff0000"/>
<path d="M151.0 244.0L149.6 244.1L148.4 244.9L147.1 245.0L145.7 245.0L144.5 245.7L143.1 245.6L141.9 244.9L140.7 244.2L139.5 243.5L138.1 243.3L136.7 243.2L135.3 243.3L133.9 243.4L132.6 242.8L131.2 242.8L129.9 243.3L128.5 243.0L128.4 242.9L127.5 244.4L122.5 248.5L125.6 250.6L128.8 252.5L129.4 256.2L132.5 257.5L137.5 259.4L141.2 260.6L145.0 263.0L147.5 265.6L147.8 265.5L154.1 245.0L153.8 244.2L152.4 244.5Z" fill="#ffa500"/>
<path d="M167.9 266.4L167.3 265.1L167.6 263.6L167.1 262.3L167.4 260.9L168.0 259.7L167.9 258.3L167.6 256.9L167.7 255.6L168.0 254.3L168.1 252.9L168.2 251.6L166.1 251.5L164.5 250.2L162.9 249.0L161.3 247.9L159.7 246.8L157.9 246.2L156.0 245.5L154.1 245.0L147.8 265.5L150.6 264.4L153.0 263.8L155.0 266.2L157.5 268.8L161.2 268.8L165.0 269.4L168.6 269.4L168.6 269.2L168.5 267.7Z" fill="#ff0000"/>
<path d="M194.2 244.2L194.7 242.3L194.3 240.3L194.3 238.4L194.2 236.5L192.3 235.6L190.3 235.8L188.4 236.5L186.4 237.1L184.4 237.1L182.4 237.8L180.4 237.7L178.6 236.5L178.1 238.0L177.6 239.4L177.9 240.9L177.9 242.5L177.6 243.9L177.2 245.3L176.6 246.6L175.5 247.6L174.3 248.2L173.0 249.0L171.7 249.6L170.9 250.9L169.5 251.1L168.2 251.6L168.1 252.9L168.0 254.3L167.7 255.6L167.6 256.9L167.9 258.3L168.0 259.7L167.4 260.9L167.1 262.3L167.6 263.6L167.3 265.1L167.9 266.4L168.5 267.7L168.6 269.2L168.6 269.4L168.8 269.4L172.0 268.8L173.8 267.0L176.2 265.0L178.0 266.2L180.1 267.4L180.1 267.3L181.2 266.4L181.3 265.1L181.6 263.8L181.6 262.4L181.9 261.1L181.3 259.9L181.2 258.5L183.3 258.6L185.3 258.2L187.4 258.1L189.1 256.9L189.8 255.8L190.9 255.2L192.0 254.5L192.6 253.4L193.7 253.0L194.8 253.1L195.7 252.2L196.8 251.9L197.4 251.2L195.9 249.8L194.9 248.1L194.0 246.2Z" fill="#ff0000"/>
<path d="M181.6 263.8L181.3 265.1L181.2 266.4L180.1 267.3L180.1 267.4L181.2 268.0L185.0 270.0L187.5 272.0L188.2 272.1L191.2 272.5L194.4 273.8L195.0 275.6L199.4 277.0L200.9 278.9L202.3 278.0L203.5 276.4L203.4 274.4L203.3 272.3L203.6 270.3L204.5 268.5L203.7 267.6L203.4 266.5L202.9 265.4L202.2 264.5L202.4 263.3L202.0 262.2L201.7 261.0L201.1 260.0L200.2 259.2L199.5 258.3L198.7 257.4L197.9 256.5L197.0 255.6L196.7 254.4L196.5 253.1L196.8 251.9L195.7 252.2L194.8 253.1L193.7 253.0L192.6 253.4L192.0 254.5L190.9 255.2L189.8 255.8L189.1 256.9L187.4 258.1L185.3 258.2L183.3 258.6L181.2 258.5L181.3 259.9L181.9 261.1L181.6 262.4Z" fill="#ffa500"/>
<path d="M201.6 227.1L200.1 226.3L199.5 227.7L199.0 229.1L197.9 230.2L196.7 231.1L196.1 232.6L196.2 234.2L195.6 235.6L194.2 236.5L194.3 238.4L194.3 240.3L194.7 242.3L194.2 244.2L194.0 246.2L194.9 248.1L195.9 249.8L197.4 251.2L198.6 251.0L199.7 250.2L200.9 250.3L202.2 250.5L203.2 249.8L203.9 248.8L205.0 248.2L205.8 247.3L206.9 247.8L208.1 248.2L209.3 247.9L210.5 248.1L211.8 247.9L212.7 247.1L213.9 246.9L215.1 247.1L215.9 245.5L216.2 243.8L216.3 242.0L216.9 240.3L215.7 238.5L213.6 237.7L212.6 235.9L212.1 233.8L210.9 232.1L209.8 230.3L208.2 229.0L206.3 228.1L204.8 227.6L203.3 227.0Z" fill="#ff0000"/>
<path d="M196.7 254.4L197.0 255.6L197.9 256.5L198.7 257.4L199.5 258.3L200.2 259.2L201.1 260.0L201.7 261.0L202.0 262.2L202.4 263.3L202.2 264.5L202.9 265.4L203.4 266.5L203.7 267.6L204.5 268.5L205.6 267.6L206.1 266.2L207.5 265.8L208.5 264.7L209.9 264.4L211.3 264.7L212.7 264.1L213.7 263.1L215.1 262.9L216.4 263.5L217.8 263.7L219.1 263.1L220.5 263.1L221.7 262.3L223.0 262.4L223.4 262.2L223.7 261.4L223.4 261.2L222.9 260.1L222.4 259.0L221.5 258.2L221.3 257.0L221.1 255.9L220.9 254.7L221.3 253.5L220.3 252.8L219.3 252.4L218.5 251.5L217.4 251.1L216.7 250.1L216.7 248.9L215.8 248.0L215.1 247.1L213.9 246.9L212.7 247.1L211.8 247.9L210.5 248.1L209.3 247.9L208.1 248.2L206.9 247.8L205.8 247.3L205.0 248.2L203.9 248.8L203.2 249.8L202.2 250.5L200.9 250.3L199.7 250.2L198.6 251.0L197.4 251.2L196.8 251.9L196.5 253.1Z" fill="#ff0000"/>
<path d="M203.4 274.4L203.5 276.4L202.3 278.0L200.9 278.9L201.2 279.4L205.0 280.0L208.8 278.8L212.5 280.0L216.2 279.4L220.0 277.5L223.8 278.0L225.0 276.2L223.0 272.5L222.5 268.8L222.5 265.0L223.4 262.2L223.0 262.4L221.7 262.3L220.5 263.1L219.1 263.1L217.8 263.7L216.4 263.5L215.1 262.9L213.7 263.1L212.7 264.1L211.3 264.7L209.9 264.4L208.5 264.7L207.5 265.8L206.1 266.2L205.6 267.6L204.5 268.5L203.6 270.3L203.3 272.3Z" fill="#ffffff"/>
<path d="M229.3 232.2L228.2 232.4L227.0 233.0L225.8 232.9L224.9 233.8L224.1 234.6L223.0 235.1L221.8 235.5L220.7 235.9L219.6 236.4L219.3 237.6L218.8 238.7L217.7 239.4L216.9 240.3L216.3 242.0L216.2 243.8L215.9 245.5L215.1 247.1L215.8 248.0L216.7 248.9L216.7 250.1L217.4 251.1L218.5 251.5L219.3 252.4L220.3 252.8L221.3 253.5L220.9 254.7L221.1 255.9L221.3 257.0L221.5 258.2L222.4 259.0L222.9 260.1L223.4 261.2L223.7 261.4L223.8 261.2L225.0 257.5L226.2 255.6L231.2 254.4L233.8 252.0L237.5 249.4L241.2 247.0L242.6 246.6L242.1 246.2L241.9 244.3L241.9 242.5L240.6 241.2L239.0 240.3L237.7 239.0L236.7 237.5L235.5 236.1L234.0 234.9L233.8 233.0L233.2 231.3L232.6 231.2L231.5 231.4L230.4 231.9Z" fill="#ffffff"/>
<path d="M239.5 227.2L239.0 228.8L237.8 229.9L236.3 230.5L234.7 230.7L233.2 231.3L233.8 233.0L234.0 234.9L235.5 236.1L236.7 237.5L237.7 239.0L239.0 240.3L240.6 241.2L241.9 242.5L241.9 244.3L242.1 246.2L242.6 246.6L243.8 246.2L246.2 247.0L248.8 248.0L251.3 248.9L251.5 248.6L253.0 247.1L254.8 246.0L255.9 244.1L256.3 242.0L256.3 240.4L257.1 238.9L257.2 237.3L257.8 235.8L258.2 234.3L258.1 232.7L258.1 231.1L257.7 229.5L256.7 228.3L255.8 227.1L255.2 225.6L254.1 224.5L252.6 224.9L251.1 225.2L249.7 225.5L248.1 225.6L246.6 225.6L245.1 224.9L244.0 223.8L242.5 223.4L241.6 224.8L240.5 225.9Z" fill="#ffffff"/>
<path d="M272.1 229.4L271.0 228.8L269.8 229.0L268.9 229.8L267.7 230.1L266.7 230.8L265.5 231.2L264.3 230.8L263.1 230.4L262.3 229.4L261.1 229.5L260.0 230.2L258.9 229.8L257.7 229.5L258.1 231.1L258.1 232.7L258.2 234.3L257.8 235.8L257.2 237.3L257.1 238.9L256.3 240.4L256.3 242.0L257.7 242.0L259.0 242.5L260.4 242.1L261.8 242.1L263.1 241.7L264.5 242.2L265.8 241.9L267.2 242.2L268.6 242.3L270.0 242.7L271.2 241.9L272.6 241.6L274.0 242.0L275.3 241.4L276.6 241.9L278.0 242.0L278.3 240.4L279.2 239.1L278.5 237.9L278.3 236.6L277.5 235.4L276.3 234.7L276.7 233.4L276.5 232.0L275.9 230.8L275.7 229.5L274.5 229.9L273.3 229.7Z" fill="#ffffff"/>
<path d="M274.0 242.0L272.6 241.6L271.2 241.9L270.0 242.7L268.6 242.3L267.2 242.2L265.8 241.9L264.5 242.2L263.1 241.7L261.8 242.1L260.4 242.1L259.0 242.5L257.7 242.0L256.3 242.0L255.9 244.1L254.8 246.0L253.0 247.1L251.5 248.6L251.3 248.9L252.5 249.4L255.0 251.2L260.0 250.6L263.8 250.0L266.2 251.2L270.0 252.0L271.2 254.4L276.2 255.0L276.4 255.1L276.8 253.7L276.8 252.2L276.7 250.7L277.0 249.2L277.7 247.9L277.7 246.4L278.1 245.0L277.8 243.5L278.0 242.0L276.6 241.9L275.3 241.4Z" fill="#ffffff"/>
<path d="M277.8 243.5L278.1 245.0L277.7 246.4L277.7 247.9L277.0 249.2L276.7 250.7L276.8 252.2L276.8 253.7L276.4 255.1L279.4 256.2L282.0 258.0L285.0 258.8L288.8 258.8L292.5 257.5L296.2 255.0L298.0 252.5L300.0 250.0L302.0 247.5L303.5 245.8L296.8 237.1L295.6 237.5L294.5 237.3L293.4 237.5L292.4 238.1L291.2 238.0L290.1 238.3L289.0 237.8L287.9 237.5L286.8 237.9L285.6 237.8L284.9 238.7L283.7 239.0L282.6 238.9L281.5 238.6L280.4 239.0L279.2 239.1L278.3 240.4L278.0 242.0Z" fill="#ffffff"/>
<path d="M277.3 222.9L276.2 223.9L275.8 225.3L276.1 226.7L276.0 228.1L275.7 229.5L275.9 230.8L276.5 232.0L276.7 233.4L276.3 234.7L277.5 235.4L278.3 236.6L278.5 237.9L279.2 239.1L280.4 239.0L281.5 238.6L282.6 238.9L283.7 239.0L284.9 238.7L285.6 237.8L286.8 237.9L287.9 237.5L289.0 237.8L290.1 238.3L291.2 238.0L292.4 238.1L293.4 237.5L294.5 237.3L295.6 237.5L296.8 237.1L298.6 236.1L299.5 234.3L299.6 232.3L300.1 230.4L299.8 228.5L299.7 226.7L300.2 224.8L299.6 222.9L298.2 222.8L296.8 223.3L295.4 223.2L294.1 222.6L293.1 221.5L292.2 220.4L291.0 219.7L289.7 219.2L288.5 218.4L287.2 217.8L285.8 217.3L284.4 217.5L283.1 218.1L281.9 218.9L280.5 218.8L279.1 219.0L278.5 220.3L277.8 221.6Z" fill="#ffffff"/>
<path d="M300.2 224.8L299.7 226.7L299.8 228.5L300.1 230.4L299.6 232.3L299.5 234.3L298.6 236.1L296.8 237.1L303.5 245.8L303.8 245.6L307.5 243.8L311.2 240.3L315.0 236.5L317.5 232.5L318.8 228.0L316.2 225.6L312.5 226.2L307.5 223.8L303.8 222.0L301.9 220.0L301.2 221.5L299.6 222.9Z" fill="#ffffff"/>
<path d="M207.6 96.8L210.0 97.6L212.5 97.0L213.5 95.0L213.3 92.6L211.5 91.4L209.0 91.2L207.0 92.2L206.6 94.6Z" fill="#ffffff"/>
<path d="M301.6 129.5L300.8 126.0L299.0 123.0L296.5 124.0L297.0 127.5L299.0 130.5L301.3 132.0L301.5 132.1Z" fill="#ffffff"/>
<path d="M67.5 97.5L68.8 97.2L69.0 98.6L67.8 98.8Z" fill="#ffa500"/>
<path d="M100.0 131.5L103.5 132.5L104.0 135.0L101.0 134.5Z" fill="#ffa500"/>
<path d="M96.0 123.0L98.0 123.3L98.0 124.3L96.2 124.0Z" fill="#ffa500"/>
<path d="M118.5 143.5L120.3 144.0L120.8 146.5L119.0 146.0Z" fill="#ffa500"/>
<path d="M116.0 151.3L117.8 151.8L117.5 153.0L116.0 152.5Z" fill="#ffa500"/>
<path d="M131.0 166.0L135.0 167.3L135.0 168.4L131.3 167.3Z" fill="#ff0000"/>
<path d="M134.4 172.5L136.5 174.0L137.8 178.5L136.0 177.5Z" fill="#ff0000"/>
<path d="M207 94.4Q208.6 92.9 210.4 94.1T213.3 94.9M209.9 94.3L209.4 97.3M210.6 91.6L210.4 93.9" fill="none" stroke-width="0.6"/>
</g></g>
<rect x="444.95" y="30.45" width="253.95" height="250.45" fill="none" stroke="#333" stroke-width="0.90"/>
<rect x="702.00" y="30.45" width="8.60" height="42.04" fill="#ffffff"/>
<rect x="702.00" y="72.19" width="8.60" height="42.04" fill="#006d2c"/>
<rect x="702.00" y="113.93" width="8.60" height="42.04" fill="#7fff00"/>
<rect x="702.00" y="155.67" width="8.60" height="42.04" fill="#eeee00"/>
<rect x="702.00" y="197.42" width="8.60" height="42.04" fill="#ffa500"/>
<rect x="702.00" y="239.16" width="8.60" height="41.74" fill="#ff0000"/>
<path d="M710.60 51.32h2.2" stroke="#000" stroke-width="0.90"/>
<text x="714.85" y="54.37" font-size="6.35" fill="#000">Pas d'information</text>
<path d="M710.60 93.06h2.2" stroke="#000" stroke-width="0.90"/>
<text x="714.85" y="96.11" font-size="6.35" fill="#000">Absent ou rare</text>
<path d="M710.60 134.80h2.2" stroke="#000" stroke-width="0.90"/>
<text x="714.85" y="137.85" font-size="6.35" fill="#000">Peu fréquent ou très localisé</text>
<path d="M710.60 176.55h2.2" stroke="#000" stroke-width="0.90"/>
<text x="714.85" y="179.60" font-size="6.35" fill="#000">Moyennement fréquent</text>
<path d="M710.60 218.29h2.2" stroke="#000" stroke-width="0.90"/>
<text x="714.85" y="221.34" font-size="6.35" fill="#000">Fréquent</text>
<path d="M710.60 260.03h2.2" stroke="#000" stroke-width="0.90"/>
<text x="714.85" y="263.08" font-size="6.35" fill="#000">Très fréquent</text>
<rect x="702.00" y="30.45" width="8.60" height="250.45" fill="none" stroke="#333" stroke-width="0.90"/>
<text x="618.30" y="24.20" font-size="7.55" font-weight="bold" text-anchor="middle" fill="#000">Fréquence ravageur aujourd'hui : Grosse altise adulte</text>
<g transform="translate(66.900 338.400) scale(1.00000 1.00020) translate(-66.900 -30.450)">
<g stroke="#000" stroke-width="0.75" stroke-linejoin="round">
<path d="M96.0 116.4L95.7 115.4L96.4 114.5L97.3 113.8L97.5 112.6L98.2 111.7L98.9 110.8L98.9 109.6L98.7 108.4L98.5 107.3L97.7 105.3L97.0 103.3L95.9 101.5L94.9 99.6L94.2 98.7L93.4 97.9L92.8 96.9L92.6 95.8L92.3 94.7L92.7 93.6L92.9 92.7L90.0 92.5L83.8 93.0L77.5 95.0L73.8 97.5L73.0 101.2L77.5 102.5L77.0 106.2L81.2 107.0L77.5 108.0L73.8 110.6L78.8 111.2L81.2 115.0L80.0 117.5L83.8 117.5L87.5 118.8L92.5 119.4L95.6 118.8L95.8 118.9L95.8 118.6L96.1 117.6Z" fill="#7fff00"/>
<path d="M92.6 95.8L92.8 96.9L93.4 97.9L94.2 98.7L94.9 99.6L95.9 101.5L97.0 103.3L97.7 105.3L98.5 107.3L99.8 107.0L101.2 107.2L102.5 106.9L103.9 106.5L105.1 107.1L106.5 107.4L107.9 107.0L109.3 107.4L110.6 107.8L111.8 108.6L113.1 109.0L114.4 109.5L115.8 109.1L117.1 108.6L118.6 108.8L120.0 108.7L121.4 107.6L122.4 106.2L122.6 104.4L123.7 103.0L124.6 101.5L124.9 99.8L125.0 98.1L125.2 97.7L125.0 97.5L121.2 97.0L117.5 98.8L113.0 100.0L111.2 96.2L109.4 92.5L107.5 90.0L102.5 90.0L98.0 91.2L96.2 93.0L92.9 92.7L92.7 93.6L92.3 94.7Z" fill="#7fff00"/>
<path d="M121.7 116.2L121.4 114.7L121.1 113.1L120.1 111.8L119.7 110.2L120.0 108.7L118.6 108.8L117.1 108.6L115.8 109.1L114.4 109.5L113.1 109.0L111.8 108.6L110.6 107.8L109.3 107.4L107.9 107.0L106.5 107.4L105.1 107.1L103.9 106.5L102.5 106.9L101.2 107.2L99.8 107.0L98.5 107.3L98.7 108.4L98.9 109.6L98.9 110.8L98.2 111.7L97.5 112.6L97.3 113.8L96.4 114.5L95.7 115.4L96.0 116.4L96.1 117.6L95.8 118.6L95.8 118.9L97.5 120.6L101.2 123.0L105.0 125.6L108.0 127.5L112.5 128.8L114.7 129.8L114.9 129.8L115.6 128.7L116.8 128.2L117.0 127.0L117.4 125.8L117.7 124.6L118.5 123.6L119.8 123.4L120.9 122.8L122.0 122.0L122.5 120.8L122.0 119.3L121.7 117.8Z" fill="#7fff00"/>
<path d="M140.0 101.4L138.9 101.0L137.9 100.4L136.9 99.7L136.1 98.9L135.0 98.3L133.8 98.0L132.6 97.8L132.4 97.6L131.2 97.5L128.8 98.8L127.0 100.6L125.2 97.7L125.0 98.1L124.9 99.8L124.6 101.5L123.7 103.0L122.6 104.4L122.4 106.2L121.4 107.6L120.0 108.7L119.7 110.2L120.1 111.8L121.1 113.1L121.4 114.7L121.7 116.2L121.7 117.8L122.0 119.3L122.5 120.8L123.7 120.3L124.9 120.5L126.0 120.9L127.1 121.4L128.3 121.0L129.4 120.6L130.6 120.7L131.7 121.3L133.0 120.9L134.2 121.3L135.3 120.9L136.6 120.8L137.4 121.7L138.4 122.5L139.6 122.9L140.7 123.3L141.6 122.3L142.3 121.1L142.9 119.9L143.3 118.7L143.2 117.4L143.1 116.1L142.8 114.8L143.1 113.5L143.1 112.1L143.7 111.0L143.9 109.7L143.8 108.4L143.5 107.1L143.9 105.8L143.2 104.7L143.0 103.4L142.2 102.4L141.1 101.8Z" fill="#7fff00"/>
<path d="M150.5 78.5L150.8 78.2L150.0 78.0L145.0 78.0L143.8 75.6L143.0 72.0L142.5 68.0L138.8 67.5L133.8 68.0L130.0 67.5L131.2 72.5L133.0 78.8L134.7 85.1L135.0 86.2L135.6 92.5L135.6 98.0L132.4 97.6L132.6 97.8L133.8 98.0L135.0 98.3L136.1 98.9L136.9 99.7L137.9 100.4L138.9 101.0L140.0 101.4L141.1 101.8L142.2 102.4L143.0 103.4L144.1 103.3L145.2 103.4L146.2 102.9L147.2 102.3L149.0 101.0L150.8 99.8L151.4 98.4L152.0 96.9L150.7 95.3L150.2 93.5L149.2 91.8L148.7 89.9L148.2 88.0L148.4 86.0L147.6 84.2L147.7 82.3L148.7 80.9L150.3 80.3Z" fill="#eeee00"/>
<path d="M168.0 78.8L162.5 80.6L156.2 79.4L150.8 78.2L150.5 78.5L150.3 80.3L148.7 80.9L147.7 82.3L147.6 84.2L148.4 86.0L148.2 88.0L148.7 89.9L149.2 91.8L150.2 93.5L150.7 95.3L152.0 96.9L153.2 96.2L154.2 95.3L155.3 94.4L156.6 94.0L158.0 93.7L159.3 94.2L160.7 94.4L162.1 94.2L163.4 93.8L164.4 92.9L165.5 92.2L166.8 91.8L168.0 91.2L169.2 90.7L170.0 89.7L171.0 88.7L171.0 87.6L171.0 86.5L171.0 85.4L170.3 84.4L170.2 83.3L170.2 82.2L170.8 81.2L171.0 80.1L169.5 79.5L168.2 78.6Z" fill="#ff0000"/>
<path d="M168.0 91.2L166.8 91.8L165.5 92.2L164.4 92.9L163.4 93.8L162.1 94.2L160.7 94.4L159.3 94.2L158.0 93.7L156.6 94.0L155.3 94.4L154.2 95.3L153.2 96.2L152.0 96.9L151.4 98.4L150.8 99.8L151.6 101.5L153.1 102.5L154.9 102.8L156.4 103.9L157.6 105.1L158.8 106.4L160.0 107.8L160.5 109.5L162.3 108.3L164.3 107.8L166.3 106.9L168.1 105.9L170.0 104.9L172.0 104.2L174.2 103.8L176.3 104.2L177.0 102.9L177.7 101.6L177.5 100.0L177.9 98.6L176.9 97.3L176.7 95.7L176.5 94.2L175.5 92.9L174.7 91.5L173.8 90.2L172.6 89.0L171.0 88.7L170.0 89.7L169.2 90.7Z" fill="#ffa500"/>
<path d="M159.5 117.7L160.0 116.1L160.8 114.6L161.0 112.9L161.3 111.1L160.5 109.5L160.0 107.8L158.8 106.4L157.6 105.1L156.4 103.9L154.9 102.8L153.1 102.5L151.6 101.5L150.8 99.8L149.0 101.0L147.2 102.3L146.2 102.9L145.2 103.4L144.1 103.3L143.0 103.4L143.2 104.7L143.9 105.8L143.5 107.1L143.8 108.4L143.9 109.7L143.7 111.0L143.1 112.1L143.1 113.5L142.8 114.8L143.1 116.1L143.2 117.4L143.3 118.7L142.9 119.9L142.3 121.1L141.6 122.3L140.7 123.3L141.0 123.5L142.2 123.7L143.4 123.6L144.4 122.9L145.6 122.7L146.8 122.9L148.0 122.6L149.1 122.0L149.9 121.2L151.1 121.0L152.2 121.5L153.4 121.6L154.6 121.5L155.7 121.8L156.9 121.6L158.1 121.8L159.0 122.6L159.7 121.0L159.2 119.3Z" fill="#eeee00"/>
<path d="M175.6 120.6L176.0 118.9L177.4 118.2L178.7 117.4L180.0 116.4L180.5 114.8L180.0 113.4L180.3 111.9L179.6 110.6L178.5 109.5L178.1 108.1L177.1 107.0L176.9 105.6L176.3 104.2L174.2 103.8L172.0 104.2L170.0 104.9L168.1 105.9L166.3 106.9L164.3 107.8L162.3 108.3L160.5 109.5L161.3 111.1L161.0 112.9L160.8 114.6L160.0 116.1L159.5 117.7L159.2 119.3L159.7 121.0L159.0 122.6L160.5 123.1L161.7 124.0L162.4 125.3L163.2 126.5L164.5 125.8L166.0 125.7L167.4 125.2L168.8 125.0L170.3 124.8L171.7 124.6L173.2 124.4L174.6 124.9L174.5 123.3L174.4 121.7Z" fill="#eeee00"/>
<path d="M139.4 138.6L139.0 137.4L139.3 136.2L140.0 135.1L140.1 133.8L139.7 132.7L140.1 131.5L140.1 130.2L140.7 129.1L141.5 128.3L141.4 127.1L141.3 125.9L141.5 124.7L141.0 123.5L140.7 123.3L139.6 122.9L138.4 122.5L137.4 121.7L136.6 120.8L135.3 120.9L134.2 121.3L133.0 120.9L131.7 121.3L130.6 120.7L129.4 120.6L128.3 121.0L127.1 121.4L126.0 120.9L124.9 120.5L123.7 120.3L122.5 120.8L122.0 122.0L120.9 122.8L119.8 123.4L118.5 123.6L117.7 124.6L117.4 125.8L117.0 127.0L116.8 128.2L115.6 128.7L114.9 129.8L114.7 129.8L115.0 130.0L115.0 133.8L118.8 135.0L120.6 138.8L120.0 142.0L120.0 144.0L121.0 143.5L122.5 143.7L123.9 143.8L125.3 143.7L126.2 142.5L127.3 141.5L128.7 141.2L130.1 140.8L131.5 141.1L132.8 141.1L134.2 141.2L135.5 141.8L136.9 142.0L138.3 142.2L139.6 141.9L141.0 141.8L140.0 141.0L139.3 139.9Z" fill="#eeee00"/>
<path d="M155.7 121.8L154.6 121.5L153.4 121.6L152.2 121.5L151.1 121.0L149.9 121.2L149.1 122.0L148.0 122.6L146.8 122.9L145.6 122.7L144.4 122.9L143.4 123.6L142.2 123.7L141.0 123.5L141.5 124.7L141.3 125.9L141.4 127.1L141.5 128.3L140.7 129.1L140.1 130.2L140.1 131.5L139.7 132.7L140.1 133.8L140.0 135.1L139.3 136.2L139.0 137.4L139.4 138.6L139.3 139.9L140.0 141.0L141.0 141.8L142.2 142.8L143.2 144.2L144.4 145.2L145.8 145.9L147.8 145.4L149.2 144.1L151.2 143.8L153.1 143.7L155.0 143.4L156.9 142.9L158.8 142.5L160.7 143.3L161.2 142.4L162.0 141.6L162.4 140.5L162.3 139.3L162.9 137.2L162.7 135.1L163.0 132.9L163.5 130.8L163.6 128.7L163.2 126.5L162.4 125.3L161.7 124.0L160.5 123.1L159.0 122.6L158.1 121.8L156.9 121.6Z" fill="#eeee00"/>
<path d="M196.5 68.6L196.2 67.3L195.9 66.1L194.9 65.2L195.0 63.9L194.4 62.7L194.1 61.4L194.5 60.1L193.9 59.0L193.4 57.8L190.0 60.6L182.5 63.8L175.0 66.2L170.0 69.4L167.5 73.0L168.0 75.6L170.6 77.0L168.2 78.6L169.5 79.5L171.0 80.1L172.5 80.3L174.1 80.2L175.6 80.8L177.1 80.6L178.4 79.7L180.0 79.5L181.6 79.6L183.1 79.0L184.7 79.3L186.2 78.7L187.7 78.7L189.3 79.1L190.5 78.0L192.0 77.6L193.5 77.4L195.0 76.9L195.7 75.9L196.3 74.7L196.7 73.5L196.6 72.3L197.0 71.0L196.9 69.8Z" fill="#ff0000"/>
<path d="M195.8 81.1L195.7 79.6L195.5 78.2L195.0 76.9L193.5 77.4L192.0 77.6L190.5 78.0L189.3 79.1L187.7 78.7L186.2 78.7L184.7 79.3L183.1 79.0L181.6 79.6L180.0 79.5L178.4 79.7L177.1 80.6L175.6 80.8L174.1 80.2L172.5 80.3L171.0 80.1L170.8 81.2L170.2 82.2L170.2 83.3L170.3 84.4L171.0 85.4L171.0 86.5L171.0 87.6L171.0 88.7L172.6 89.0L173.8 90.2L174.7 91.5L175.5 92.9L176.5 94.2L176.7 95.7L176.9 97.3L177.9 98.6L179.2 98.9L180.6 98.4L181.9 98.3L183.2 98.2L184.5 97.8L185.8 97.4L187.0 96.9L188.1 96.1L189.3 95.0L190.4 93.7L190.6 92.1L190.9 90.6L191.8 89.2L193.1 88.3L193.6 86.8L194.5 85.5L195.4 84.2L195.6 82.6Z" fill="#ff0000"/>
<path d="M184.5 97.8L183.2 98.2L181.9 98.3L180.6 98.4L179.2 98.9L177.9 98.6L177.5 100.0L177.7 101.6L177.0 102.9L176.3 104.2L176.9 105.6L177.1 107.0L178.1 108.1L178.5 109.5L179.6 110.6L180.3 111.9L180.0 113.4L180.5 114.8L181.9 115.6L183.2 116.4L184.8 116.5L186.3 116.3L187.9 116.1L189.3 116.7L190.8 116.3L192.3 116.8L193.8 116.6L195.2 116.1L196.1 114.5L197.6 113.5L198.1 111.8L199.0 110.3L198.2 108.7L197.3 107.3L197.2 105.6L197.5 103.9L196.2 103.0L195.4 101.6L194.7 100.2L193.7 99.0L192.4 97.9L191.3 96.8L189.8 96.2L188.1 96.1L187.0 96.9L185.8 97.4Z" fill="#ffa500"/>
<path d="M191.8 89.2L190.9 90.6L190.6 92.1L190.4 93.7L189.3 95.0L188.1 96.1L189.8 96.2L191.3 96.8L192.4 97.9L193.7 99.0L194.7 100.2L195.4 101.6L196.2 103.0L197.5 103.9L198.4 102.8L198.9 101.5L200.0 100.6L201.2 99.9L201.7 98.5L202.8 97.5L204.1 97.0L205.5 96.5L203.9 95.3L202.3 94.1L200.8 92.9L199.5 91.4L198.1 90.1L196.5 88.9L195.9 87.0L194.5 85.5L193.6 86.8L193.1 88.3Z" fill="#ffa500"/>
<path d="M198.1 90.1L199.5 91.4L200.8 92.9L202.3 94.1L203.9 95.3L205.5 96.5L207.2 96.0L206.6 94.6L207.0 92.2L209.0 91.2L211.5 91.4L212.6 92.1L212.7 91.7L212.8 90.0L213.4 88.4L212.1 88.8L210.8 88.5L209.5 88.1L208.3 87.6L207.5 86.6L206.3 86.0L205.2 85.4L204.4 84.3L203.1 84.0L201.8 84.3L200.5 83.7L199.6 82.7L198.5 82.0L197.2 81.7L196.3 80.7L195.7 79.6L195.8 81.1L195.6 82.6L195.4 84.2L194.5 85.5L195.9 87.0L196.5 88.9Z" fill="#ffa500"/>
<path d="M201.7 98.5L201.2 99.9L200.0 100.6L198.9 101.5L198.4 102.8L197.5 103.9L197.2 105.6L197.3 107.3L198.2 108.7L199.0 110.3L201.1 110.3L202.9 109.1L204.9 109.8L207.0 109.3L209.1 109.4L211.1 109.3L213.1 109.8L215.0 110.8L214.1 109.0L213.1 107.3L213.1 105.3L213.3 103.4L213.4 101.4L213.2 99.5L213.3 97.6L213.0 96.1L212.5 97.0L210.0 97.6L207.6 96.8L207.2 96.0L205.5 96.5L204.1 97.0L202.8 97.5Z" fill="#ffa500"/>
<path d="M198.5 82.0L199.6 82.7L200.5 83.7L201.8 84.3L203.1 84.0L204.4 84.3L205.2 85.4L206.3 86.0L207.5 86.6L208.3 87.6L209.5 88.1L210.8 88.5L212.1 88.8L213.4 88.4L214.2 87.7L215.2 87.2L215.5 86.1L216.2 85.1L217.6 83.4L219.4 82.2L219.8 80.8L219.8 79.4L219.8 77.9L219.2 76.5L219.3 75.1L219.9 73.8L220.0 72.4L220.5 71.0L220.0 69.7L218.6 70.4L217.1 70.6L215.9 71.6L214.5 72.3L213.1 72.9L211.6 73.6L210.1 73.3L208.5 73.0L207.0 73.0L205.5 73.1L204.0 73.1L202.5 72.9L201.1 72.6L199.6 72.4L198.1 72.7L196.6 72.3L196.7 73.5L196.3 74.7L195.7 75.9L195.0 76.9L195.5 78.2L195.7 79.6L196.3 80.7L197.2 81.7Z" fill="#ffa500"/>
<path d="M201.1 72.6L202.5 72.9L204.0 73.1L205.5 73.1L207.0 73.0L208.5 73.0L210.1 73.3L211.6 73.6L213.1 72.9L214.5 72.3L215.9 71.6L217.1 70.6L218.6 70.4L220.0 69.7L220.9 68.4L221.6 66.9L221.3 65.2L221.9 63.6L222.0 62.2L221.7 60.9L220.7 59.9L220.2 58.6L219.5 57.4L219.1 56.1L218.2 55.1L217.3 54.0L215.5 54.3L213.8 53.5L212.1 54.3L210.3 54.2L208.6 54.0L206.9 53.4L205.3 52.6L203.7 52.0L202.1 53.0L200.7 54.2L198.9 54.6L197.1 54.9L195.3 54.6L194.5 54.3L193.8 57.5L193.4 57.8L193.9 59.0L194.5 60.1L194.1 61.4L194.4 62.7L195.0 63.9L194.9 65.2L195.9 66.1L196.2 67.3L196.5 68.6L196.9 69.8L197.0 71.0L196.6 72.3L198.1 72.7L199.6 72.4Z" fill="#ffa500"/>
<path d="M218.5 49.9L218.5 48.5L217.7 46.4L216.2 44.9L214.3 43.9L212.6 42.5L211.4 40.8L210.2 39.0L209.2 37.2L208.1 35.4L207.0 35.2L205.9 34.9L205.1 34.1L204.4 33.3L203.4 32.6L203.4 32.6L201.2 33.0L197.5 35.0L195.6 38.8L195.6 45.0L195.0 52.5L194.5 54.3L195.3 54.6L197.1 54.9L198.9 54.6L200.7 54.2L202.1 53.0L203.7 52.0L205.3 52.6L206.9 53.4L208.6 54.0L210.3 54.2L212.1 54.3L213.8 53.5L215.5 54.3L217.3 54.0L217.8 52.7L218.3 51.3Z" fill="#eeee00"/>
<path d="M205.9 34.9L207.0 35.2L208.1 35.4L209.2 37.2L210.2 39.0L211.4 40.8L212.6 42.5L214.3 43.9L216.2 44.9L217.7 46.4L218.5 48.5L218.5 49.9L218.3 51.3L217.8 52.7L217.3 54.0L218.2 55.1L219.1 56.1L219.5 57.4L220.2 58.6L220.7 59.9L221.7 60.9L222.0 62.2L221.9 63.6L223.3 63.6L224.7 63.8L225.8 62.8L227.1 62.3L229.2 62.9L231.4 63.1L233.6 63.2L235.7 63.0L236.9 62.8L237.9 63.2L238.9 63.8L240.0 64.0L240.7 64.9L241.6 65.6L242.6 66.1L243.8 66.2L244.6 65.0L245.0 63.7L246.0 62.6L246.2 62.0L244.4 62.0L243.8 57.5L242.5 53.8L238.8 52.0L236.1 51.3L233.8 50.6L231.2 47.5L227.5 46.2L225.6 42.0L225.3 41.6L223.8 39.4L218.8 41.2L217.0 38.8L214.4 33.8L213.0 31.0L206.2 32.0L203.4 32.6L203.4 32.6L204.4 33.3L205.1 34.1Z" fill="#eeee00"/>
<path d="M243.2 78.0L244.4 77.6L243.5 76.3L242.7 75.0L242.1 73.5L242.4 72.0L242.5 70.5L243.0 69.1L243.0 67.5L243.8 66.2L242.6 66.1L241.6 65.6L240.7 64.9L240.0 64.0L238.9 63.8L237.9 63.2L236.9 62.8L235.7 63.0L233.6 63.2L231.4 63.1L229.2 62.9L227.1 62.3L225.8 62.8L224.7 63.8L223.3 63.6L221.9 63.6L221.3 65.2L221.6 66.9L220.9 68.4L220.0 69.7L220.5 71.0L220.0 72.4L219.9 73.8L219.3 75.1L219.2 76.5L219.8 77.9L219.8 79.4L219.8 80.8L219.4 82.2L220.3 83.0L221.5 83.3L222.0 84.4L222.8 85.2L223.7 86.0L224.4 86.9L225.5 87.4L226.7 87.7L227.7 88.2L228.4 89.1L229.5 89.5L230.4 90.3L231.2 91.1L231.9 92.1L233.0 92.5L233.9 93.3L234.5 91.5L235.3 89.7L235.8 87.8L235.4 85.9L236.7 84.3L237.1 82.4L238.4 80.9L240.1 80.0L240.8 78.9L241.9 78.2Z" fill="#ffa500"/>
<path d="M213.3 92.6L213.5 95.0L213.0 96.1L213.3 97.6L213.2 99.5L213.4 101.4L213.3 103.4L213.1 105.3L213.1 107.3L214.1 109.0L215.0 110.8L216.0 111.7L216.8 112.9L217.9 113.8L219.1 114.4L220.4 113.2L221.8 112.0L223.4 111.2L225.3 111.5L226.9 110.7L228.7 110.6L230.1 109.6L231.4 108.3L232.2 107.1L232.1 105.7L231.7 104.4L231.7 103.0L232.4 101.8L233.3 100.8L233.6 99.5L234.0 98.2L234.5 97.4L233.7 95.4L233.9 93.3L233.0 92.5L231.9 92.1L231.2 91.1L230.4 90.3L229.5 89.5L228.4 89.1L227.7 88.2L226.7 87.7L225.5 87.4L224.4 86.9L223.7 86.0L222.8 85.2L222.0 84.4L221.5 83.3L220.3 83.0L219.4 82.2L217.6 83.4L216.2 85.1L215.5 86.1L215.2 87.2L214.2 87.7L213.4 88.4L212.8 90.0L212.7 91.7L212.6 92.1Z" fill="#ff0000"/>
<path d="M244.6 65.0L243.8 66.2L243.0 67.5L243.0 69.1L242.5 70.5L242.4 72.0L242.1 73.5L242.7 75.0L243.5 76.3L244.4 77.6L245.7 78.2L247.2 78.6L248.6 79.0L250.1 79.1L250.9 80.4L252.2 81.2L253.8 81.3L255.1 82.1L256.9 81.0L258.2 79.2L259.3 77.4L259.8 75.3L261.0 73.5L263.0 72.8L265.1 72.4L265.1 72.4L263.0 71.2L258.8 67.5L255.6 63.8L256.2 60.6L255.6 57.0L252.5 58.0L248.8 62.0L246.2 62.0L246.0 62.6L245.0 63.7Z" fill="#eeee00"/>
<path d="M256.3 93.0L256.7 91.0L256.5 89.9L256.2 88.8L255.9 87.6L256.2 86.5L256.5 85.3L256.1 84.2L255.8 83.0L255.1 82.1L253.8 81.3L252.2 81.2L250.9 80.4L250.1 79.1L248.6 79.0L247.2 78.6L245.7 78.2L244.4 77.6L243.2 78.0L241.9 78.2L240.8 78.9L240.1 80.0L238.4 80.9L237.1 82.4L236.7 84.3L235.4 85.9L235.8 87.8L235.3 89.7L234.5 91.5L233.9 93.3L233.7 95.4L234.5 97.4L235.8 97.4L237.1 97.4L238.3 97.8L239.6 97.8L240.8 97.7L242.0 97.2L243.1 96.6L244.4 96.2L245.5 96.9L246.7 97.2L248.0 97.4L249.0 98.2L250.2 98.6L251.4 98.9L252.8 99.0L254.0 98.5L254.9 96.7L255.9 94.9Z" fill="#ffa500"/>
<path d="M252.8 99.0L251.4 98.9L250.2 98.6L249.0 98.2L248.0 97.4L246.7 97.2L245.5 96.9L244.4 96.2L243.1 96.6L242.0 97.2L240.8 97.7L239.6 97.8L238.3 97.8L237.1 97.4L235.8 97.4L234.5 97.4L234.0 98.2L233.6 99.5L233.3 100.8L232.4 101.8L231.7 103.0L231.7 104.4L232.1 105.7L232.2 107.1L231.4 108.3L232.6 108.9L233.3 110.0L234.6 110.1L235.6 110.9L235.8 112.2L236.5 113.3L237.5 114.2L238.6 114.9L239.2 116.0L239.6 117.2L240.6 118.1L241.8 118.6L243.0 119.0L243.9 119.9L244.7 120.8L245.7 121.6L246.8 120.0L248.5 119.1L250.4 119.3L252.1 118.5L253.1 117.9L253.8 116.9L254.3 115.9L255.1 115.1L255.8 114.0L256.1 112.9L256.2 111.7L255.6 110.5L255.4 109.4L255.7 108.2L256.4 107.2L256.9 106.2L257.0 105.0L256.5 103.9L256.2 102.7L255.4 101.8L254.9 100.1L254.0 98.5Z" fill="#ff0000"/>
<path d="M271.0 87.2L270.3 86.0L271.0 84.7L271.6 83.4L271.1 82.0L271.4 80.6L270.6 79.5L270.1 78.3L269.8 77.0L269.2 75.8L269.0 74.9L268.8 75.0L266.2 73.0L265.1 72.4L265.1 72.4L263.0 72.8L261.0 73.5L259.8 75.3L259.3 77.4L258.2 79.2L256.9 81.0L255.1 82.1L255.8 83.0L256.1 84.2L256.5 85.3L256.2 86.5L255.9 87.6L256.2 88.8L256.5 89.9L256.7 91.0L256.3 93.0L255.9 94.9L254.9 96.7L254.0 98.5L254.9 100.1L255.4 101.8L256.7 101.9L257.7 102.6L258.8 103.3L260.1 103.4L261.2 103.9L262.5 103.9L263.8 103.7L265.0 103.3L266.3 103.4L267.3 104.2L268.6 103.9L269.8 103.9L271.0 104.2L272.0 105.0L273.2 105.2L274.3 105.9L274.9 105.0L275.0 103.1L274.2 101.3L274.8 99.5L275.6 97.8L274.9 96.1L273.8 94.6L273.8 92.7L272.8 91.1L272.5 91.0L272.0 89.7L271.8 88.3Z" fill="#eeee00"/>
<path d="M278.8 84.7L278.8 83.5L279.4 81.4L280.6 79.7L280.6 77.6L280.3 75.6L280.4 75.0L280.0 75.0L276.2 75.6L272.5 73.8L269.0 74.9L269.2 75.8L269.8 77.0L270.1 78.3L270.6 79.5L271.4 80.6L271.1 82.0L271.6 83.4L271.0 84.7L270.3 86.0L271.0 87.2L271.8 88.3L272.0 89.7L272.5 91.0L272.8 91.1L273.8 92.7L273.8 94.6L274.9 96.1L275.6 97.8L274.8 99.5L274.2 101.3L275.0 103.1L274.9 105.0L276.9 104.1L279.1 104.3L279.7 103.4L280.7 102.8L281.7 102.3L282.8 102.4L284.8 103.3L287.0 103.4L288.2 105.2L290.0 106.4L292.1 107.1L293.6 108.7L295.6 109.2L297.7 109.2L298.3 108.2L299.2 107.4L300.2 106.7L301.4 106.7L301.1 105.3L300.5 104.0L301.0 102.6L300.6 101.2L299.1 99.7L297.5 98.2L295.5 97.5L293.8 96.2L292.2 94.8L291.0 93.0L289.9 91.1L288.0 90.2L287.7 90.3L286.6 90.3L285.5 90.5L284.4 90.1L283.4 89.6L282.2 89.8L281.2 89.3L280.2 88.7L279.5 87.7L279.1 86.7L278.6 85.7Z" fill="#7fff00"/>
<path d="M283.4 89.6L284.4 90.1L285.5 90.5L286.6 90.3L287.7 90.3L288.0 90.2L289.9 91.1L291.0 93.0L292.2 94.8L293.8 96.2L295.5 97.5L297.5 98.2L299.1 99.7L300.6 101.2L301.0 100.1L301.1 99.0L301.4 98.0L301.6 96.9L302.0 95.8L302.7 94.9L302.7 93.8L303.1 92.7L304.0 92.0L304.3 90.9L304.5 89.7L305.2 88.8L305.4 87.7L305.7 86.7L306.0 85.5L306.9 84.7L307.0 84.7L304.4 83.0L302.0 85.0L298.8 84.4L295.0 83.0L292.5 82.3L291.2 82.0L287.5 77.5L283.8 75.0L280.4 75.0L280.3 75.6L280.6 77.6L280.6 79.7L279.4 81.4L278.8 83.5L278.8 84.7L278.6 85.7L279.1 86.7L279.5 87.7L280.2 88.7L281.2 89.3L282.2 89.8Z" fill="#7fff00"/>
<path d="M313.8 100.0L315.6 96.2L318.0 91.2L319.4 88.0L315.0 86.2L310.0 86.2L307.5 85.0L307.0 84.7L306.9 84.7L306.0 85.5L305.7 86.7L305.4 87.7L305.2 88.8L304.5 89.7L304.3 90.9L304.0 92.0L303.1 92.7L302.7 93.8L302.7 94.9L302.0 95.8L301.6 96.9L301.4 98.0L301.1 99.0L301.0 100.1L300.6 101.2L301.0 102.6L300.5 104.0L301.1 105.3L301.4 106.7L310.9 108.8L312.0 105.0Z" fill="#7fff00"/>
<path d="M296.9 126.8L296.5 124.0L299.0 123.0L300.8 126.0L301.6 129.5L301.5 132.1L301.3 132.0L299.0 130.5L298.7 130.0L299.1 131.0L300.2 131.7L300.7 132.9L300.9 133.1L301.0 132.0L305.0 132.5L308.0 130.0L309.4 125.0L310.0 117.5L310.6 110.0L310.9 108.8L301.4 106.7L300.2 106.7L299.2 107.4L298.3 108.2L297.7 109.2L297.7 110.5L297.2 111.8L296.4 112.8L295.5 113.8L295.0 115.0L294.8 116.3L293.9 117.3L293.1 118.3L293.5 120.2L294.5 121.9L294.9 123.8L294.5 125.8L295.7 126.0L296.8 126.7Z" fill="#7fff00"/>
<path d="M274.3 108.3L274.2 109.6L274.4 110.8L274.4 112.0L274.8 113.2L274.8 114.4L274.7 115.7L275.5 116.7L276.5 117.5L277.7 117.9L278.9 118.3L280.1 118.5L281.3 118.3L282.5 117.9L283.7 118.2L284.9 117.9L286.2 118.2L287.2 118.8L288.4 119.1L289.6 119.0L290.8 118.9L292.0 118.9L293.1 118.3L293.9 117.3L294.8 116.3L295.0 115.0L295.5 113.8L296.4 112.8L297.2 111.8L297.7 110.5L297.7 109.2L295.6 109.2L293.6 108.7L292.1 107.1L290.0 106.4L288.2 105.2L287.0 103.4L284.8 103.3L282.8 102.4L281.7 102.3L280.7 102.8L279.7 103.4L279.1 104.3L276.9 104.1L274.9 105.0L274.3 105.9L274.6 107.1Z" fill="#7fff00"/>
<path d="M257.0 105.0L256.9 106.2L256.4 107.2L255.7 108.2L255.4 109.4L255.6 110.5L256.2 111.7L256.1 112.9L255.8 114.0L255.1 115.1L254.3 115.9L253.8 116.9L253.1 117.9L252.1 118.5L253.2 118.9L254.3 119.1L255.4 119.1L256.5 119.3L257.7 119.0L258.8 119.3L259.8 119.7L261.0 119.9L262.2 119.9L263.3 120.3L264.0 121.3L265.0 121.9L265.4 123.0L266.4 123.8L267.4 124.4L268.5 124.8L269.2 123.5L270.4 122.7L271.3 121.7L271.9 120.4L272.7 119.2L273.9 118.4L274.1 117.0L274.7 115.7L274.8 114.4L274.8 113.2L274.4 112.0L274.4 110.8L274.2 109.6L274.3 108.3L274.6 107.1L274.3 105.9L273.2 105.2L272.0 105.0L271.0 104.2L269.8 103.9L268.6 103.9L267.3 104.2L266.3 103.4L265.0 103.3L263.8 103.7L262.5 103.9L261.2 103.9L260.1 103.4L258.8 103.3L257.7 102.6L256.7 101.9L255.4 101.8L256.2 102.7L256.5 103.9Z" fill="#ffa500"/>
<path d="M275.9 136.5L277.3 135.8L278.8 135.2L279.5 133.7L280.9 132.8L282.4 132.0L283.2 130.6L284.4 129.5L285.8 128.7L287.4 128.9L289.0 128.6L290.6 128.7L292.1 127.8L293.3 126.9L294.5 125.8L294.9 123.8L294.5 121.9L293.5 120.2L293.1 118.3L292.0 118.9L290.8 118.9L289.6 119.0L288.4 119.1L287.2 118.8L286.2 118.2L284.9 117.9L283.7 118.2L282.5 117.9L281.3 118.3L280.1 118.5L278.9 118.3L277.7 117.9L276.5 117.5L275.5 116.7L274.7 115.7L274.1 117.0L273.9 118.4L272.7 119.2L271.9 120.4L271.3 121.7L270.4 122.7L269.2 123.5L268.5 124.8L268.7 126.4L269.1 128.0L269.2 129.7L268.4 131.2L269.4 132.5L269.8 134.1L270.9 135.3L272.0 136.5L272.6 136.7L274.3 137.0Z" fill="#7fff00"/>
<path d="M243.4 128.7L243.8 127.2L243.5 125.7L244.0 124.2L245.1 123.0L245.7 121.6L244.7 120.8L243.9 119.9L243.0 119.0L241.8 118.6L240.6 118.1L239.6 117.2L239.2 116.0L238.6 114.9L237.5 114.2L236.5 113.3L235.8 112.2L235.6 110.9L234.6 110.1L233.3 110.0L232.6 108.9L231.4 108.3L230.1 109.6L228.7 110.6L226.9 110.7L225.3 111.5L223.4 111.2L221.8 112.0L220.4 113.2L219.1 114.4L219.5 116.2L219.0 118.0L218.5 119.7L217.8 121.3L217.2 123.0L216.6 124.7L216.7 126.6L217.4 128.3L218.4 129.2L219.3 130.2L220.6 130.6L221.5 131.6L222.7 131.8L223.9 132.1L225.1 132.3L226.3 132.5L227.5 132.8L228.7 132.6L229.9 132.9L231.1 133.1L232.4 133.2L233.6 133.4L234.8 133.9L236.1 133.8L237.4 133.8L238.6 133.8L239.6 132.8L240.9 132.5L241.9 131.4L242.6 130.0Z" fill="#ff0000"/>
<path d="M251.5 142.6L253.5 143.1L255.2 144.4L257.2 145.2L259.2 146.0L261.3 145.7L263.1 144.8L265.1 145.1L266.7 144.1L267.9 142.6L269.1 141.0L270.6 139.9L271.7 138.4L272.0 136.5L270.9 135.3L269.8 134.1L269.4 132.5L268.4 131.2L269.2 129.7L269.1 128.0L268.7 126.4L268.5 124.8L267.4 124.4L266.4 123.8L265.4 123.0L265.0 121.9L264.0 121.3L263.3 120.3L262.2 119.9L261.0 119.9L259.8 119.7L258.8 119.3L257.7 119.0L256.5 119.3L255.4 119.1L254.3 119.1L253.2 118.9L252.1 118.5L250.4 119.3L248.5 119.1L246.8 120.0L245.7 121.6L245.1 123.0L244.0 124.2L243.5 125.7L243.8 127.2L243.4 128.7L242.6 130.0L241.9 131.4L240.9 132.5L242.1 133.4L243.2 134.5L243.7 135.9L244.5 137.2L244.0 138.7L244.5 140.2L244.5 141.8L245.4 143.1L247.5 143.5L249.5 142.8Z" fill="#ff0000"/>
<path d="M275.3 141.1L275.9 142.8L277.3 143.8L278.6 144.9L279.9 146.1L281.3 147.0L282.4 148.4L283.9 149.2L285.2 150.4L287.0 150.6L288.5 151.5L288.8 151.8L290.0 150.0L293.8 145.6L297.0 142.5L298.8 138.8L300.6 136.0L300.9 133.1L300.7 132.9L300.2 131.7L299.1 131.0L298.7 130.0L297.0 127.5L296.9 126.8L296.8 126.7L295.7 126.0L294.5 125.8L293.3 126.9L292.1 127.8L290.6 128.7L289.0 128.6L287.4 128.9L285.8 128.7L284.4 129.5L283.2 130.6L282.4 132.0L280.9 132.8L279.5 133.7L278.8 135.2L277.3 135.8L275.9 136.5L274.3 137.0L272.6 136.7L274.1 137.7L274.9 139.4Z" fill="#7fff00"/>
<path d="M195.7 119.8L196.1 121.0L197.1 121.9L198.3 122.5L198.9 123.6L199.4 124.8L200.6 125.2L201.4 126.3L202.2 127.2L203.0 128.0L204.0 128.8L205.0 129.5L205.7 130.5L206.6 131.3L208.1 131.3L209.5 131.2L211.0 131.2L212.4 131.1L213.5 130.2L214.8 129.5L216.3 129.3L217.4 128.3L216.7 126.6L216.6 124.7L217.2 123.0L217.8 121.3L218.5 119.7L219.0 118.0L219.5 116.2L219.1 114.4L217.9 113.8L216.8 112.9L216.0 111.7L215.0 110.8L213.1 109.8L211.1 109.3L209.1 109.4L207.0 109.3L204.9 109.8L202.9 109.1L201.1 110.3L199.0 110.3L198.1 111.8L197.6 113.5L196.1 114.5L195.2 116.1L195.4 117.3L195.7 118.5Z" fill="#ffa500"/>
<path d="M187.9 116.1L186.3 116.3L184.8 116.5L183.2 116.4L181.9 115.6L180.5 114.8L180.0 116.4L178.7 117.4L177.4 118.2L176.0 118.9L175.6 120.6L174.4 121.7L174.5 123.3L174.6 124.9L174.9 126.1L175.7 127.1L176.4 128.1L177.3 128.9L178.2 129.7L179.4 130.2L180.2 131.2L180.4 132.5L181.6 132.9L182.4 133.9L183.2 134.8L183.9 135.8L184.7 136.8L185.7 137.5L186.4 138.6L186.4 139.9L186.5 139.9L188.1 139.9L189.7 140.2L191.2 139.6L192.9 139.7L194.5 139.8L196.0 140.1L197.6 139.8L199.2 140.1L199.9 138.8L201.1 137.9L201.6 136.5L202.8 135.6L203.9 134.6L204.7 133.4L205.4 132.1L206.6 131.3L205.7 130.5L205.0 129.5L204.0 128.8L203.0 128.0L202.2 127.2L201.4 126.3L200.6 125.2L199.4 124.8L198.9 123.6L198.3 122.5L197.1 121.9L196.1 121.0L195.7 119.8L195.7 118.5L195.4 117.3L195.2 116.1L193.8 116.6L192.3 116.8L190.8 116.3L189.3 116.7Z" fill="#ffa500"/>
<path d="M184.7 136.8L183.9 135.8L183.2 134.8L182.4 133.9L181.6 132.9L180.4 132.5L180.2 131.2L179.4 130.2L178.2 129.7L177.3 128.9L176.4 128.1L175.7 127.1L174.9 126.1L174.6 124.9L173.2 124.4L171.7 124.6L170.3 124.8L168.8 125.0L167.4 125.2L166.0 125.7L164.5 125.8L163.2 126.5L163.6 128.7L163.5 130.8L163.0 132.9L162.7 135.1L162.9 137.2L162.3 139.3L162.4 140.5L162.0 141.6L161.2 142.4L160.7 143.3L162.3 144.2L163.5 145.6L164.6 145.2L165.8 145.4L166.7 144.6L167.9 144.4L169.0 144.3L170.2 144.3L171.3 144.1L172.4 144.2L173.5 144.6L174.6 144.9L175.5 145.7L176.6 146.2L177.7 146.2L178.9 146.2L180.0 146.2L181.2 146.5L181.9 145.6L182.0 144.5L183.0 143.9L183.9 143.3L185.3 141.7L186.4 139.9L186.4 138.6L185.7 137.5Z" fill="#ffa500"/>
<path d="M244.0 138.7L244.5 137.2L243.7 135.9L243.2 134.5L242.1 133.4L240.9 132.5L239.6 132.8L238.6 133.8L237.4 133.8L236.1 133.8L234.8 133.9L233.6 133.4L232.4 133.2L231.1 133.1L229.9 132.9L228.7 132.6L227.5 132.8L226.3 132.5L225.1 132.3L223.9 132.1L222.7 131.8L221.5 131.6L222.0 132.8L222.8 133.9L223.1 135.2L223.4 136.4L223.6 137.8L223.1 139.0L223.5 140.3L223.1 141.6L222.8 143.0L222.9 144.3L223.5 145.6L223.7 146.9L223.0 148.0L222.6 149.3L221.9 150.4L221.5 151.7L223.5 152.5L225.7 152.3L226.7 152.5L227.7 153.0L228.8 152.8L229.9 152.4L230.9 152.1L232.1 152.0L233.2 152.0L234.2 152.7L235.2 153.2L235.8 154.2L236.9 154.4L237.8 155.0L238.6 153.2L240.0 152.0L240.4 150.1L240.4 148.3L241.4 146.8L242.9 145.7L244.3 144.6L245.4 143.1L244.5 141.8L244.5 140.2Z" fill="#ff0000"/>
<path d="M241.4 146.8L240.4 148.3L240.4 150.1L240.0 152.0L238.6 153.2L237.8 155.0L238.5 156.7L238.4 158.6L238.5 160.5L238.2 162.3L239.7 163.5L240.4 165.3L241.0 167.1L241.1 169.0L242.8 169.9L244.8 170.5L246.7 170.1L248.7 170.1L250.7 169.9L252.3 168.7L254.3 168.7L256.2 168.3L257.4 167.4L258.8 166.9L259.8 165.8L260.8 164.6L261.7 163.4L262.9 162.5L263.0 160.9L263.8 159.6L263.9 157.8L264.2 155.9L264.0 154.0L264.7 152.3L264.5 150.3L263.9 148.5L262.8 146.9L261.3 145.7L259.2 146.0L257.2 145.2L255.2 144.4L253.5 143.1L251.5 142.6L249.5 142.8L247.5 143.5L245.4 143.1L244.3 144.6L242.9 145.7Z" fill="#7fff00"/>
<path d="M264.5 150.3L264.7 152.3L264.0 154.0L264.2 155.9L263.9 157.8L263.8 159.6L264.5 160.6L265.1 161.6L266.3 161.9L267.3 162.7L268.4 163.0L269.6 163.1L270.6 163.5L271.6 164.2L272.9 164.2L273.9 163.5L275.1 163.4L276.2 163.8L277.4 163.8L278.4 164.4L279.6 164.5L280.6 165.2L281.8 163.4L283.1 162.8L283.0 162.5L284.4 157.5L287.5 153.8L288.8 151.8L288.5 151.5L287.0 150.6L285.2 150.4L283.9 149.2L282.4 148.4L281.3 147.0L279.9 146.1L278.6 144.9L277.3 143.8L275.9 142.8L275.3 141.1L274.9 139.4L274.1 137.7L272.6 136.7L272.0 136.5L271.7 138.4L270.6 139.9L269.1 141.0L267.9 142.6L266.7 144.1L265.1 145.1L263.1 144.8L261.3 145.7L262.8 146.9L263.9 148.5Z" fill="#eeee00"/>
<path d="M203.9 134.6L202.8 135.6L201.6 136.5L201.1 137.9L199.9 138.8L199.2 140.1L199.8 141.4L200.4 142.8L200.5 144.2L200.2 145.7L201.4 146.4L202.4 147.6L202.6 149.0L203.4 150.3L204.4 151.3L205.5 152.3L206.7 153.0L207.6 154.2L208.4 155.4L208.4 156.9L208.7 158.4L209.2 159.7L210.5 158.2L212.0 157.1L212.7 155.3L214.4 154.2L216.2 153.7L218.0 153.0L219.7 152.3L221.5 151.7L221.9 150.4L222.6 149.3L223.0 148.0L223.7 146.9L223.5 145.6L222.9 144.3L222.8 143.0L223.1 141.6L223.5 140.3L223.1 139.0L223.6 137.8L223.4 136.4L223.1 135.2L222.8 133.9L222.0 132.8L221.5 131.6L220.6 130.6L219.3 130.2L218.4 129.2L217.4 128.3L216.3 129.3L214.8 129.5L213.5 130.2L212.4 131.1L211.0 131.2L209.5 131.2L208.1 131.3L206.6 131.3L205.4 132.1L204.7 133.4Z" fill="#ffa500"/>
<path d="M183.9 143.3L183.0 143.9L182.0 144.5L181.9 145.6L181.2 146.5L181.0 147.6L181.1 148.8L182.0 149.6L182.3 150.7L182.6 152.9L182.6 155.1L182.4 156.2L182.9 157.3L183.5 158.3L184.0 159.3L184.1 160.4L184.2 161.6L183.9 162.7L183.5 163.7L184.7 164.1L185.9 164.7L187.2 164.9L188.5 164.8L189.5 165.6L190.8 165.9L192.1 166.3L193.4 166.3L194.9 164.7L196.6 163.3L197.5 162.7L198.5 162.3L199.6 162.0L200.7 162.0L201.8 162.3L203.0 162.1L204.1 162.2L205.2 162.2L206.3 162.0L207.1 161.2L208.0 160.5L209.1 160.2L209.2 159.7L208.7 158.4L208.4 156.9L208.4 155.4L207.6 154.2L206.7 153.0L205.5 152.3L204.4 151.3L203.4 150.3L202.6 149.0L202.4 147.6L201.4 146.4L200.2 145.7L200.5 144.2L200.4 142.8L199.8 141.4L199.2 140.1L197.6 139.8L196.0 140.1L194.5 139.8L192.9 139.7L191.2 139.6L189.7 140.2L188.1 139.9L186.5 139.9L186.4 139.9L185.3 141.7Z" fill="#ffa500"/>
<path d="M239.7 163.5L238.2 162.3L238.5 160.5L238.4 158.6L238.5 156.7L237.8 155.0L236.9 154.4L235.8 154.2L235.2 153.2L234.2 152.7L233.2 152.0L232.1 152.0L230.9 152.1L229.9 152.4L228.8 152.8L227.7 153.0L226.7 152.5L225.7 152.3L223.5 152.5L221.5 151.7L219.7 152.3L218.0 153.0L216.2 153.7L214.4 154.2L212.7 155.3L212.0 157.1L210.5 158.2L209.2 159.7L209.1 160.2L209.8 161.8L209.8 163.6L210.4 165.2L210.9 166.9L212.0 168.4L213.6 169.2L214.7 170.6L215.7 172.1L216.9 172.1L218.1 172.7L219.3 172.7L220.5 173.1L221.7 172.7L222.9 172.6L224.1 172.9L225.4 172.6L226.7 172.8L227.9 173.3L229.2 173.1L230.3 172.4L231.6 172.9L232.4 173.9L233.7 173.6L235.0 174.0L236.7 172.8L237.5 170.9L239.0 169.5L241.0 169.1L241.1 169.0L241.0 167.1L240.4 165.3Z" fill="#ffa500"/>
<path d="M210.2 183.0L210.8 181.0L211.7 179.1L213.2 177.7L214.0 175.7L214.4 173.7L215.7 172.1L214.7 170.6L213.6 169.2L212.0 168.4L210.9 166.9L210.4 165.2L209.8 163.6L209.8 161.8L209.1 160.2L208.0 160.5L207.1 161.2L206.3 162.0L205.2 162.2L204.1 162.2L203.0 162.1L201.8 162.3L200.7 162.0L199.6 162.0L198.5 162.3L197.5 162.7L196.6 163.3L194.9 164.7L193.4 166.3L193.1 167.5L193.1 168.8L192.7 170.0L191.8 170.9L192.0 172.1L192.0 173.3L192.5 174.5L192.7 175.7L193.7 176.5L193.9 177.8L194.3 179.0L194.0 180.2L194.1 181.4L194.4 182.6L195.2 183.4L195.7 184.6L197.3 185.7L199.3 185.9L201.0 186.7L203.0 186.7L204.9 186.9L206.7 187.2L208.6 186.9L210.5 187.3L210.8 187.2L210.5 185.1Z" fill="#eeee00"/>
<path d="M175.0 174.0L175.0 175.3L175.9 176.2L176.1 177.5L176.8 178.5L178.0 179.0L178.1 180.3L178.9 181.3L178.9 182.5L178.5 183.7L179.2 184.7L179.3 185.9L179.5 187.1L179.8 188.2L181.5 188.6L183.3 189.1L184.4 190.6L186.0 191.5L187.5 191.1L189.0 190.7L190.2 189.7L191.3 188.6L192.5 187.7L193.6 186.7L194.5 185.5L195.7 184.6L195.2 183.4L194.4 182.6L194.1 181.4L194.0 180.2L194.3 179.0L193.9 177.8L193.7 176.5L192.7 175.7L192.5 174.5L192.0 173.3L192.0 172.1L191.8 170.9L192.7 170.0L193.1 168.8L193.1 167.5L193.4 166.3L192.1 166.3L190.8 165.9L189.5 165.6L188.5 164.8L187.2 164.9L185.9 164.7L184.7 164.1L183.5 163.7L182.0 163.9L180.6 164.4L179.6 165.6L178.2 166.2L177.4 167.5L176.2 168.4L175.4 169.6L174.2 170.5L174.9 171.6L174.8 172.8Z" fill="#eeee00"/>
<path d="M214.1 188.0L215.1 188.6L216.3 188.4L217.5 188.7L218.4 189.5L219.6 189.7L220.6 190.3L221.6 190.9L222.4 191.7L223.5 192.2L224.7 192.5L225.8 193.0L226.8 193.7L227.3 194.9L228.4 193.3L229.6 191.6L231.6 191.1L233.4 190.1L234.3 188.2L234.5 186.0L233.5 184.1L233.1 182.0L233.3 179.9L233.3 177.8L234.5 176.0L235.0 174.0L233.7 173.6L232.4 173.9L231.6 172.9L230.3 172.4L229.2 173.1L227.9 173.3L226.7 172.8L225.4 172.6L224.1 172.9L222.9 172.6L221.7 172.7L220.5 173.1L219.3 172.7L218.1 172.7L216.9 172.1L215.7 172.1L214.4 173.7L214.0 175.7L213.2 177.7L211.7 179.1L210.8 181.0L210.2 183.0L210.5 185.1L210.8 187.2L211.9 187.2L213.1 187.4Z" fill="#ffa500"/>
<path d="M254.6 194.3L254.4 193.2L254.0 191.4L252.7 190.1L251.9 188.5L250.3 187.6L249.5 186.0L248.7 184.5L248.2 182.8L247.1 181.5L247.5 179.7L246.9 177.9L245.9 176.3L245.5 174.6L244.9 172.8L243.5 171.6L242.2 170.4L241.0 169.1L239.0 169.5L237.5 170.9L236.7 172.8L235.0 174.0L234.5 176.0L233.3 177.8L233.3 179.9L233.1 182.0L233.5 184.1L234.5 186.0L234.3 188.2L233.4 190.1L234.6 190.8L236.1 190.9L237.5 191.2L238.8 190.6L240.0 191.3L241.4 191.5L242.7 192.1L244.1 191.9L245.3 192.7L246.0 194.0L247.0 195.0L248.4 195.3L249.8 195.5L250.9 196.4L252.1 197.1L253.4 197.6L253.7 197.6L253.8 196.5L254.2 195.4Z" fill="#ffffff"/>
<path d="M258.8 176.6L258.1 175.0L257.4 173.4L257.2 171.6L256.9 169.9L256.2 168.3L254.3 168.7L252.3 168.7L250.7 169.9L248.7 170.1L246.7 170.1L244.8 170.5L242.8 169.9L241.1 169.0L241.0 169.1L242.2 170.4L243.5 171.6L244.9 172.8L245.5 174.6L245.9 176.3L246.9 177.9L247.5 179.7L247.1 181.5L248.2 182.8L248.7 184.5L249.5 186.0L250.3 187.6L251.9 188.5L252.7 190.1L254.0 191.4L254.4 193.2L255.8 191.7L256.9 189.9L257.0 187.8L258.2 186.1L259.9 185.0L261.2 183.4L261.8 181.4L263.1 179.8L261.5 178.8L259.9 178.0Z" fill="#ffa500"/>
<path d="M278.3 174.8L277.8 172.7L278.5 170.8L280.0 169.3L280.5 167.3L280.6 165.2L279.6 164.5L278.4 164.4L277.4 163.8L276.2 163.8L275.1 163.4L273.9 163.5L272.9 164.2L271.6 164.2L270.6 163.5L269.6 163.1L268.4 163.0L267.3 162.7L266.3 161.9L265.1 161.6L264.5 160.6L263.8 159.6L263.0 160.9L262.9 162.5L261.7 163.4L260.8 164.6L259.8 165.8L258.8 166.9L257.4 167.4L256.2 168.3L256.9 169.9L257.2 171.6L257.4 173.4L258.1 175.0L258.8 176.6L259.9 178.0L261.5 178.8L263.1 179.8L265.1 179.3L267.2 178.9L269.1 179.9L271.2 180.2L273.2 179.6L275.3 179.9L277.4 179.8L279.3 180.7L278.9 178.6L279.5 176.5Z" fill="#ffa500"/>
<path d="M282.7 179.8L284.1 178.7L285.5 177.7L287.2 178.0L288.9 177.9L290.6 177.7L292.3 178.3L293.9 177.8L295.6 178.1L297.3 178.5L298.9 178.2L300.6 178.8L300.7 178.9L301.9 177.0L301.2 173.8L298.8 168.8L297.5 165.0L295.0 162.5L290.0 163.0L286.0 165.0L283.8 165.6L283.1 162.8L281.8 163.4L280.6 165.2L280.5 167.3L280.0 169.3L278.5 170.8L277.8 172.7L278.3 174.8L279.5 176.5L278.9 178.6L279.3 180.7L279.5 181.0L280.9 179.9Z" fill="#ffffff"/>
<path d="M279.0 185.8L279.5 187.4L280.4 188.2L280.7 189.3L281.5 190.1L282.1 191.1L282.5 192.1L283.0 193.1L283.6 194.1L284.3 195.0L285.1 195.8L285.8 196.8L286.3 197.9L286.8 198.9L288.0 199.2L288.8 200.0L290.1 200.2L291.0 201.0L293.0 201.5L295.1 201.9L297.0 202.3L295.6 200.0L300.0 198.0L303.8 196.2L305.6 193.0L305.0 190.0L302.5 186.2L300.0 182.5L298.0 182.0L300.0 180.0L300.7 178.9L300.6 178.8L298.9 178.2L297.3 178.5L295.6 178.1L293.9 177.8L292.3 178.3L290.6 177.7L288.9 177.9L287.2 178.0L285.5 177.7L284.1 178.7L282.7 179.8L280.9 179.9L279.5 181.0L279.4 182.6L279.1 184.2Z" fill="#ffffff"/>
<path d="M259.4 198.4L261.0 199.1L262.8 198.7L264.6 199.3L266.3 199.8L268.1 199.9L269.9 201.1L270.8 203.0L272.4 204.4L273.5 206.2L274.0 208.3L274.4 210.4L276.1 211.8L277.3 213.6L278.4 213.2L279.4 212.4L280.6 212.3L281.8 212.0L282.4 210.9L283.1 209.9L284.1 209.2L285.0 208.3L286.0 207.4L286.7 206.3L287.0 205.0L286.8 203.7L287.9 203.0L288.9 202.3L290.1 201.9L291.0 201.0L290.1 200.2L288.8 200.0L288.0 199.2L286.8 198.9L286.3 197.9L285.8 196.8L285.1 195.8L284.3 195.0L283.6 194.1L283.0 193.1L282.5 192.1L282.1 191.1L281.5 190.1L280.7 189.3L280.4 188.2L279.5 187.4L279.0 185.8L279.1 184.2L279.4 182.6L279.5 181.0L279.3 180.7L277.4 179.8L275.3 179.9L273.2 179.6L271.2 180.2L269.1 179.9L267.2 178.9L265.1 179.3L263.1 179.8L261.8 181.4L261.2 183.4L259.9 185.0L258.2 186.1L257.0 187.8L256.9 189.9L255.8 191.7L254.4 193.2L254.6 194.3L254.2 195.4L253.8 196.5L253.7 197.6L254.1 197.9L255.8 198.6L257.6 198.2Z" fill="#ffa500"/>
<path d="M204.9 186.9L203.0 186.7L201.0 186.7L199.3 185.9L197.3 185.7L195.7 184.6L194.5 185.5L193.6 186.7L192.5 187.7L191.3 188.6L190.2 189.7L189.0 190.7L187.5 191.1L186.0 191.5L186.7 192.8L187.0 194.2L186.7 195.6L186.4 197.1L186.6 198.5L186.7 199.9L187.3 201.3L188.3 202.4L190.3 202.4L192.2 201.8L194.1 202.5L196.1 202.9L198.1 203.2L199.7 204.5L201.1 205.8L202.8 206.8L203.9 206.2L205.1 205.7L205.6 204.5L206.6 203.7L206.7 202.4L207.3 201.3L208.0 200.2L208.0 198.9L209.0 198.1L209.7 197.1L210.1 195.8L209.8 194.4L210.7 193.5L211.4 192.3L211.1 191.0L210.8 189.8L210.5 188.6L210.5 187.3L208.6 186.9L206.7 187.2Z" fill="#ffffff"/>
<path d="M211.1 191.0L211.4 192.3L210.7 193.5L209.8 194.4L210.1 195.8L209.7 197.1L209.0 198.1L208.0 198.9L208.0 200.2L207.3 201.3L206.7 202.4L206.6 203.7L205.6 204.5L205.1 205.7L207.1 206.4L209.1 206.7L211.0 207.7L213.0 208.3L214.8 209.2L216.8 209.9L218.6 211.0L220.8 211.2L221.9 210.9L222.7 210.2L223.7 209.5L224.7 209.2L225.3 208.2L225.6 207.1L225.9 206.0L226.8 205.2L226.8 203.9L227.1 202.5L226.7 201.2L226.1 200.0L226.8 198.9L227.4 197.6L227.0 196.3L227.3 194.9L226.8 193.7L225.8 193.0L224.7 192.5L223.5 192.2L222.4 191.7L221.6 190.9L220.6 190.3L219.6 189.7L218.4 189.5L217.5 188.7L216.3 188.4L215.1 188.6L214.1 188.0L213.1 187.4L211.9 187.2L210.8 187.2L210.5 187.3L210.5 188.6L210.8 189.8Z" fill="#ffffff"/>
<path d="M249.8 195.5L248.4 195.3L247.0 195.0L246.0 194.0L245.3 192.7L244.1 191.9L242.7 192.1L241.4 191.5L240.0 191.3L238.8 190.6L237.5 191.2L236.1 190.9L234.6 190.8L233.4 190.1L231.6 191.1L229.6 191.6L228.4 193.3L227.3 194.9L227.0 196.3L227.4 197.6L226.8 198.9L226.1 200.0L226.7 201.2L227.1 202.5L226.8 203.9L226.8 205.2L228.5 206.0L230.3 206.5L232.2 206.2L234.1 206.5L236.0 207.1L237.4 208.3L239.0 209.4L240.4 210.6L240.8 209.5L241.7 208.6L241.7 207.4L242.2 206.3L243.4 205.8L244.3 204.9L244.8 203.8L245.7 203.0L246.4 202.0L247.4 201.2L248.2 200.3L248.8 199.2L249.9 198.6L250.8 197.8L252.1 197.7L253.4 197.6L252.1 197.1L250.9 196.4Z" fill="#7fff00"/>
<path d="M250.8 197.8L249.9 198.6L248.8 199.2L248.2 200.3L247.4 201.2L246.4 202.0L245.7 203.0L244.8 203.8L244.3 204.9L243.4 205.8L242.2 206.3L241.7 207.4L241.7 208.6L240.8 209.5L240.4 210.6L240.6 212.3L240.2 213.9L241.2 215.3L241.4 217.0L241.9 218.6L242.9 220.1L242.9 221.8L242.5 223.4L244.0 223.8L245.1 224.9L246.6 225.6L248.1 225.6L249.7 225.5L251.1 225.2L252.6 224.9L254.1 224.5L255.2 222.7L256.8 221.1L257.3 219.1L258.2 217.1L258.2 215.8L258.9 214.6L259.2 213.3L259.7 212.1L258.9 211.0L258.8 209.6L258.3 208.4L258.3 207.0L257.5 206.0L257.0 204.8L256.7 203.6L256.2 202.4L256.1 201.1L255.2 200.1L254.5 199.1L254.1 197.9L253.7 197.6L253.4 197.6L252.1 197.7Z" fill="#ffffff"/>
<path d="M256.2 202.4L256.7 203.6L257.0 204.8L257.5 206.0L258.3 207.0L258.3 208.4L258.8 209.6L258.9 211.0L259.7 212.1L259.2 213.3L258.9 214.6L258.2 215.8L258.2 217.1L257.3 219.1L256.8 221.1L255.2 222.7L254.1 224.5L255.2 225.6L255.8 227.1L256.7 228.3L257.7 229.5L258.9 229.8L260.0 230.2L261.1 229.5L262.3 229.4L263.1 230.4L264.3 230.8L265.5 231.2L266.7 230.8L267.7 230.1L268.9 229.8L269.8 229.0L271.0 228.8L272.1 229.4L273.3 229.7L274.5 229.9L275.7 229.5L276.0 228.1L276.1 226.7L275.8 225.3L276.2 223.9L277.3 222.9L277.8 221.6L278.5 220.3L279.1 219.0L278.5 217.8L277.6 216.7L277.2 215.4L277.2 214.0L277.3 213.6L276.1 211.8L274.4 210.4L274.0 208.3L273.5 206.2L272.4 204.4L270.8 203.0L269.9 201.1L268.1 199.9L266.3 199.8L264.6 199.3L262.8 198.7L261.0 199.1L259.4 198.4L257.6 198.2L255.8 198.6L254.1 197.9L254.5 199.1L255.2 200.1L256.1 201.1Z" fill="#ffa500"/>
<path d="M278.5 217.8L279.1 219.0L280.5 218.8L281.9 218.9L283.1 218.1L284.4 217.5L285.8 217.3L287.2 217.8L288.5 218.4L289.7 219.2L291.0 219.7L292.2 220.4L293.1 221.5L294.1 222.6L295.4 223.2L296.8 223.3L298.2 222.8L299.6 222.9L301.2 221.5L301.9 220.0L301.9 220.0L300.6 216.2L301.9 213.0L304.4 211.2L303.8 208.8L300.0 206.2L297.5 203.0L297.0 202.3L295.1 201.9L293.0 201.5L291.0 201.0L290.1 201.9L288.9 202.3L287.9 203.0L286.8 203.7L287.0 205.0L286.7 206.3L286.0 207.4L285.0 208.3L284.1 209.2L283.1 209.9L282.4 210.9L281.8 212.0L280.6 212.3L279.4 212.4L278.4 213.2L277.3 213.6L277.2 214.0L277.2 215.4L277.6 216.7Z" fill="#ffffff"/>
<path d="M184.6 205.7L183.1 206.7L182.3 208.2L181.6 209.7L180.7 211.2L179.8 212.6L179.8 214.3L179.9 216.0L181.0 217.4L181.6 219.0L182.9 219.0L184.2 218.6L185.3 219.3L186.6 219.4L187.5 220.4L188.7 220.9L190.0 220.9L191.2 221.6L192.4 221.9L193.6 222.4L195.0 222.1L196.2 222.6L197.1 223.6L197.9 224.5L198.8 225.6L200.0 226.1L199.8 224.9L200.1 223.6L200.5 222.4L200.9 221.3L201.3 220.0L200.9 218.8L201.1 217.6L200.6 216.4L200.7 215.1L200.9 213.8L201.9 212.9L202.7 211.8L202.6 210.6L202.6 209.3L202.7 208.1L202.8 206.8L201.1 205.8L199.7 204.5L198.1 203.2L196.1 202.9L194.1 202.5L192.2 201.8L190.3 202.4L188.3 202.4L187.0 203.5L185.3 204.1Z" fill="#7fff00"/>
<path d="M176.7 189.1L175.6 189.3L174.8 190.0L174.1 190.9L173.0 191.2L172.0 191.6L170.0 192.4L168.4 193.8L166.4 194.5L164.5 195.4L163.9 196.8L163.0 197.9L162.4 199.3L162.5 200.8L163.7 201.6L164.6 202.6L165.2 203.9L166.0 205.0L166.5 206.3L167.0 207.6L167.8 208.7L169.0 209.5L170.4 209.5L171.7 210.1L173.1 210.5L174.5 210.5L175.9 211.1L177.2 211.6L178.6 211.9L179.8 212.6L180.7 211.2L181.6 209.7L182.3 208.2L183.1 206.7L184.6 205.7L185.3 204.1L187.0 203.5L188.3 202.4L187.3 201.3L186.7 199.9L186.6 198.5L186.4 197.1L186.7 195.6L187.0 194.2L186.7 192.8L186.0 191.5L184.4 190.6L183.3 189.1L181.5 188.6L179.8 188.2L178.7 188.6L177.8 189.3Z" fill="#eeee00"/>
<path d="M202.6 209.3L202.6 210.6L202.7 211.8L201.9 212.9L200.9 213.8L200.7 215.1L200.6 216.4L201.1 217.6L200.9 218.8L201.3 220.0L200.9 221.3L200.5 222.4L200.1 223.6L199.8 224.9L200.0 226.1L200.1 226.3L201.6 227.1L203.3 227.0L204.8 227.6L206.3 228.1L208.2 229.0L209.8 230.3L210.9 232.1L212.1 233.8L212.6 235.9L213.6 237.7L215.7 238.5L216.9 240.3L217.7 239.4L218.8 238.7L219.3 237.6L219.6 236.4L220.7 235.9L221.8 235.5L223.0 235.1L224.1 234.6L224.9 233.8L225.8 232.9L227.0 233.0L228.2 232.4L229.3 232.2L230.4 231.9L231.5 231.4L232.6 231.2L231.5 230.7L230.5 229.9L230.1 228.6L229.0 227.8L228.7 226.5L229.0 225.2L228.5 224.1L228.0 222.9L226.9 222.3L226.1 221.4L225.6 220.3L224.5 219.6L223.9 218.5L223.1 217.6L222.1 216.9L221.0 216.4L220.7 215.1L220.9 213.8L220.5 212.5L220.8 211.2L218.6 211.0L216.8 209.9L214.8 209.2L213.0 208.3L211.0 207.7L209.1 206.7L207.1 206.4L205.1 205.7L203.9 206.2L202.8 206.8L202.7 208.1Z" fill="#7fff00"/>
<path d="M236.0 207.1L234.1 206.5L232.2 206.2L230.3 206.5L228.5 206.0L226.8 205.2L225.9 206.0L225.6 207.1L225.3 208.2L224.7 209.2L223.7 209.5L222.7 210.2L221.9 210.9L220.8 211.2L220.5 212.5L220.9 213.8L220.7 215.1L221.0 216.4L222.1 216.9L223.1 217.6L223.9 218.5L224.5 219.6L225.6 220.3L226.1 221.4L226.9 222.3L228.0 222.9L228.5 224.1L229.0 225.2L228.7 226.5L229.0 227.8L230.1 228.6L230.5 229.9L231.5 230.7L232.6 231.2L233.2 231.3L234.7 230.7L236.3 230.5L237.8 229.9L239.0 228.8L239.5 227.2L240.5 225.9L241.6 224.8L242.5 223.4L242.9 221.8L242.9 220.1L241.9 218.6L241.4 217.0L241.2 215.3L240.2 213.9L240.6 212.3L240.4 210.6L239.0 209.4L237.4 208.3Z" fill="#ffffff"/>
<path d="M142.2 142.8L141.0 141.8L139.6 141.9L138.3 142.2L136.9 142.0L135.5 141.8L134.2 141.2L132.8 141.1L131.5 141.1L130.1 140.8L128.7 141.2L127.3 141.5L126.2 142.5L125.3 143.7L123.9 143.8L122.5 143.7L121.0 143.5L120.0 144.0L120.0 145.0L122.0 150.0L124.4 155.0L127.0 158.8L130.0 162.5L132.4 164.1L132.9 163.8L134.4 163.1L135.9 163.3L137.5 163.5L139.0 163.3L140.5 163.1L142.1 162.8L143.1 161.6L144.5 160.8L145.2 159.0L145.4 157.1L145.7 155.3L146.1 153.4L145.7 151.6L145.8 149.7L145.6 147.8L145.8 145.9L144.4 145.2L143.2 144.2Z" fill="#eeee00"/>
<path d="M162.5 170.3L163.5 169.4L164.1 167.9L165.1 166.7L164.9 165.1L165.6 163.6L164.9 162.1L165.0 160.6L165.1 159.0L165.0 157.5L165.8 156.1L166.0 154.5L165.7 152.9L166.1 151.3L165.0 150.1L164.2 148.7L164.3 147.0L163.5 145.6L162.3 144.2L160.7 143.3L158.8 142.5L156.9 142.9L155.0 143.4L153.1 143.7L151.2 143.8L149.2 144.1L147.8 145.4L145.8 145.9L145.6 147.8L145.8 149.7L145.7 151.6L146.1 153.4L145.7 155.3L145.4 157.1L145.2 159.0L144.5 160.8L145.4 162.0L146.3 163.3L147.7 164.0L149.3 164.3L149.9 165.8L150.2 167.3L151.2 168.6L152.5 169.4L154.2 169.1L155.8 169.8L157.4 170.2L158.6 171.5L159.9 171.1L161.3 170.9Z" fill="#ffa500"/>
<path d="M167.8 169.7L169.0 168.8L170.3 169.1L171.5 169.7L172.9 169.9L174.2 170.5L175.4 169.6L176.2 168.4L177.4 167.5L178.2 166.2L179.6 165.6L180.6 164.4L182.0 163.9L183.5 163.7L183.9 162.7L184.2 161.6L184.1 160.4L184.0 159.3L183.5 158.3L182.9 157.3L182.4 156.2L182.6 155.1L182.6 152.9L182.3 150.7L182.0 149.6L181.1 148.8L181.0 147.6L181.2 146.5L180.0 146.2L178.9 146.2L177.7 146.2L176.6 146.2L175.5 145.7L174.6 144.9L173.5 144.6L172.4 144.2L171.3 144.1L170.2 144.3L169.0 144.3L167.9 144.4L166.7 144.6L165.8 145.4L164.6 145.2L163.5 145.6L164.3 147.0L164.2 148.7L165.0 150.1L166.1 151.3L165.7 152.9L166.0 154.5L165.8 156.1L165.0 157.5L165.1 159.0L165.0 160.6L164.9 162.1L165.6 163.6L164.9 165.1L165.1 166.7L164.1 167.9L163.5 169.4L165.0 169.3L166.3 169.9Z" fill="#ffa500"/>
<path d="M149.3 164.3L147.7 164.0L146.3 163.3L145.4 162.0L144.5 160.8L143.1 161.6L142.1 162.8L140.5 163.1L139.0 163.3L137.5 163.5L135.9 163.3L134.4 163.1L132.9 163.8L132.4 164.1L133.8 165.0L137.5 167.0L138.0 169.4L138.8 172.5L137.0 177.0L137.3 179.6L137.5 181.2L138.8 183.8L142.0 187.0L142.7 188.0L144.3 188.6L145.9 189.5L146.0 190.6L145.9 191.8L146.4 192.8L146.9 193.9L147.3 194.9L148.0 195.8L148.5 196.9L148.9 197.9L150.0 198.8L151.5 199.0L152.1 200.4L153.4 201.1L154.8 201.2L156.1 201.8L157.4 201.7L158.8 201.7L160.7 201.2L162.5 200.8L162.4 199.3L163.0 197.9L163.9 196.8L164.5 195.4L163.3 193.8L163.0 191.8L161.1 191.2L159.9 189.5L159.3 187.8L158.9 185.9L157.7 184.4L157.6 182.5L157.7 181.0L157.9 179.5L158.3 178.1L159.5 177.1L158.9 175.8L158.5 174.4L158.5 172.9L158.6 171.5L157.4 170.2L155.8 169.8L154.2 169.1L152.5 169.4L151.2 168.6L150.2 167.3L149.9 165.8ZM139.0 188.6L140.4 188.4L139.0 187.0L138.8 188.3Z" fill="#ffa500"/>
<path d="M158.9 175.8L159.5 177.1L158.3 178.1L157.9 179.5L157.7 181.0L157.6 182.5L157.7 184.4L158.9 185.9L159.3 187.8L159.9 189.5L161.1 191.2L163.0 191.8L163.3 193.8L164.5 195.4L166.4 194.5L168.4 193.8L170.0 192.4L172.0 191.6L173.0 191.2L174.1 190.9L174.8 190.0L175.6 189.3L176.7 189.1L177.8 189.3L178.7 188.6L179.8 188.2L179.5 187.1L179.3 185.9L179.2 184.7L178.5 183.7L178.9 182.5L178.9 181.3L178.1 180.3L178.0 179.0L176.8 178.5L176.1 177.5L175.9 176.2L175.0 175.3L175.0 174.0L174.8 172.8L174.9 171.6L174.2 170.5L172.9 169.9L171.5 169.7L170.3 169.1L169.0 168.8L167.8 169.7L166.3 169.9L165.0 169.3L163.5 169.4L162.5 170.3L161.3 170.9L159.9 171.1L158.6 171.5L158.5 172.9L158.5 174.4Z" fill="#ffa500"/>
<path d="M146.0 196.0L143.5 192.5L141.0 189.0L140.4 188.4L139.0 188.6L138.8 188.3L138.0 192.5L137.5 198.8L136.2 205.0L136.0 206.8L135.7 208.2L135.6 209.0L136.8 210.5L135.3 212.0L135.0 215.0L133.8 221.2L133.6 222.0L134.4 222.4L136.4 222.3L138.3 222.4L140.2 222.7L142.0 223.6L144.0 224.0L145.9 223.7L147.9 223.2L149.8 223.7L151.7 224.1L153.3 225.3L155.0 226.3L156.5 227.5L156.7 226.0L156.6 224.6L157.0 223.2L158.0 222.0L158.9 220.9L160.1 220.1L160.8 218.8L161.0 217.3L161.8 215.9L163.2 215.3L164.7 215.2L166.0 214.5L167.0 213.3L168.0 212.3L168.3 210.8L169.0 209.5L167.8 208.7L167.0 207.6L166.5 206.3L166.0 205.0L165.2 203.9L164.6 202.6L163.7 201.6L162.5 200.8L160.7 201.2L158.8 201.7L157.4 201.7L156.1 201.8L154.8 201.2L153.4 201.1L152.1 200.4L151.5 199.0L150.0 198.8L148.9 197.9L148.5 196.9L148.0 195.8L147.3 194.9L146.9 193.9L146.4 192.8L145.9 191.8L146.0 190.6L145.9 189.5L144.3 188.6L142.7 188.0L143.0 188.5L145.0 192.0Z" fill="#7fff00"/>
<path d="M159.0 231.0L160.2 230.9L161.3 230.8L162.3 230.4L163.4 230.6L164.5 230.9L165.6 231.1L166.6 231.4L167.8 231.3L168.7 230.6L169.8 230.3L171.0 230.3L172.1 230.4L173.2 230.4L174.3 230.6L175.3 231.2L176.6 229.8L177.2 228.1L177.4 226.3L177.3 224.5L177.7 222.7L178.6 221.1L180.3 220.3L181.6 219.0L181.0 217.4L179.9 216.0L179.8 214.3L179.8 212.6L178.6 211.9L177.2 211.6L175.9 211.1L174.5 210.5L173.1 210.5L171.7 210.1L170.4 209.5L169.0 209.5L168.3 210.8L168.0 212.3L167.0 213.3L166.0 214.5L164.7 215.2L163.2 215.3L161.8 215.9L161.0 217.3L160.8 218.8L160.1 220.1L158.9 220.9L158.0 222.0L157.0 223.2L156.6 224.6L156.7 226.0L156.5 227.5L157.5 228.9L157.9 230.7Z" fill="#eeee00"/>
<path d="M131.2 242.8L132.6 242.8L133.9 243.4L135.3 243.3L136.7 243.2L138.1 243.3L139.5 243.5L140.7 244.2L141.9 244.9L143.1 245.6L144.5 245.7L145.7 245.0L147.1 245.0L148.4 244.9L149.6 244.1L151.0 244.0L152.4 244.5L153.8 244.2L153.6 242.4L153.7 240.5L154.9 239.1L155.5 237.3L155.4 235.5L156.0 233.8L156.9 232.2L157.9 230.7L157.5 228.9L156.5 227.5L155.0 226.3L153.3 225.3L151.7 224.1L149.8 223.7L147.9 223.2L145.9 223.7L144.0 224.0L142.0 223.6L140.2 222.7L138.3 222.4L136.4 222.3L134.4 222.4L133.6 222.0L132.5 227.5L131.2 233.8L130.0 240.0L128.4 242.9L128.5 243.0L129.9 243.3Z" fill="#7fff00"/>
<path d="M197.1 223.6L196.2 222.6L195.0 222.1L193.6 222.4L192.4 221.9L191.2 221.6L190.0 220.9L188.7 220.9L187.5 220.4L186.6 219.4L185.3 219.3L184.2 218.6L182.9 219.0L181.6 219.0L180.3 220.3L178.6 221.1L177.7 222.7L177.3 224.5L177.4 226.3L177.2 228.1L176.6 229.8L175.3 231.2L176.4 232.3L177.6 233.5L177.7 235.1L178.6 236.5L180.4 237.7L182.4 237.8L184.4 237.1L186.4 237.1L188.4 236.5L190.3 235.8L192.3 235.6L194.2 236.5L195.6 235.6L196.2 234.2L196.1 232.6L196.7 231.1L197.9 230.2L199.0 229.1L199.5 227.7L200.1 226.3L200.0 226.1L198.8 225.6L197.9 224.5Z" fill="#eeee00"/>
<path d="M178.1 238.0L178.6 236.5L177.7 235.1L177.6 233.5L176.4 232.3L175.3 231.2L174.3 230.6L173.2 230.4L172.1 230.4L171.0 230.3L169.8 230.3L168.7 230.6L167.8 231.3L166.6 231.4L165.6 231.1L164.5 230.9L163.4 230.6L162.3 230.4L161.3 230.8L160.2 230.9L159.0 231.0L157.9 230.7L156.9 232.2L156.0 233.8L155.4 235.5L155.5 237.3L154.9 239.1L153.7 240.5L153.6 242.4L153.8 244.2L154.1 245.0L156.0 245.5L157.9 246.2L159.7 246.8L161.3 247.9L162.9 249.0L164.5 250.2L166.1 251.5L168.2 251.6L169.5 251.1L170.9 250.9L171.7 249.6L173.0 249.0L174.3 248.2L175.5 247.6L176.6 246.6L177.2 245.3L177.6 243.9L177.9 242.5L177.9 240.9L177.6 239.4Z" fill="#eeee00"/>
<path d="M151.0 244.0L149.6 244.1L148.4 244.9L147.1 245.0L145.7 245.0L144.5 245.7L143.1 245.6L141.9 244.9L140.7 244.2L139.5 243.5L138.1 243.3L136.7 243.2L135.3 243.3L133.9 243.4L132.6 242.8L131.2 242.8L129.9 243.3L128.5 243.0L128.4 242.9L127.5 244.4L122.5 248.5L125.6 250.6L128.8 252.5L129.4 256.2L132.5 257.5L137.5 259.4L141.2 260.6L145.0 263.0L147.5 265.6L147.8 265.5L154.1 245.0L153.8 244.2L152.4 244.5Z" fill="#7fff00"/>
<path d="M167.9 266.4L167.3 265.1L167.6 263.6L167.1 262.3L167.4 260.9L168.0 259.7L167.9 258.3L167.6 256.9L167.7 255.6L168.0 254.3L168.1 252.9L168.2 251.6L166.1 251.5L164.5 250.2L162.9 249.0L161.3 247.9L159.7 246.8L157.9 246.2L156.0 245.5L154.1 245.0L147.8 265.5L150.6 264.4L153.0 263.8L155.0 266.2L157.5 268.8L161.2 268.8L165.0 269.4L168.6 269.4L168.6 269.2L168.5 267.7Z" fill="#eeee00"/>
<path d="M194.2 244.2L194.7 242.3L194.3 240.3L194.3 238.4L194.2 236.5L192.3 235.6L190.3 235.8L188.4 236.5L186.4 237.1L184.4 237.1L182.4 237.8L180.4 237.7L178.6 236.5L178.1 238.0L177.6 239.4L177.9 240.9L177.9 242.5L177.6 243.9L177.2 245.3L176.6 246.6L175.5 247.6L174.3 248.2L173.0 249.0L171.7 249.6L170.9 250.9L169.5 251.1L168.2 251.6L168.1 252.9L168.0 254.3L167.7 255.6L167.6 256.9L167.9 258.3L168.0 259.7L167.4 260.9L167.1 262.3L167.6 263.6L167.3 265.1L167.9 266.4L168.5 267.7L168.6 269.2L168.6 269.4L168.8 269.4L172.0 268.8L173.8 267.0L176.2 265.0L178.0 266.2L180.1 267.4L180.1 267.3L181.2 266.4L181.3 265.1L181.6 263.8L181.6 262.4L181.9 261.1L181.3 259.9L181.2 258.5L183.3 258.6L185.3 258.2L187.4 258.1L189.1 256.9L189.8 255.8L190.9 255.2L192.0 254.5L192.6 253.4L193.7 253.0L194.8 253.1L195.7 252.2L196.8 251.9L197.4 251.2L195.9 249.8L194.9 248.1L194.0 246.2Z" fill="#eeee00"/>
<path d="M181.6 263.8L181.3 265.1L181.2 266.4L180.1 267.3L180.1 267.4L181.2 268.0L185.0 270.0L187.5 272.0L188.2 272.1L191.2 272.5L194.4 273.8L195.0 275.6L199.4 277.0L200.9 278.9L202.3 278.0L203.5 276.4L203.4 274.4L203.3 272.3L203.6 270.3L204.5 268.5L203.7 267.6L203.4 266.5L202.9 265.4L202.2 264.5L202.4 263.3L202.0 262.2L201.7 261.0L201.1 260.0L200.2 259.2L199.5 258.3L198.7 257.4L197.9 256.5L197.0 255.6L196.7 254.4L196.5 253.1L196.8 251.9L195.7 252.2L194.8 253.1L193.7 253.0L192.6 253.4L192.0 254.5L190.9 255.2L189.8 255.8L189.1 256.9L187.4 258.1L185.3 258.2L183.3 258.6L181.2 258.5L181.3 259.9L181.9 261.1L181.6 262.4Z" fill="#7fff00"/>
<path d="M201.6 227.1L200.1 226.3L199.5 227.7L199.0 229.1L197.9 230.2L196.7 231.1L196.1 232.6L196.2 234.2L195.6 235.6L194.2 236.5L194.3 238.4L194.3 240.3L194.7 242.3L194.2 244.2L194.0 246.2L194.9 248.1L195.9 249.8L197.4 251.2L198.6 251.0L199.7 250.2L200.9 250.3L202.2 250.5L203.2 249.8L203.9 248.8L205.0 248.2L205.8 247.3L206.9 247.8L208.1 248.2L209.3 247.9L210.5 248.1L211.8 247.9L212.7 247.1L213.9 246.9L215.1 247.1L215.9 245.5L216.2 243.8L216.3 242.0L216.9 240.3L215.7 238.5L213.6 237.7L212.6 235.9L212.1 233.8L210.9 232.1L209.8 230.3L208.2 229.0L206.3 228.1L204.8 227.6L203.3 227.0Z" fill="#eeee00"/>
<path d="M196.7 254.4L197.0 255.6L197.9 256.5L198.7 257.4L199.5 258.3L200.2 259.2L201.1 260.0L201.7 261.0L202.0 262.2L202.4 263.3L202.2 264.5L202.9 265.4L203.4 266.5L203.7 267.6L204.5 268.5L205.6 267.6L206.1 266.2L207.5 265.8L208.5 264.7L209.9 264.4L211.3 264.7L212.7 264.1L213.7 263.1L215.1 262.9L216.4 263.5L217.8 263.7L219.1 263.1L220.5 263.1L221.7 262.3L223.0 262.4L223.4 262.2L223.7 261.4L223.4 261.2L222.9 260.1L222.4 259.0L221.5 258.2L221.3 257.0L221.1 255.9L220.9 254.7L221.3 253.5L220.3 252.8L219.3 252.4L218.5 251.5L217.4 251.1L216.7 250.1L216.7 248.9L215.8 248.0L215.1 247.1L213.9 246.9L212.7 247.1L211.8 247.9L210.5 248.1L209.3 247.9L208.1 248.2L206.9 247.8L205.8 247.3L205.0 248.2L203.9 248.8L203.2 249.8L202.2 250.5L200.9 250.3L199.7 250.2L198.6 251.0L197.4 251.2L196.8 251.9L196.5 253.1Z" fill="#eeee00"/>
<path d="M203.4 274.4L203.5 276.4L202.3 278.0L200.9 278.9L201.2 279.4L205.0 280.0L208.8 278.8L212.5 280.0L216.2 279.4L220.0 277.5L223.8 278.0L225.0 276.2L223.0 272.5L222.5 268.8L222.5 265.0L223.4 262.2L223.0 262.4L221.7 262.3L220.5 263.1L219.1 263.1L217.8 263.7L216.4 263.5L215.1 262.9L213.7 263.1L212.7 264.1L211.3 264.7L209.9 264.4L208.5 264.7L207.5 265.8L206.1 266.2L205.6 267.6L204.5 268.5L203.6 270.3L203.3 272.3Z" fill="#ffffff"/>
<path d="M229.3 232.2L228.2 232.4L227.0 233.0L225.8 232.9L224.9 233.8L224.1 234.6L223.0 235.1L221.8 235.5L220.7 235.9L219.6 236.4L219.3 237.6L218.8 238.7L217.7 239.4L216.9 240.3L216.3 242.0L216.2 243.8L215.9 245.5L215.1 247.1L215.8 248.0L216.7 248.9L216.7 250.1L217.4 251.1L218.5 251.5L219.3 252.4L220.3 252.8L221.3 253.5L220.9 254.7L221.1 255.9L221.3 257.0L221.5 258.2L222.4 259.0L222.9 260.1L223.4 261.2L223.7 261.4L223.8 261.2L225.0 257.5L226.2 255.6L231.2 254.4L233.8 252.0L237.5 249.4L241.2 247.0L242.6 246.6L242.1 246.2L241.9 244.3L241.9 242.5L240.6 241.2L239.0 240.3L237.7 239.0L236.7 237.5L235.5 236.1L234.0 234.9L233.8 233.0L233.2 231.3L232.6 231.2L231.5 231.4L230.4 231.9Z" fill="#ffffff"/>
<path d="M239.5 227.2L239.0 228.8L237.8 229.9L236.3 230.5L234.7 230.7L233.2 231.3L233.8 233.0L234.0 234.9L235.5 236.1L236.7 237.5L237.7 239.0L239.0 240.3L240.6 241.2L241.9 242.5L241.9 244.3L242.1 246.2L242.6 246.6L243.8 246.2L246.2 247.0L248.8 248.0L251.3 248.9L251.5 248.6L253.0 247.1L254.8 246.0L255.9 244.1L256.3 242.0L256.3 240.4L257.1 238.9L257.2 237.3L257.8 235.8L258.2 234.3L258.1 232.7L258.1 231.1L257.7 229.5L256.7 228.3L255.8 227.1L255.2 225.6L254.1 224.5L252.6 224.9L251.1 225.2L249.7 225.5L248.1 225.6L246.6 225.6L245.1 224.9L244.0 223.8L242.5 223.4L241.6 224.8L240.5 225.9Z" fill="#ffffff"/>
<path d="M272.1 229.4L271.0 228.8L269.8 229.0L268.9 229.8L267.7 230.1L266.7 230.8L265.5 231.2L264.3 230.8L263.1 230.4L262.3 229.4L261.1 229.5L260.0 230.2L258.9 229.8L257.7 229.5L258.1 231.1L258.1 232.7L258.2 234.3L257.8 235.8L257.2 237.3L257.1 238.9L256.3 240.4L256.3 242.0L257.7 242.0L259.0 242.5L260.4 242.1L261.8 242.1L263.1 241.7L264.5 242.2L265.8 241.9L267.2 242.2L268.6 242.3L270.0 242.7L271.2 241.9L272.6 241.6L274.0 242.0L275.3 241.4L276.6 241.9L278.0 242.0L278.3 240.4L279.2 239.1L278.5 237.9L278.3 236.6L277.5 235.4L276.3 234.7L276.7 233.4L276.5 232.0L275.9 230.8L275.7 229.5L274.5 229.9L273.3 229.7Z" fill="#ffffff"/>
<path d="M274.0 242.0L272.6 241.6L271.2 241.9L270.0 242.7L268.6 242.3L267.2 242.2L265.8 241.9L264.5 242.2L263.1 241.7L261.8 242.1L260.4 242.1L259.0 242.5L257.7 242.0L256.3 242.0L255.9 244.1L254.8 246.0L253.0 247.1L251.5 248.6L251.3 248.9L252.5 249.4L255.0 251.2L260.0 250.6L263.8 250.0L266.2 251.2L270.0 252.0L271.2 254.4L276.2 255.0L276.4 255.1L276.8 253.7L276.8 252.2L276.7 250.7L277.0 249.2L277.7 247.9L277.7 246.4L278.1 245.0L277.8 243.5L278.0 242.0L276.6 241.9L275.3 241.4Z" fill="#ffffff"/>
<path d="M277.8 243.5L278.1 245.0L277.7 246.4L277.7 247.9L277.0 249.2L276.7 250.7L276.8 252.2L276.8 253.7L276.4 255.1L279.4 256.2L282.0 258.0L285.0 258.8L288.8 258.8L292.5 257.5L296.2 255.0L298.0 252.5L300.0 250.0L302.0 247.5L303.5 245.8L296.8 237.1L295.6 237.5L294.5 237.3L293.4 237.5L292.4 238.1L291.2 238.0L290.1 238.3L289.0 237.8L287.9 237.5L286.8 237.9L285.6 237.8L284.9 238.7L283.7 239.0L282.6 238.9L281.5 238.6L280.4 239.0L279.2 239.1L278.3 240.4L278.0 242.0Z" fill="#ffffff"/>
<path d="M277.3 222.9L276.2 223.9L275.8 225.3L276.1 226.7L276.0 228.1L275.7 229.5L275.9 230.8L276.5 232.0L276.7 233.4L276.3 234.7L277.5 235.4L278.3 236.6L278.5 237.9L279.2 239.1L280.4 239.0L281.5 238.6L282.6 238.9L283.7 239.0L284.9 238.7L285.6 237.8L286.8 237.9L287.9 237.5L289.0 237.8L290.1 238.3L291.2 238.0L292.4 238.1L293.4 237.5L294.5 237.3L295.6 237.5L296.8 237.1L298.6 236.1L299.5 234.3L299.6 232.3L300.1 230.4L299.8 228.5L299.7 226.7L300.2 224.8L299.6 222.9L298.2 222.8L296.8 223.3L295.4 223.2L294.1 222.6L293.1 221.5L292.2 220.4L291.0 219.7L289.7 219.2L288.5 218.4L287.2 217.8L285.8 217.3L284.4 217.5L283.1 218.1L281.9 218.9L280.5 218.8L279.1 219.0L278.5 220.3L277.8 221.6Z" fill="#ffffff"/>
<path d="M300.2 224.8L299.7 226.7L299.8 228.5L300.1 230.4L299.6 232.3L299.5 234.3L298.6 236.1L296.8 237.1L303.5 245.8L303.8 245.6L307.5 243.8L311.2 240.3L315.0 236.5L317.5 232.5L318.8 228.0L316.2 225.6L312.5 226.2L307.5 223.8L303.8 222.0L301.9 220.0L301.2 221.5L299.6 222.9Z" fill="#ffffff"/>
<path d="M207.6 96.8L210.0 97.6L212.5 97.0L213.5 95.0L213.3 92.6L211.5 91.4L209.0 91.2L207.0 92.2L206.6 94.6Z" fill="#ffffff"/>
<path d="M301.6 129.5L300.8 126.0L299.0 123.0L296.5 124.0L297.0 127.5L299.0 130.5L301.3 132.0L301.5 132.1Z" fill="#ffffff"/>
<path d="M67.5 97.5L68.8 97.2L69.0 98.6L67.8 98.8Z" fill="#7fff00"/>
<path d="M100.0 131.5L103.5 132.5L104.0 135.0L101.0 134.5Z" fill="#7fff00"/>
<path d="M96.0 123.0L98.0 123.3L98.0 124.3L96.2 124.0Z" fill="#7fff00"/>
<path d="M118.5 143.5L120.3 144.0L120.8 146.5L119.0 146.0Z" fill="#eeee00"/>
<path d="M116.0 151.3L117.8 151.8L117.5 153.0L116.0 152.5Z" fill="#eeee00"/>
<path d="M131.0 166.0L135.0 167.3L135.0 168.4L131.3 167.3Z" fill="#ffa500"/>
<path d="M134.4 172.5L136.5 174.0L137.8 178.5L136.0 177.5Z" fill="#ffa500"/>
<path d="M207 94.4Q208.6 92.9 210.4 94.1T213.3 94.9M209.9 94.3L209.4 97.3M210.6 91.6L210.4 93.9" fill="none" stroke-width="0.6"/>
</g></g>
<rect x="66.90" y="338.40" width="253.50" height="250.50" fill="none" stroke="#333" stroke-width="0.90"/>
<rect x="323.50" y="338.40" width="8.50" height="42.05" fill="#ffffff"/>
<rect x="323.50" y="380.15" width="8.50" height="42.05" fill="#006d2c"/>
<rect x="323.50" y="421.90" width="8.50" height="42.05" fill="#7fff00"/>
<rect x="323.50" y="463.65" width="8.50" height="42.05" fill="#eeee00"/>
<rect x="323.50" y="505.40" width="8.50" height="42.05" fill="#ffa500"/>
<rect x="323.50" y="547.15" width="8.50" height="41.75" fill="#ff0000"/>
<path d="M332.00 359.27h2.2" stroke="#000" stroke-width="0.90"/>
<text x="336.25" y="362.32" font-size="6.35" fill="#000">Pas d'information</text>
<path d="M332.00 401.02h2.2" stroke="#000" stroke-width="0.90"/>
<text x="336.25" y="404.07" font-size="6.35" fill="#000">Absent ou rare</text>
<path d="M332.00 442.77h2.2" stroke="#000" stroke-width="0.90"/>
<text x="336.25" y="445.82" font-size="6.35" fill="#000">Peu fréquent ou très localisé</text>
<path d="M332.00 484.52h2.2" stroke="#000" stroke-width="0.90"/>
<text x="336.25" y="487.57" font-size="6.35" fill="#000">Moyennement fréquent</text>
<path d="M332.00 526.27h2.2" stroke="#000" stroke-width="0.90"/>
<text x="336.25" y="529.32" font-size="6.35" fill="#000">Fréquent</text>
<path d="M332.00 568.02h2.2" stroke="#000" stroke-width="0.90"/>
<text x="336.25" y="571.07" font-size="6.35" fill="#000">Très fréquent</text>
<rect x="323.50" y="338.40" width="8.50" height="250.50" fill="none" stroke="#333" stroke-width="0.90"/>
<text x="240.00" y="332.20" font-size="7.55" font-weight="bold" text-anchor="middle" fill="#000">Fréquence ravageur aujourd'hui : Larves grosses altises</text>
<g transform="translate(444.900 338.400) scale(0.99606 0.99661) translate(-66.900 -30.450)">
<g stroke="#000" stroke-width="0.75" stroke-linejoin="round">
<path d="M96.0 116.4L95.7 115.4L96.4 114.5L97.3 113.8L97.5 112.6L98.2 111.7L98.9 110.8L98.9 109.6L98.7 108.4L98.5 107.3L97.7 105.3L97.0 103.3L95.9 101.5L94.9 99.6L94.2 98.7L93.4 97.9L92.8 96.9L92.6 95.8L92.3 94.7L92.7 93.6L92.9 92.7L90.0 92.5L83.8 93.0L77.5 95.0L73.8 97.5L73.0 101.2L77.5 102.5L77.0 106.2L81.2 107.0L77.5 108.0L73.8 110.6L78.8 111.2L81.2 115.0L80.0 117.5L83.8 117.5L87.5 118.8L92.5 119.4L95.6 118.8L95.8 118.9L95.8 118.6L96.1 117.6Z" fill="#006d2c"/>
<path d="M92.6 95.8L92.8 96.9L93.4 97.9L94.2 98.7L94.9 99.6L95.9 101.5L97.0 103.3L97.7 105.3L98.5 107.3L99.8 107.0L101.2 107.2L102.5 106.9L103.9 106.5L105.1 107.1L106.5 107.4L107.9 107.0L109.3 107.4L110.6 107.8L111.8 108.6L113.1 109.0L114.4 109.5L115.8 109.1L117.1 108.6L118.6 108.8L120.0 108.7L121.4 107.6L122.4 106.2L122.6 104.4L123.7 103.0L124.6 101.5L124.9 99.8L125.0 98.1L125.2 97.7L125.0 97.5L121.2 97.0L117.5 98.8L113.0 100.0L111.2 96.2L109.4 92.5L107.5 90.0L102.5 90.0L98.0 91.2L96.2 93.0L92.9 92.7L92.7 93.6L92.3 94.7Z" fill="#006d2c"/>
<path d="M121.7 116.2L121.4 114.7L121.1 113.1L120.1 111.8L119.7 110.2L120.0 108.7L118.6 108.8L117.1 108.6L115.8 109.1L114.4 109.5L113.1 109.0L111.8 108.6L110.6 107.8L109.3 107.4L107.9 107.0L106.5 107.4L105.1 107.1L103.9 106.5L102.5 106.9L101.2 107.2L99.8 107.0L98.5 107.3L98.7 108.4L98.9 109.6L98.9 110.8L98.2 111.7L97.5 112.6L97.3 113.8L96.4 114.5L95.7 115.4L96.0 116.4L96.1 117.6L95.8 118.6L95.8 118.9L97.5 120.6L101.2 123.0L105.0 125.6L108.0 127.5L112.5 128.8L114.7 129.8L114.9 129.8L115.6 128.7L116.8 128.2L117.0 127.0L117.4 125.8L117.7 124.6L118.5 123.6L119.8 123.4L120.9 122.8L122.0 122.0L122.5 120.8L122.0 119.3L121.7 117.8Z" fill="#006d2c"/>
<path d="M140.0 101.4L138.9 101.0L137.9 100.4L136.9 99.7L136.1 98.9L135.0 98.3L133.8 98.0L132.6 97.8L132.4 97.6L131.2 97.5L128.8 98.8L127.0 100.6L125.2 97.7L125.0 98.1L124.9 99.8L124.6 101.5L123.7 103.0L122.6 104.4L122.4 106.2L121.4 107.6L120.0 108.7L119.7 110.2L120.1 111.8L121.1 113.1L121.4 114.7L121.7 116.2L121.7 117.8L122.0 119.3L122.5 120.8L123.7 120.3L124.9 120.5L126.0 120.9L127.1 121.4L128.3 121.0L129.4 120.6L130.6 120.7L131.7 121.3L133.0 120.9L134.2 121.3L135.3 120.9L136.6 120.8L137.4 121.7L138.4 122.5L139.6 122.9L140.7 123.3L141.6 122.3L142.3 121.1L142.9 119.9L143.3 118.7L143.2 117.4L143.1 116.1L142.8 114.8L143.1 113.5L143.1 112.1L143.7 111.0L143.9 109.7L143.8 108.4L143.5 107.1L143.9 105.8L143.2 104.7L143.0 103.4L142.2 102.4L141.1 101.8Z" fill="#006d2c"/>
<path d="M150.5 78.5L150.8 78.2L150.0 78.0L145.0 78.0L143.8 75.6L143.0 72.0L142.5 68.0L138.8 67.5L133.8 68.0L130.0 67.5L131.2 72.5L133.0 78.8L134.7 85.1L135.0 86.2L135.6 92.5L135.6 98.0L132.4 97.6L132.6 97.8L133.8 98.0L135.0 98.3L136.1 98.9L136.9 99.7L137.9 100.4L138.9 101.0L140.0 101.4L141.1 101.8L142.2 102.4L143.0 103.4L144.1 103.3L145.2 103.4L146.2 102.9L147.2 102.3L149.0 101.0L150.8 99.8L151.4 98.4L152.0 96.9L150.7 95.3L150.2 93.5L149.2 91.8L148.7 89.9L148.2 88.0L148.4 86.0L147.6 84.2L147.7 82.3L148.7 80.9L150.3 80.3Z" fill="#006d2c"/>
<path d="M168.0 78.8L162.5 80.6L156.2 79.4L150.8 78.2L150.5 78.5L150.3 80.3L148.7 80.9L147.7 82.3L147.6 84.2L148.4 86.0L148.2 88.0L148.7 89.9L149.2 91.8L150.2 93.5L150.7 95.3L152.0 96.9L153.2 96.2L154.2 95.3L155.3 94.4L156.6 94.0L158.0 93.7L159.3 94.2L160.7 94.4L162.1 94.2L163.4 93.8L164.4 92.9L165.5 92.2L166.8 91.8L168.0 91.2L169.2 90.7L170.0 89.7L171.0 88.7L171.0 87.6L171.0 86.5L171.0 85.4L170.3 84.4L170.2 83.3L170.2 82.2L170.8 81.2L171.0 80.1L169.5 79.5L168.2 78.6Z" fill="#006d2c"/>
<path d="M168.0 91.2L166.8 91.8L165.5 92.2L164.4 92.9L163.4 93.8L162.1 94.2L160.7 94.4L159.3 94.2L158.0 93.7L156.6 94.0L155.3 94.4L154.2 95.3L153.2 96.2L152.0 96.9L151.4 98.4L150.8 99.8L151.6 101.5L153.1 102.5L154.9 102.8L156.4 103.9L157.6 105.1L158.8 106.4L160.0 107.8L160.5 109.5L162.3 108.3L164.3 107.8L166.3 106.9L168.1 105.9L170.0 104.9L172.0 104.2L174.2 103.8L176.3 104.2L177.0 102.9L177.7 101.6L177.5 100.0L177.9 98.6L176.9 97.3L176.7 95.7L176.5 94.2L175.5 92.9L174.7 91.5L173.8 90.2L172.6 89.0L171.0 88.7L170.0 89.7L169.2 90.7Z" fill="#006d2c"/>
<path d="M159.5 117.7L160.0 116.1L160.8 114.6L161.0 112.9L161.3 111.1L160.5 109.5L160.0 107.8L158.8 106.4L157.6 105.1L156.4 103.9L154.9 102.8L153.1 102.5L151.6 101.5L150.8 99.8L149.0 101.0L147.2 102.3L146.2 102.9L145.2 103.4L144.1 103.3L143.0 103.4L143.2 104.7L143.9 105.8L143.5 107.1L143.8 108.4L143.9 109.7L143.7 111.0L143.1 112.1L143.1 113.5L142.8 114.8L143.1 116.1L143.2 117.4L143.3 118.7L142.9 119.9L142.3 121.1L141.6 122.3L140.7 123.3L141.0 123.5L142.2 123.7L143.4 123.6L144.4 122.9L145.6 122.7L146.8 122.9L148.0 122.6L149.1 122.0L149.9 121.2L151.1 121.0L152.2 121.5L153.4 121.6L154.6 121.5L155.7 121.8L156.9 121.6L158.1 121.8L159.0 122.6L159.7 121.0L159.2 119.3Z" fill="#006d2c"/>
<path d="M175.6 120.6L176.0 118.9L177.4 118.2L178.7 117.4L180.0 116.4L180.5 114.8L180.0 113.4L180.3 111.9L179.6 110.6L178.5 109.5L178.1 108.1L177.1 107.0L176.9 105.6L176.3 104.2L174.2 103.8L172.0 104.2L170.0 104.9L168.1 105.9L166.3 106.9L164.3 107.8L162.3 108.3L160.5 109.5L161.3 111.1L161.0 112.9L160.8 114.6L160.0 116.1L159.5 117.7L159.2 119.3L159.7 121.0L159.0 122.6L160.5 123.1L161.7 124.0L162.4 125.3L163.2 126.5L164.5 125.8L166.0 125.7L167.4 125.2L168.8 125.0L170.3 124.8L171.7 124.6L173.2 124.4L174.6 124.9L174.5 123.3L174.4 121.7Z" fill="#eeee00"/>
<path d="M139.4 138.6L139.0 137.4L139.3 136.2L140.0 135.1L140.1 133.8L139.7 132.7L140.1 131.5L140.1 130.2L140.7 129.1L141.5 128.3L141.4 127.1L141.3 125.9L141.5 124.7L141.0 123.5L140.7 123.3L139.6 122.9L138.4 122.5L137.4 121.7L136.6 120.8L135.3 120.9L134.2 121.3L133.0 120.9L131.7 121.3L130.6 120.7L129.4 120.6L128.3 121.0L127.1 121.4L126.0 120.9L124.9 120.5L123.7 120.3L122.5 120.8L122.0 122.0L120.9 122.8L119.8 123.4L118.5 123.6L117.7 124.6L117.4 125.8L117.0 127.0L116.8 128.2L115.6 128.7L114.9 129.8L114.7 129.8L115.0 130.0L115.0 133.8L118.8 135.0L120.6 138.8L120.0 142.0L120.0 144.0L121.0 143.5L122.5 143.7L123.9 143.8L125.3 143.7L126.2 142.5L127.3 141.5L128.7 141.2L130.1 140.8L131.5 141.1L132.8 141.1L134.2 141.2L135.5 141.8L136.9 142.0L138.3 142.2L139.6 141.9L141.0 141.8L140.0 141.0L139.3 139.9Z" fill="#006d2c"/>
<path d="M155.7 121.8L154.6 121.5L153.4 121.6L152.2 121.5L151.1 121.0L149.9 121.2L149.1 122.0L148.0 122.6L146.8 122.9L145.6 122.7L144.4 122.9L143.4 123.6L142.2 123.7L141.0 123.5L141.5 124.7L141.3 125.9L141.4 127.1L141.5 128.3L140.7 129.1L140.1 130.2L140.1 131.5L139.7 132.7L140.1 133.8L140.0 135.1L139.3 136.2L139.0 137.4L139.4 138.6L139.3 139.9L140.0 141.0L141.0 141.8L142.2 142.8L143.2 144.2L144.4 145.2L145.8 145.9L147.8 145.4L149.2 144.1L151.2 143.8L153.1 143.7L155.0 143.4L156.9 142.9L158.8 142.5L160.7 143.3L161.2 142.4L162.0 141.6L162.4 140.5L162.3 139.3L162.9 137.2L162.7 135.1L163.0 132.9L163.5 130.8L163.6 128.7L163.2 126.5L162.4 125.3L161.7 124.0L160.5 123.1L159.0 122.6L158.1 121.8L156.9 121.6Z" fill="#eeee00"/>
<path d="M196.5 68.6L196.2 67.3L195.9 66.1L194.9 65.2L195.0 63.9L194.4 62.7L194.1 61.4L194.5 60.1L193.9 59.0L193.4 57.8L190.0 60.6L182.5 63.8L175.0 66.2L170.0 69.4L167.5 73.0L168.0 75.6L170.6 77.0L168.2 78.6L169.5 79.5L171.0 80.1L172.5 80.3L174.1 80.2L175.6 80.8L177.1 80.6L178.4 79.7L180.0 79.5L181.6 79.6L183.1 79.0L184.7 79.3L186.2 78.7L187.7 78.7L189.3 79.1L190.5 78.0L192.0 77.6L193.5 77.4L195.0 76.9L195.7 75.9L196.3 74.7L196.7 73.5L196.6 72.3L197.0 71.0L196.9 69.8Z" fill="#006d2c"/>
<path d="M195.8 81.1L195.7 79.6L195.5 78.2L195.0 76.9L193.5 77.4L192.0 77.6L190.5 78.0L189.3 79.1L187.7 78.7L186.2 78.7L184.7 79.3L183.1 79.0L181.6 79.6L180.0 79.5L178.4 79.7L177.1 80.6L175.6 80.8L174.1 80.2L172.5 80.3L171.0 80.1L170.8 81.2L170.2 82.2L170.2 83.3L170.3 84.4L171.0 85.4L171.0 86.5L171.0 87.6L171.0 88.7L172.6 89.0L173.8 90.2L174.7 91.5L175.5 92.9L176.5 94.2L176.7 95.7L176.9 97.3L177.9 98.6L179.2 98.9L180.6 98.4L181.9 98.3L183.2 98.2L184.5 97.8L185.8 97.4L187.0 96.9L188.1 96.1L189.3 95.0L190.4 93.7L190.6 92.1L190.9 90.6L191.8 89.2L193.1 88.3L193.6 86.8L194.5 85.5L195.4 84.2L195.6 82.6Z" fill="#006d2c"/>
<path d="M184.5 97.8L183.2 98.2L181.9 98.3L180.6 98.4L179.2 98.9L177.9 98.6L177.5 100.0L177.7 101.6L177.0 102.9L176.3 104.2L176.9 105.6L177.1 107.0L178.1 108.1L178.5 109.5L179.6 110.6L180.3 111.9L180.0 113.4L180.5 114.8L181.9 115.6L183.2 116.4L184.8 116.5L186.3 116.3L187.9 116.1L189.3 116.7L190.8 116.3L192.3 116.8L193.8 116.6L195.2 116.1L196.1 114.5L197.6 113.5L198.1 111.8L199.0 110.3L198.2 108.7L197.3 107.3L197.2 105.6L197.5 103.9L196.2 103.0L195.4 101.6L194.7 100.2L193.7 99.0L192.4 97.9L191.3 96.8L189.8 96.2L188.1 96.1L187.0 96.9L185.8 97.4Z" fill="#eeee00"/>
<path d="M191.8 89.2L190.9 90.6L190.6 92.1L190.4 93.7L189.3 95.0L188.1 96.1L189.8 96.2L191.3 96.8L192.4 97.9L193.7 99.0L194.7 100.2L195.4 101.6L196.2 103.0L197.5 103.9L198.4 102.8L198.9 101.5L200.0 100.6L201.2 99.9L201.7 98.5L202.8 97.5L204.1 97.0L205.5 96.5L203.9 95.3L202.3 94.1L200.8 92.9L199.5 91.4L198.1 90.1L196.5 88.9L195.9 87.0L194.5 85.5L193.6 86.8L193.1 88.3Z" fill="#eeee00"/>
<path d="M198.1 90.1L199.5 91.4L200.8 92.9L202.3 94.1L203.9 95.3L205.5 96.5L207.2 96.0L206.6 94.6L207.0 92.2L209.0 91.2L211.5 91.4L212.6 92.1L212.7 91.7L212.8 90.0L213.4 88.4L212.1 88.8L210.8 88.5L209.5 88.1L208.3 87.6L207.5 86.6L206.3 86.0L205.2 85.4L204.4 84.3L203.1 84.0L201.8 84.3L200.5 83.7L199.6 82.7L198.5 82.0L197.2 81.7L196.3 80.7L195.7 79.6L195.8 81.1L195.6 82.6L195.4 84.2L194.5 85.5L195.9 87.0L196.5 88.9Z" fill="#eeee00"/>
<path d="M201.7 98.5L201.2 99.9L200.0 100.6L198.9 101.5L198.4 102.8L197.5 103.9L197.2 105.6L197.3 107.3L198.2 108.7L199.0 110.3L201.1 110.3L202.9 109.1L204.9 109.8L207.0 109.3L209.1 109.4L211.1 109.3L213.1 109.8L215.0 110.8L214.1 109.0L213.1 107.3L213.1 105.3L213.3 103.4L213.4 101.4L213.2 99.5L213.3 97.6L213.0 96.1L212.5 97.0L210.0 97.6L207.6 96.8L207.2 96.0L205.5 96.5L204.1 97.0L202.8 97.5Z" fill="#ffa500"/>
<path d="M198.5 82.0L199.6 82.7L200.5 83.7L201.8 84.3L203.1 84.0L204.4 84.3L205.2 85.4L206.3 86.0L207.5 86.6L208.3 87.6L209.5 88.1L210.8 88.5L212.1 88.8L213.4 88.4L214.2 87.7L215.2 87.2L215.5 86.1L216.2 85.1L217.6 83.4L219.4 82.2L219.8 80.8L219.8 79.4L219.8 77.9L219.2 76.5L219.3 75.1L219.9 73.8L220.0 72.4L220.5 71.0L220.0 69.7L218.6 70.4L217.1 70.6L215.9 71.6L214.5 72.3L213.1 72.9L211.6 73.6L210.1 73.3L208.5 73.0L207.0 73.0L205.5 73.1L204.0 73.1L202.5 72.9L201.1 72.6L199.6 72.4L198.1 72.7L196.6 72.3L196.7 73.5L196.3 74.7L195.7 75.9L195.0 76.9L195.5 78.2L195.7 79.6L196.3 80.7L197.2 81.7Z" fill="#006d2c"/>
<path d="M201.1 72.6L202.5 72.9L204.0 73.1L205.5 73.1L207.0 73.0L208.5 73.0L210.1 73.3L211.6 73.6L213.1 72.9L214.5 72.3L215.9 71.6L217.1 70.6L218.6 70.4L220.0 69.7L220.9 68.4L221.6 66.9L221.3 65.2L221.9 63.6L222.0 62.2L221.7 60.9L220.7 59.9L220.2 58.6L219.5 57.4L219.1 56.1L218.2 55.1L217.3 54.0L215.5 54.3L213.8 53.5L212.1 54.3L210.3 54.2L208.6 54.0L206.9 53.4L205.3 52.6L203.7 52.0L202.1 53.0L200.7 54.2L198.9 54.6L197.1 54.9L195.3 54.6L194.5 54.3L193.8 57.5L193.4 57.8L193.9 59.0L194.5 60.1L194.1 61.4L194.4 62.7L195.0 63.9L194.9 65.2L195.9 66.1L196.2 67.3L196.5 68.6L196.9 69.8L197.0 71.0L196.6 72.3L198.1 72.7L199.6 72.4Z" fill="#006d2c"/>
<path d="M218.5 49.9L218.5 48.5L217.7 46.4L216.2 44.9L214.3 43.9L212.6 42.5L211.4 40.8L210.2 39.0L209.2 37.2L208.1 35.4L207.0 35.2L205.9 34.9L205.1 34.1L204.4 33.3L203.4 32.6L203.4 32.6L201.2 33.0L197.5 35.0L195.6 38.8L195.6 45.0L195.0 52.5L194.5 54.3L195.3 54.6L197.1 54.9L198.9 54.6L200.7 54.2L202.1 53.0L203.7 52.0L205.3 52.6L206.9 53.4L208.6 54.0L210.3 54.2L212.1 54.3L213.8 53.5L215.5 54.3L217.3 54.0L217.8 52.7L218.3 51.3Z" fill="#006d2c"/>
<path d="M205.9 34.9L207.0 35.2L208.1 35.4L209.2 37.2L210.2 39.0L211.4 40.8L212.6 42.5L214.3 43.9L216.2 44.9L217.7 46.4L218.5 48.5L218.5 49.9L218.3 51.3L217.8 52.7L217.3 54.0L218.2 55.1L219.1 56.1L219.5 57.4L220.2 58.6L220.7 59.9L221.7 60.9L222.0 62.2L221.9 63.6L223.3 63.6L224.7 63.8L225.8 62.8L227.1 62.3L229.2 62.9L231.4 63.1L233.6 63.2L235.7 63.0L236.9 62.8L237.9 63.2L238.9 63.8L240.0 64.0L240.7 64.9L241.6 65.6L242.6 66.1L243.8 66.2L244.6 65.0L245.0 63.7L246.0 62.6L246.2 62.0L244.4 62.0L243.8 57.5L242.5 53.8L238.8 52.0L236.1 51.3L233.8 50.6L231.2 47.5L227.5 46.2L225.6 42.0L225.3 41.6L223.8 39.4L218.8 41.2L217.0 38.8L214.4 33.8L213.0 31.0L206.2 32.0L203.4 32.6L203.4 32.6L204.4 33.3L205.1 34.1Z" fill="#006d2c"/>
<path d="M243.2 78.0L244.4 77.6L243.5 76.3L242.7 75.0L242.1 73.5L242.4 72.0L242.5 70.5L243.0 69.1L243.0 67.5L243.8 66.2L242.6 66.1L241.6 65.6L240.7 64.9L240.0 64.0L238.9 63.8L237.9 63.2L236.9 62.8L235.7 63.0L233.6 63.2L231.4 63.1L229.2 62.9L227.1 62.3L225.8 62.8L224.7 63.8L223.3 63.6L221.9 63.6L221.3 65.2L221.6 66.9L220.9 68.4L220.0 69.7L220.5 71.0L220.0 72.4L219.9 73.8L219.3 75.1L219.2 76.5L219.8 77.9L219.8 79.4L219.8 80.8L219.4 82.2L220.3 83.0L221.5 83.3L222.0 84.4L222.8 85.2L223.7 86.0L224.4 86.9L225.5 87.4L226.7 87.7L227.7 88.2L228.4 89.1L229.5 89.5L230.4 90.3L231.2 91.1L231.9 92.1L233.0 92.5L233.9 93.3L234.5 91.5L235.3 89.7L235.8 87.8L235.4 85.9L236.7 84.3L237.1 82.4L238.4 80.9L240.1 80.0L240.8 78.9L241.9 78.2Z" fill="#eeee00"/>
<path d="M213.3 92.6L213.5 95.0L213.0 96.1L213.3 97.6L213.2 99.5L213.4 101.4L213.3 103.4L213.1 105.3L213.1 107.3L214.1 109.0L215.0 110.8L216.0 111.7L216.8 112.9L217.9 113.8L219.1 114.4L220.4 113.2L221.8 112.0L223.4 111.2L225.3 111.5L226.9 110.7L228.7 110.6L230.1 109.6L231.4 108.3L232.2 107.1L232.1 105.7L231.7 104.4L231.7 103.0L232.4 101.8L233.3 100.8L233.6 99.5L234.0 98.2L234.5 97.4L233.7 95.4L233.9 93.3L233.0 92.5L231.9 92.1L231.2 91.1L230.4 90.3L229.5 89.5L228.4 89.1L227.7 88.2L226.7 87.7L225.5 87.4L224.4 86.9L223.7 86.0L222.8 85.2L222.0 84.4L221.5 83.3L220.3 83.0L219.4 82.2L217.6 83.4L216.2 85.1L215.5 86.1L215.2 87.2L214.2 87.7L213.4 88.4L212.8 90.0L212.7 91.7L212.6 92.1Z" fill="#006d2c"/>
<path d="M244.6 65.0L243.8 66.2L243.0 67.5L243.0 69.1L242.5 70.5L242.4 72.0L242.1 73.5L242.7 75.0L243.5 76.3L244.4 77.6L245.7 78.2L247.2 78.6L248.6 79.0L250.1 79.1L250.9 80.4L252.2 81.2L253.8 81.3L255.1 82.1L256.9 81.0L258.2 79.2L259.3 77.4L259.8 75.3L261.0 73.5L263.0 72.8L265.1 72.4L265.1 72.4L263.0 71.2L258.8 67.5L255.6 63.8L256.2 60.6L255.6 57.0L252.5 58.0L248.8 62.0L246.2 62.0L246.0 62.6L245.0 63.7Z" fill="#eeee00"/>
<path d="M256.3 93.0L256.7 91.0L256.5 89.9L256.2 88.8L255.9 87.6L256.2 86.5L256.5 85.3L256.1 84.2L255.8 83.0L255.1 82.1L253.8 81.3L252.2 81.2L250.9 80.4L250.1 79.1L248.6 79.0L247.2 78.6L245.7 78.2L244.4 77.6L243.2 78.0L241.9 78.2L240.8 78.9L240.1 80.0L238.4 80.9L237.1 82.4L236.7 84.3L235.4 85.9L235.8 87.8L235.3 89.7L234.5 91.5L233.9 93.3L233.7 95.4L234.5 97.4L235.8 97.4L237.1 97.4L238.3 97.8L239.6 97.8L240.8 97.7L242.0 97.2L243.1 96.6L244.4 96.2L245.5 96.9L246.7 97.2L248.0 97.4L249.0 98.2L250.2 98.6L251.4 98.9L252.8 99.0L254.0 98.5L254.9 96.7L255.9 94.9Z" fill="#ffa500"/>
<path d="M252.8 99.0L251.4 98.9L250.2 98.6L249.0 98.2L248.0 97.4L246.7 97.2L245.5 96.9L244.4 96.2L243.1 96.6L242.0 97.2L240.8 97.7L239.6 97.8L238.3 97.8L237.1 97.4L235.8 97.4L234.5 97.4L234.0 98.2L233.6 99.5L233.3 100.8L232.4 101.8L231.7 103.0L231.7 104.4L232.1 105.7L232.2 107.1L231.4 108.3L232.6 108.9L233.3 110.0L234.6 110.1L235.6 110.9L235.8 112.2L236.5 113.3L237.5 114.2L238.6 114.9L239.2 116.0L239.6 117.2L240.6 118.1L241.8 118.6L243.0 119.0L243.9 119.9L244.7 120.8L245.7 121.6L246.8 120.0L248.5 119.1L250.4 119.3L252.1 118.5L253.1 117.9L253.8 116.9L254.3 115.9L255.1 115.1L255.8 114.0L256.1 112.9L256.2 111.7L255.6 110.5L255.4 109.4L255.7 108.2L256.4 107.2L256.9 106.2L257.0 105.0L256.5 103.9L256.2 102.7L255.4 101.8L254.9 100.1L254.0 98.5Z" fill="#ff0000"/>
<path d="M271.0 87.2L270.3 86.0L271.0 84.7L271.6 83.4L271.1 82.0L271.4 80.6L270.6 79.5L270.1 78.3L269.8 77.0L269.2 75.8L269.0 74.9L268.8 75.0L266.2 73.0L265.1 72.4L265.1 72.4L263.0 72.8L261.0 73.5L259.8 75.3L259.3 77.4L258.2 79.2L256.9 81.0L255.1 82.1L255.8 83.0L256.1 84.2L256.5 85.3L256.2 86.5L255.9 87.6L256.2 88.8L256.5 89.9L256.7 91.0L256.3 93.0L255.9 94.9L254.9 96.7L254.0 98.5L254.9 100.1L255.4 101.8L256.7 101.9L257.7 102.6L258.8 103.3L260.1 103.4L261.2 103.9L262.5 103.9L263.8 103.7L265.0 103.3L266.3 103.4L267.3 104.2L268.6 103.9L269.8 103.9L271.0 104.2L272.0 105.0L273.2 105.2L274.3 105.9L274.9 105.0L275.0 103.1L274.2 101.3L274.8 99.5L275.6 97.8L274.9 96.1L273.8 94.6L273.8 92.7L272.8 91.1L272.5 91.0L272.0 89.7L271.8 88.3Z" fill="#ffa500"/>
<path d="M278.8 84.7L278.8 83.5L279.4 81.4L280.6 79.7L280.6 77.6L280.3 75.6L280.4 75.0L280.0 75.0L276.2 75.6L272.5 73.8L269.0 74.9L269.2 75.8L269.8 77.0L270.1 78.3L270.6 79.5L271.4 80.6L271.1 82.0L271.6 83.4L271.0 84.7L270.3 86.0L271.0 87.2L271.8 88.3L272.0 89.7L272.5 91.0L272.8 91.1L273.8 92.7L273.8 94.6L274.9 96.1L275.6 97.8L274.8 99.5L274.2 101.3L275.0 103.1L274.9 105.0L276.9 104.1L279.1 104.3L279.7 103.4L280.7 102.8L281.7 102.3L282.8 102.4L284.8 103.3L287.0 103.4L288.2 105.2L290.0 106.4L292.1 107.1L293.6 108.7L295.6 109.2L297.7 109.2L298.3 108.2L299.2 107.4L300.2 106.7L301.4 106.7L301.1 105.3L300.5 104.0L301.0 102.6L300.6 101.2L299.1 99.7L297.5 98.2L295.5 97.5L293.8 96.2L292.2 94.8L291.0 93.0L289.9 91.1L288.0 90.2L287.7 90.3L286.6 90.3L285.5 90.5L284.4 90.1L283.4 89.6L282.2 89.8L281.2 89.3L280.2 88.7L279.5 87.7L279.1 86.7L278.6 85.7Z" fill="#ffa500"/>
<path d="M283.4 89.6L284.4 90.1L285.5 90.5L286.6 90.3L287.7 90.3L288.0 90.2L289.9 91.1L291.0 93.0L292.2 94.8L293.8 96.2L295.5 97.5L297.5 98.2L299.1 99.7L300.6 101.2L301.0 100.1L301.1 99.0L301.4 98.0L301.6 96.9L302.0 95.8L302.7 94.9L302.7 93.8L303.1 92.7L304.0 92.0L304.3 90.9L304.5 89.7L305.2 88.8L305.4 87.7L305.7 86.7L306.0 85.5L306.9 84.7L307.0 84.7L304.4 83.0L302.0 85.0L298.8 84.4L295.0 83.0L292.5 82.3L291.2 82.0L287.5 77.5L283.8 75.0L280.4 75.0L280.3 75.6L280.6 77.6L280.6 79.7L279.4 81.4L278.8 83.5L278.8 84.7L278.6 85.7L279.1 86.7L279.5 87.7L280.2 88.7L281.2 89.3L282.2 89.8Z" fill="#ffa500"/>
<path d="M313.8 100.0L315.6 96.2L318.0 91.2L319.4 88.0L315.0 86.2L310.0 86.2L307.5 85.0L307.0 84.7L306.9 84.7L306.0 85.5L305.7 86.7L305.4 87.7L305.2 88.8L304.5 89.7L304.3 90.9L304.0 92.0L303.1 92.7L302.7 93.8L302.7 94.9L302.0 95.8L301.6 96.9L301.4 98.0L301.1 99.0L301.0 100.1L300.6 101.2L301.0 102.6L300.5 104.0L301.1 105.3L301.4 106.7L310.9 108.8L312.0 105.0Z" fill="#eeee00"/>
<path d="M296.9 126.8L296.5 124.0L299.0 123.0L300.8 126.0L301.6 129.5L301.5 132.1L301.3 132.0L299.0 130.5L298.7 130.0L299.1 131.0L300.2 131.7L300.7 132.9L300.9 133.1L301.0 132.0L305.0 132.5L308.0 130.0L309.4 125.0L310.0 117.5L310.6 110.0L310.9 108.8L301.4 106.7L300.2 106.7L299.2 107.4L298.3 108.2L297.7 109.2L297.7 110.5L297.2 111.8L296.4 112.8L295.5 113.8L295.0 115.0L294.8 116.3L293.9 117.3L293.1 118.3L293.5 120.2L294.5 121.9L294.9 123.8L294.5 125.8L295.7 126.0L296.8 126.7Z" fill="#eeee00"/>
<path d="M274.3 108.3L274.2 109.6L274.4 110.8L274.4 112.0L274.8 113.2L274.8 114.4L274.7 115.7L275.5 116.7L276.5 117.5L277.7 117.9L278.9 118.3L280.1 118.5L281.3 118.3L282.5 117.9L283.7 118.2L284.9 117.9L286.2 118.2L287.2 118.8L288.4 119.1L289.6 119.0L290.8 118.9L292.0 118.9L293.1 118.3L293.9 117.3L294.8 116.3L295.0 115.0L295.5 113.8L296.4 112.8L297.2 111.8L297.7 110.5L297.7 109.2L295.6 109.2L293.6 108.7L292.1 107.1L290.0 106.4L288.2 105.2L287.0 103.4L284.8 103.3L282.8 102.4L281.7 102.3L280.7 102.8L279.7 103.4L279.1 104.3L276.9 104.1L274.9 105.0L274.3 105.9L274.6 107.1Z" fill="#ffa500"/>
<path d="M257.0 105.0L256.9 106.2L256.4 107.2L255.7 108.2L255.4 109.4L255.6 110.5L256.2 111.7L256.1 112.9L255.8 114.0L255.1 115.1L254.3 115.9L253.8 116.9L253.1 117.9L252.1 118.5L253.2 118.9L254.3 119.1L255.4 119.1L256.5 119.3L257.7 119.0L258.8 119.3L259.8 119.7L261.0 119.9L262.2 119.9L263.3 120.3L264.0 121.3L265.0 121.9L265.4 123.0L266.4 123.8L267.4 124.4L268.5 124.8L269.2 123.5L270.4 122.7L271.3 121.7L271.9 120.4L272.7 119.2L273.9 118.4L274.1 117.0L274.7 115.7L274.8 114.4L274.8 113.2L274.4 112.0L274.4 110.8L274.2 109.6L274.3 108.3L274.6 107.1L274.3 105.9L273.2 105.2L272.0 105.0L271.0 104.2L269.8 103.9L268.6 103.9L267.3 104.2L266.3 103.4L265.0 103.3L263.8 103.7L262.5 103.9L261.2 103.9L260.1 103.4L258.8 103.3L257.7 102.6L256.7 101.9L255.4 101.8L256.2 102.7L256.5 103.9Z" fill="#ffa500"/>
<path d="M275.9 136.5L277.3 135.8L278.8 135.2L279.5 133.7L280.9 132.8L282.4 132.0L283.2 130.6L284.4 129.5L285.8 128.7L287.4 128.9L289.0 128.6L290.6 128.7L292.1 127.8L293.3 126.9L294.5 125.8L294.9 123.8L294.5 121.9L293.5 120.2L293.1 118.3L292.0 118.9L290.8 118.9L289.6 119.0L288.4 119.1L287.2 118.8L286.2 118.2L284.9 117.9L283.7 118.2L282.5 117.9L281.3 118.3L280.1 118.5L278.9 118.3L277.7 117.9L276.5 117.5L275.5 116.7L274.7 115.7L274.1 117.0L273.9 118.4L272.7 119.2L271.9 120.4L271.3 121.7L270.4 122.7L269.2 123.5L268.5 124.8L268.7 126.4L269.1 128.0L269.2 129.7L268.4 131.2L269.4 132.5L269.8 134.1L270.9 135.3L272.0 136.5L272.6 136.7L274.3 137.0Z" fill="#eeee00"/>
<path d="M243.4 128.7L243.8 127.2L243.5 125.7L244.0 124.2L245.1 123.0L245.7 121.6L244.7 120.8L243.9 119.9L243.0 119.0L241.8 118.6L240.6 118.1L239.6 117.2L239.2 116.0L238.6 114.9L237.5 114.2L236.5 113.3L235.8 112.2L235.6 110.9L234.6 110.1L233.3 110.0L232.6 108.9L231.4 108.3L230.1 109.6L228.7 110.6L226.9 110.7L225.3 111.5L223.4 111.2L221.8 112.0L220.4 113.2L219.1 114.4L219.5 116.2L219.0 118.0L218.5 119.7L217.8 121.3L217.2 123.0L216.6 124.7L216.7 126.6L217.4 128.3L218.4 129.2L219.3 130.2L220.6 130.6L221.5 131.6L222.7 131.8L223.9 132.1L225.1 132.3L226.3 132.5L227.5 132.8L228.7 132.6L229.9 132.9L231.1 133.1L232.4 133.2L233.6 133.4L234.8 133.9L236.1 133.8L237.4 133.8L238.6 133.8L239.6 132.8L240.9 132.5L241.9 131.4L242.6 130.0Z" fill="#ff0000"/>
<path d="M251.5 142.6L253.5 143.1L255.2 144.4L257.2 145.2L259.2 146.0L261.3 145.7L263.1 144.8L265.1 145.1L266.7 144.1L267.9 142.6L269.1 141.0L270.6 139.9L271.7 138.4L272.0 136.5L270.9 135.3L269.8 134.1L269.4 132.5L268.4 131.2L269.2 129.7L269.1 128.0L268.7 126.4L268.5 124.8L267.4 124.4L266.4 123.8L265.4 123.0L265.0 121.9L264.0 121.3L263.3 120.3L262.2 119.9L261.0 119.9L259.8 119.7L258.8 119.3L257.7 119.0L256.5 119.3L255.4 119.1L254.3 119.1L253.2 118.9L252.1 118.5L250.4 119.3L248.5 119.1L246.8 120.0L245.7 121.6L245.1 123.0L244.0 124.2L243.5 125.7L243.8 127.2L243.4 128.7L242.6 130.0L241.9 131.4L240.9 132.5L242.1 133.4L243.2 134.5L243.7 135.9L244.5 137.2L244.0 138.7L244.5 140.2L244.5 141.8L245.4 143.1L247.5 143.5L249.5 142.8Z" fill="#ff0000"/>
<path d="M275.3 141.1L275.9 142.8L277.3 143.8L278.6 144.9L279.9 146.1L281.3 147.0L282.4 148.4L283.9 149.2L285.2 150.4L287.0 150.6L288.5 151.5L288.8 151.8L290.0 150.0L293.8 145.6L297.0 142.5L298.8 138.8L300.6 136.0L300.9 133.1L300.7 132.9L300.2 131.7L299.1 131.0L298.7 130.0L297.0 127.5L296.9 126.8L296.8 126.7L295.7 126.0L294.5 125.8L293.3 126.9L292.1 127.8L290.6 128.7L289.0 128.6L287.4 128.9L285.8 128.7L284.4 129.5L283.2 130.6L282.4 132.0L280.9 132.8L279.5 133.7L278.8 135.2L277.3 135.8L275.9 136.5L274.3 137.0L272.6 136.7L274.1 137.7L274.9 139.4Z" fill="#eeee00"/>
<path d="M195.7 119.8L196.1 121.0L197.1 121.9L198.3 122.5L198.9 123.6L199.4 124.8L200.6 125.2L201.4 126.3L202.2 127.2L203.0 128.0L204.0 128.8L205.0 129.5L205.7 130.5L206.6 131.3L208.1 131.3L209.5 131.2L211.0 131.2L212.4 131.1L213.5 130.2L214.8 129.5L216.3 129.3L217.4 128.3L216.7 126.6L216.6 124.7L217.2 123.0L217.8 121.3L218.5 119.7L219.0 118.0L219.5 116.2L219.1 114.4L217.9 113.8L216.8 112.9L216.0 111.7L215.0 110.8L213.1 109.8L211.1 109.3L209.1 109.4L207.0 109.3L204.9 109.8L202.9 109.1L201.1 110.3L199.0 110.3L198.1 111.8L197.6 113.5L196.1 114.5L195.2 116.1L195.4 117.3L195.7 118.5Z" fill="#ffa500"/>
<path d="M187.9 116.1L186.3 116.3L184.8 116.5L183.2 116.4L181.9 115.6L180.5 114.8L180.0 116.4L178.7 117.4L177.4 118.2L176.0 118.9L175.6 120.6L174.4 121.7L174.5 123.3L174.6 124.9L174.9 126.1L175.7 127.1L176.4 128.1L177.3 128.9L178.2 129.7L179.4 130.2L180.2 131.2L180.4 132.5L181.6 132.9L182.4 133.9L183.2 134.8L183.9 135.8L184.7 136.8L185.7 137.5L186.4 138.6L186.4 139.9L186.5 139.9L188.1 139.9L189.7 140.2L191.2 139.6L192.9 139.7L194.5 139.8L196.0 140.1L197.6 139.8L199.2 140.1L199.9 138.8L201.1 137.9L201.6 136.5L202.8 135.6L203.9 134.6L204.7 133.4L205.4 132.1L206.6 131.3L205.7 130.5L205.0 129.5L204.0 128.8L203.0 128.0L202.2 127.2L201.4 126.3L200.6 125.2L199.4 124.8L198.9 123.6L198.3 122.5L197.1 121.9L196.1 121.0L195.7 119.8L195.7 118.5L195.4 117.3L195.2 116.1L193.8 116.6L192.3 116.8L190.8 116.3L189.3 116.7Z" fill="#eeee00"/>
<path d="M184.7 136.8L183.9 135.8L183.2 134.8L182.4 133.9L181.6 132.9L180.4 132.5L180.2 131.2L179.4 130.2L178.2 129.7L177.3 128.9L176.4 128.1L175.7 127.1L174.9 126.1L174.6 124.9L173.2 124.4L171.7 124.6L170.3 124.8L168.8 125.0L167.4 125.2L166.0 125.7L164.5 125.8L163.2 126.5L163.6 128.7L163.5 130.8L163.0 132.9L162.7 135.1L162.9 137.2L162.3 139.3L162.4 140.5L162.0 141.6L161.2 142.4L160.7 143.3L162.3 144.2L163.5 145.6L164.6 145.2L165.8 145.4L166.7 144.6L167.9 144.4L169.0 144.3L170.2 144.3L171.3 144.1L172.4 144.2L173.5 144.6L174.6 144.9L175.5 145.7L176.6 146.2L177.7 146.2L178.9 146.2L180.0 146.2L181.2 146.5L181.9 145.6L182.0 144.5L183.0 143.9L183.9 143.3L185.3 141.7L186.4 139.9L186.4 138.6L185.7 137.5Z" fill="#eeee00"/>
<path d="M244.0 138.7L244.5 137.2L243.7 135.9L243.2 134.5L242.1 133.4L240.9 132.5L239.6 132.8L238.6 133.8L237.4 133.8L236.1 133.8L234.8 133.9L233.6 133.4L232.4 133.2L231.1 133.1L229.9 132.9L228.7 132.6L227.5 132.8L226.3 132.5L225.1 132.3L223.9 132.1L222.7 131.8L221.5 131.6L222.0 132.8L222.8 133.9L223.1 135.2L223.4 136.4L223.6 137.8L223.1 139.0L223.5 140.3L223.1 141.6L222.8 143.0L222.9 144.3L223.5 145.6L223.7 146.9L223.0 148.0L222.6 149.3L221.9 150.4L221.5 151.7L223.5 152.5L225.7 152.3L226.7 152.5L227.7 153.0L228.8 152.8L229.9 152.4L230.9 152.1L232.1 152.0L233.2 152.0L234.2 152.7L235.2 153.2L235.8 154.2L236.9 154.4L237.8 155.0L238.6 153.2L240.0 152.0L240.4 150.1L240.4 148.3L241.4 146.8L242.9 145.7L244.3 144.6L245.4 143.1L244.5 141.8L244.5 140.2Z" fill="#ff0000"/>
<path d="M241.4 146.8L240.4 148.3L240.4 150.1L240.0 152.0L238.6 153.2L237.8 155.0L238.5 156.7L238.4 158.6L238.5 160.5L238.2 162.3L239.7 163.5L240.4 165.3L241.0 167.1L241.1 169.0L242.8 169.9L244.8 170.5L246.7 170.1L248.7 170.1L250.7 169.9L252.3 168.7L254.3 168.7L256.2 168.3L257.4 167.4L258.8 166.9L259.8 165.8L260.8 164.6L261.7 163.4L262.9 162.5L263.0 160.9L263.8 159.6L263.9 157.8L264.2 155.9L264.0 154.0L264.7 152.3L264.5 150.3L263.9 148.5L262.8 146.9L261.3 145.7L259.2 146.0L257.2 145.2L255.2 144.4L253.5 143.1L251.5 142.6L249.5 142.8L247.5 143.5L245.4 143.1L244.3 144.6L242.9 145.7Z" fill="#eeee00"/>
<path d="M264.5 150.3L264.7 152.3L264.0 154.0L264.2 155.9L263.9 157.8L263.8 159.6L264.5 160.6L265.1 161.6L266.3 161.9L267.3 162.7L268.4 163.0L269.6 163.1L270.6 163.5L271.6 164.2L272.9 164.2L273.9 163.5L275.1 163.4L276.2 163.8L277.4 163.8L278.4 164.4L279.6 164.5L280.6 165.2L281.8 163.4L283.1 162.8L283.0 162.5L284.4 157.5L287.5 153.8L288.8 151.8L288.5 151.5L287.0 150.6L285.2 150.4L283.9 149.2L282.4 148.4L281.3 147.0L279.9 146.1L278.6 144.9L277.3 143.8L275.9 142.8L275.3 141.1L274.9 139.4L274.1 137.7L272.6 136.7L272.0 136.5L271.7 138.4L270.6 139.9L269.1 141.0L267.9 142.6L266.7 144.1L265.1 145.1L263.1 144.8L261.3 145.7L262.8 146.9L263.9 148.5Z" fill="#ffa500"/>
<path d="M203.9 134.6L202.8 135.6L201.6 136.5L201.1 137.9L199.9 138.8L199.2 140.1L199.8 141.4L200.4 142.8L200.5 144.2L200.2 145.7L201.4 146.4L202.4 147.6L202.6 149.0L203.4 150.3L204.4 151.3L205.5 152.3L206.7 153.0L207.6 154.2L208.4 155.4L208.4 156.9L208.7 158.4L209.2 159.7L210.5 158.2L212.0 157.1L212.7 155.3L214.4 154.2L216.2 153.7L218.0 153.0L219.7 152.3L221.5 151.7L221.9 150.4L222.6 149.3L223.0 148.0L223.7 146.9L223.5 145.6L222.9 144.3L222.8 143.0L223.1 141.6L223.5 140.3L223.1 139.0L223.6 137.8L223.4 136.4L223.1 135.2L222.8 133.9L222.0 132.8L221.5 131.6L220.6 130.6L219.3 130.2L218.4 129.2L217.4 128.3L216.3 129.3L214.8 129.5L213.5 130.2L212.4 131.1L211.0 131.2L209.5 131.2L208.1 131.3L206.6 131.3L205.4 132.1L204.7 133.4Z" fill="#ffa500"/>
<path d="M183.9 143.3L183.0 143.9L182.0 144.5L181.9 145.6L181.2 146.5L181.0 147.6L181.1 148.8L182.0 149.6L182.3 150.7L182.6 152.9L182.6 155.1L182.4 156.2L182.9 157.3L183.5 158.3L184.0 159.3L184.1 160.4L184.2 161.6L183.9 162.7L183.5 163.7L184.7 164.1L185.9 164.7L187.2 164.9L188.5 164.8L189.5 165.6L190.8 165.9L192.1 166.3L193.4 166.3L194.9 164.7L196.6 163.3L197.5 162.7L198.5 162.3L199.6 162.0L200.7 162.0L201.8 162.3L203.0 162.1L204.1 162.2L205.2 162.2L206.3 162.0L207.1 161.2L208.0 160.5L209.1 160.2L209.2 159.7L208.7 158.4L208.4 156.9L208.4 155.4L207.6 154.2L206.7 153.0L205.5 152.3L204.4 151.3L203.4 150.3L202.6 149.0L202.4 147.6L201.4 146.4L200.2 145.7L200.5 144.2L200.4 142.8L199.8 141.4L199.2 140.1L197.6 139.8L196.0 140.1L194.5 139.8L192.9 139.7L191.2 139.6L189.7 140.2L188.1 139.9L186.5 139.9L186.4 139.9L185.3 141.7Z" fill="#ffa500"/>
<path d="M239.7 163.5L238.2 162.3L238.5 160.5L238.4 158.6L238.5 156.7L237.8 155.0L236.9 154.4L235.8 154.2L235.2 153.2L234.2 152.7L233.2 152.0L232.1 152.0L230.9 152.1L229.9 152.4L228.8 152.8L227.7 153.0L226.7 152.5L225.7 152.3L223.5 152.5L221.5 151.7L219.7 152.3L218.0 153.0L216.2 153.7L214.4 154.2L212.7 155.3L212.0 157.1L210.5 158.2L209.2 159.7L209.1 160.2L209.8 161.8L209.8 163.6L210.4 165.2L210.9 166.9L212.0 168.4L213.6 169.2L214.7 170.6L215.7 172.1L216.9 172.1L218.1 172.7L219.3 172.7L220.5 173.1L221.7 172.7L222.9 172.6L224.1 172.9L225.4 172.6L226.7 172.8L227.9 173.3L229.2 173.1L230.3 172.4L231.6 172.9L232.4 173.9L233.7 173.6L235.0 174.0L236.7 172.8L237.5 170.9L239.0 169.5L241.0 169.1L241.1 169.0L241.0 167.1L240.4 165.3Z" fill="#ffa500"/>
<path d="M210.2 183.0L210.8 181.0L211.7 179.1L213.2 177.7L214.0 175.7L214.4 173.7L215.7 172.1L214.7 170.6L213.6 169.2L212.0 168.4L210.9 166.9L210.4 165.2L209.8 163.6L209.8 161.8L209.1 160.2L208.0 160.5L207.1 161.2L206.3 162.0L205.2 162.2L204.1 162.2L203.0 162.1L201.8 162.3L200.7 162.0L199.6 162.0L198.5 162.3L197.5 162.7L196.6 163.3L194.9 164.7L193.4 166.3L193.1 167.5L193.1 168.8L192.7 170.0L191.8 170.9L192.0 172.1L192.0 173.3L192.5 174.5L192.7 175.7L193.7 176.5L193.9 177.8L194.3 179.0L194.0 180.2L194.1 181.4L194.4 182.6L195.2 183.4L195.7 184.6L197.3 185.7L199.3 185.9L201.0 186.7L203.0 186.7L204.9 186.9L206.7 187.2L208.6 186.9L210.5 187.3L210.8 187.2L210.5 185.1Z" fill="#eeee00"/>
<path d="M175.0 174.0L175.0 175.3L175.9 176.2L176.1 177.5L176.8 178.5L178.0 179.0L178.1 180.3L178.9 181.3L178.9 182.5L178.5 183.7L179.2 184.7L179.3 185.9L179.5 187.1L179.8 188.2L181.5 188.6L183.3 189.1L184.4 190.6L186.0 191.5L187.5 191.1L189.0 190.7L190.2 189.7L191.3 188.6L192.5 187.7L193.6 186.7L194.5 185.5L195.7 184.6L195.2 183.4L194.4 182.6L194.1 181.4L194.0 180.2L194.3 179.0L193.9 177.8L193.7 176.5L192.7 175.7L192.5 174.5L192.0 173.3L192.0 172.1L191.8 170.9L192.7 170.0L193.1 168.8L193.1 167.5L193.4 166.3L192.1 166.3L190.8 165.9L189.5 165.6L188.5 164.8L187.2 164.9L185.9 164.7L184.7 164.1L183.5 163.7L182.0 163.9L180.6 164.4L179.6 165.6L178.2 166.2L177.4 167.5L176.2 168.4L175.4 169.6L174.2 170.5L174.9 171.6L174.8 172.8Z" fill="#eeee00"/>
<path d="M214.1 188.0L215.1 188.6L216.3 188.4L217.5 188.7L218.4 189.5L219.6 189.7L220.6 190.3L221.6 190.9L222.4 191.7L223.5 192.2L224.7 192.5L225.8 193.0L226.8 193.7L227.3 194.9L228.4 193.3L229.6 191.6L231.6 191.1L233.4 190.1L234.3 188.2L234.5 186.0L233.5 184.1L233.1 182.0L233.3 179.9L233.3 177.8L234.5 176.0L235.0 174.0L233.7 173.6L232.4 173.9L231.6 172.9L230.3 172.4L229.2 173.1L227.9 173.3L226.7 172.8L225.4 172.6L224.1 172.9L222.9 172.6L221.7 172.7L220.5 173.1L219.3 172.7L218.1 172.7L216.9 172.1L215.7 172.1L214.4 173.7L214.0 175.7L213.2 177.7L211.7 179.1L210.8 181.0L210.2 183.0L210.5 185.1L210.8 187.2L211.9 187.2L213.1 187.4Z" fill="#ffa500"/>
<path d="M254.6 194.3L254.4 193.2L254.0 191.4L252.7 190.1L251.9 188.5L250.3 187.6L249.5 186.0L248.7 184.5L248.2 182.8L247.1 181.5L247.5 179.7L246.9 177.9L245.9 176.3L245.5 174.6L244.9 172.8L243.5 171.6L242.2 170.4L241.0 169.1L239.0 169.5L237.5 170.9L236.7 172.8L235.0 174.0L234.5 176.0L233.3 177.8L233.3 179.9L233.1 182.0L233.5 184.1L234.5 186.0L234.3 188.2L233.4 190.1L234.6 190.8L236.1 190.9L237.5 191.2L238.8 190.6L240.0 191.3L241.4 191.5L242.7 192.1L244.1 191.9L245.3 192.7L246.0 194.0L247.0 195.0L248.4 195.3L249.8 195.5L250.9 196.4L252.1 197.1L253.4 197.6L253.7 197.6L253.8 196.5L254.2 195.4Z" fill="#ffffff"/>
<path d="M258.8 176.6L258.1 175.0L257.4 173.4L257.2 171.6L256.9 169.9L256.2 168.3L254.3 168.7L252.3 168.7L250.7 169.9L248.7 170.1L246.7 170.1L244.8 170.5L242.8 169.9L241.1 169.0L241.0 169.1L242.2 170.4L243.5 171.6L244.9 172.8L245.5 174.6L245.9 176.3L246.9 177.9L247.5 179.7L247.1 181.5L248.2 182.8L248.7 184.5L249.5 186.0L250.3 187.6L251.9 188.5L252.7 190.1L254.0 191.4L254.4 193.2L255.8 191.7L256.9 189.9L257.0 187.8L258.2 186.1L259.9 185.0L261.2 183.4L261.8 181.4L263.1 179.8L261.5 178.8L259.9 178.0Z" fill="#eeee00"/>
<path d="M278.3 174.8L277.8 172.7L278.5 170.8L280.0 169.3L280.5 167.3L280.6 165.2L279.6 164.5L278.4 164.4L277.4 163.8L276.2 163.8L275.1 163.4L273.9 163.5L272.9 164.2L271.6 164.2L270.6 163.5L269.6 163.1L268.4 163.0L267.3 162.7L266.3 161.9L265.1 161.6L264.5 160.6L263.8 159.6L263.0 160.9L262.9 162.5L261.7 163.4L260.8 164.6L259.8 165.8L258.8 166.9L257.4 167.4L256.2 168.3L256.9 169.9L257.2 171.6L257.4 173.4L258.1 175.0L258.8 176.6L259.9 178.0L261.5 178.8L263.1 179.8L265.1 179.3L267.2 178.9L269.1 179.9L271.2 180.2L273.2 179.6L275.3 179.9L277.4 179.8L279.3 180.7L278.9 178.6L279.5 176.5Z" fill="#eeee00"/>
<path d="M282.7 179.8L284.1 178.7L285.5 177.7L287.2 178.0L288.9 177.9L290.6 177.7L292.3 178.3L293.9 177.8L295.6 178.1L297.3 178.5L298.9 178.2L300.6 178.8L300.7 178.9L301.9 177.0L301.2 173.8L298.8 168.8L297.5 165.0L295.0 162.5L290.0 163.0L286.0 165.0L283.8 165.6L283.1 162.8L281.8 163.4L280.6 165.2L280.5 167.3L280.0 169.3L278.5 170.8L277.8 172.7L278.3 174.8L279.5 176.5L278.9 178.6L279.3 180.7L279.5 181.0L280.9 179.9Z" fill="#ffffff"/>
<path d="M279.0 185.8L279.5 187.4L280.4 188.2L280.7 189.3L281.5 190.1L282.1 191.1L282.5 192.1L283.0 193.1L283.6 194.1L284.3 195.0L285.1 195.8L285.8 196.8L286.3 197.9L286.8 198.9L288.0 199.2L288.8 200.0L290.1 200.2L291.0 201.0L293.0 201.5L295.1 201.9L297.0 202.3L295.6 200.0L300.0 198.0L303.8 196.2L305.6 193.0L305.0 190.0L302.5 186.2L300.0 182.5L298.0 182.0L300.0 180.0L300.7 178.9L300.6 178.8L298.9 178.2L297.3 178.5L295.6 178.1L293.9 177.8L292.3 178.3L290.6 177.7L288.9 177.9L287.2 178.0L285.5 177.7L284.1 178.7L282.7 179.8L280.9 179.9L279.5 181.0L279.4 182.6L279.1 184.2Z" fill="#ffffff"/>
<path d="M259.4 198.4L261.0 199.1L262.8 198.7L264.6 199.3L266.3 199.8L268.1 199.9L269.9 201.1L270.8 203.0L272.4 204.4L273.5 206.2L274.0 208.3L274.4 210.4L276.1 211.8L277.3 213.6L278.4 213.2L279.4 212.4L280.6 212.3L281.8 212.0L282.4 210.9L283.1 209.9L284.1 209.2L285.0 208.3L286.0 207.4L286.7 206.3L287.0 205.0L286.8 203.7L287.9 203.0L288.9 202.3L290.1 201.9L291.0 201.0L290.1 200.2L288.8 200.0L288.0 199.2L286.8 198.9L286.3 197.9L285.8 196.8L285.1 195.8L284.3 195.0L283.6 194.1L283.0 193.1L282.5 192.1L282.1 191.1L281.5 190.1L280.7 189.3L280.4 188.2L279.5 187.4L279.0 185.8L279.1 184.2L279.4 182.6L279.5 181.0L279.3 180.7L277.4 179.8L275.3 179.9L273.2 179.6L271.2 180.2L269.1 179.9L267.2 178.9L265.1 179.3L263.1 179.8L261.8 181.4L261.2 183.4L259.9 185.0L258.2 186.1L257.0 187.8L256.9 189.9L255.8 191.7L254.4 193.2L254.6 194.3L254.2 195.4L253.8 196.5L253.7 197.6L254.1 197.9L255.8 198.6L257.6 198.2Z" fill="#eeee00"/>
<path d="M204.9 186.9L203.0 186.7L201.0 186.7L199.3 185.9L197.3 185.7L195.7 184.6L194.5 185.5L193.6 186.7L192.5 187.7L191.3 188.6L190.2 189.7L189.0 190.7L187.5 191.1L186.0 191.5L186.7 192.8L187.0 194.2L186.7 195.6L186.4 197.1L186.6 198.5L186.7 199.9L187.3 201.3L188.3 202.4L190.3 202.4L192.2 201.8L194.1 202.5L196.1 202.9L198.1 203.2L199.7 204.5L201.1 205.8L202.8 206.8L203.9 206.2L205.1 205.7L205.6 204.5L206.6 203.7L206.7 202.4L207.3 201.3L208.0 200.2L208.0 198.9L209.0 198.1L209.7 197.1L210.1 195.8L209.8 194.4L210.7 193.5L211.4 192.3L211.1 191.0L210.8 189.8L210.5 188.6L210.5 187.3L208.6 186.9L206.7 187.2Z" fill="#ffffff"/>
<path d="M211.1 191.0L211.4 192.3L210.7 193.5L209.8 194.4L210.1 195.8L209.7 197.1L209.0 198.1L208.0 198.9L208.0 200.2L207.3 201.3L206.7 202.4L206.6 203.7L205.6 204.5L205.1 205.7L207.1 206.4L209.1 206.7L211.0 207.7L213.0 208.3L214.8 209.2L216.8 209.9L218.6 211.0L220.8 211.2L221.9 210.9L222.7 210.2L223.7 209.5L224.7 209.2L225.3 208.2L225.6 207.1L225.9 206.0L226.8 205.2L226.8 203.9L227.1 202.5L226.7 201.2L226.1 200.0L226.8 198.9L227.4 197.6L227.0 196.3L227.3 194.9L226.8 193.7L225.8 193.0L224.7 192.5L223.5 192.2L222.4 191.7L221.6 190.9L220.6 190.3L219.6 189.7L218.4 189.5L217.5 188.7L216.3 188.4L215.1 188.6L214.1 188.0L213.1 187.4L211.9 187.2L210.8 187.2L210.5 187.3L210.5 188.6L210.8 189.8Z" fill="#ffffff"/>
<path d="M249.8 195.5L248.4 195.3L247.0 195.0L246.0 194.0L245.3 192.7L244.1 191.9L242.7 192.1L241.4 191.5L240.0 191.3L238.8 190.6L237.5 191.2L236.1 190.9L234.6 190.8L233.4 190.1L231.6 191.1L229.6 191.6L228.4 193.3L227.3 194.9L227.0 196.3L227.4 197.6L226.8 198.9L226.1 200.0L226.7 201.2L227.1 202.5L226.8 203.9L226.8 205.2L228.5 206.0L230.3 206.5L232.2 206.2L234.1 206.5L236.0 207.1L237.4 208.3L239.0 209.4L240.4 210.6L240.8 209.5L241.7 208.6L241.7 207.4L242.2 206.3L243.4 205.8L244.3 204.9L244.8 203.8L245.7 203.0L246.4 202.0L247.4 201.2L248.2 200.3L248.8 199.2L249.9 198.6L250.8 197.8L252.1 197.7L253.4 197.6L252.1 197.1L250.9 196.4Z" fill="#7fff00"/>
<path d="M250.8 197.8L249.9 198.6L248.8 199.2L248.2 200.3L247.4 201.2L246.4 202.0L245.7 203.0L244.8 203.8L244.3 204.9L243.4 205.8L242.2 206.3L241.7 207.4L241.7 208.6L240.8 209.5L240.4 210.6L240.6 212.3L240.2 213.9L241.2 215.3L241.4 217.0L241.9 218.6L242.9 220.1L242.9 221.8L242.5 223.4L244.0 223.8L245.1 224.9L246.6 225.6L248.1 225.6L249.7 225.5L251.1 225.2L252.6 224.9L254.1 224.5L255.2 222.7L256.8 221.1L257.3 219.1L258.2 217.1L258.2 215.8L258.9 214.6L259.2 213.3L259.7 212.1L258.9 211.0L258.8 209.6L258.3 208.4L258.3 207.0L257.5 206.0L257.0 204.8L256.7 203.6L256.2 202.4L256.1 201.1L255.2 200.1L254.5 199.1L254.1 197.9L253.7 197.6L253.4 197.6L252.1 197.7Z" fill="#ffffff"/>
<path d="M256.2 202.4L256.7 203.6L257.0 204.8L257.5 206.0L258.3 207.0L258.3 208.4L258.8 209.6L258.9 211.0L259.7 212.1L259.2 213.3L258.9 214.6L258.2 215.8L258.2 217.1L257.3 219.1L256.8 221.1L255.2 222.7L254.1 224.5L255.2 225.6L255.8 227.1L256.7 228.3L257.7 229.5L258.9 229.8L260.0 230.2L261.1 229.5L262.3 229.4L263.1 230.4L264.3 230.8L265.5 231.2L266.7 230.8L267.7 230.1L268.9 229.8L269.8 229.0L271.0 228.8L272.1 229.4L273.3 229.7L274.5 229.9L275.7 229.5L276.0 228.1L276.1 226.7L275.8 225.3L276.2 223.9L277.3 222.9L277.8 221.6L278.5 220.3L279.1 219.0L278.5 217.8L277.6 216.7L277.2 215.4L277.2 214.0L277.3 213.6L276.1 211.8L274.4 210.4L274.0 208.3L273.5 206.2L272.4 204.4L270.8 203.0L269.9 201.1L268.1 199.9L266.3 199.8L264.6 199.3L262.8 198.7L261.0 199.1L259.4 198.4L257.6 198.2L255.8 198.6L254.1 197.9L254.5 199.1L255.2 200.1L256.1 201.1Z" fill="#eeee00"/>
<path d="M278.5 217.8L279.1 219.0L280.5 218.8L281.9 218.9L283.1 218.1L284.4 217.5L285.8 217.3L287.2 217.8L288.5 218.4L289.7 219.2L291.0 219.7L292.2 220.4L293.1 221.5L294.1 222.6L295.4 223.2L296.8 223.3L298.2 222.8L299.6 222.9L301.2 221.5L301.9 220.0L301.9 220.0L300.6 216.2L301.9 213.0L304.4 211.2L303.8 208.8L300.0 206.2L297.5 203.0L297.0 202.3L295.1 201.9L293.0 201.5L291.0 201.0L290.1 201.9L288.9 202.3L287.9 203.0L286.8 203.7L287.0 205.0L286.7 206.3L286.0 207.4L285.0 208.3L284.1 209.2L283.1 209.9L282.4 210.9L281.8 212.0L280.6 212.3L279.4 212.4L278.4 213.2L277.3 213.6L277.2 214.0L277.2 215.4L277.6 216.7Z" fill="#ffffff"/>
<path d="M184.6 205.7L183.1 206.7L182.3 208.2L181.6 209.7L180.7 211.2L179.8 212.6L179.8 214.3L179.9 216.0L181.0 217.4L181.6 219.0L182.9 219.0L184.2 218.6L185.3 219.3L186.6 219.4L187.5 220.4L188.7 220.9L190.0 220.9L191.2 221.6L192.4 221.9L193.6 222.4L195.0 222.1L196.2 222.6L197.1 223.6L197.9 224.5L198.8 225.6L200.0 226.1L199.8 224.9L200.1 223.6L200.5 222.4L200.9 221.3L201.3 220.0L200.9 218.8L201.1 217.6L200.6 216.4L200.7 215.1L200.9 213.8L201.9 212.9L202.7 211.8L202.6 210.6L202.6 209.3L202.7 208.1L202.8 206.8L201.1 205.8L199.7 204.5L198.1 203.2L196.1 202.9L194.1 202.5L192.2 201.8L190.3 202.4L188.3 202.4L187.0 203.5L185.3 204.1Z" fill="#eeee00"/>
<path d="M176.7 189.1L175.6 189.3L174.8 190.0L174.1 190.9L173.0 191.2L172.0 191.6L170.0 192.4L168.4 193.8L166.4 194.5L164.5 195.4L163.9 196.8L163.0 197.9L162.4 199.3L162.5 200.8L163.7 201.6L164.6 202.6L165.2 203.9L166.0 205.0L166.5 206.3L167.0 207.6L167.8 208.7L169.0 209.5L170.4 209.5L171.7 210.1L173.1 210.5L174.5 210.5L175.9 211.1L177.2 211.6L178.6 211.9L179.8 212.6L180.7 211.2L181.6 209.7L182.3 208.2L183.1 206.7L184.6 205.7L185.3 204.1L187.0 203.5L188.3 202.4L187.3 201.3L186.7 199.9L186.6 198.5L186.4 197.1L186.7 195.6L187.0 194.2L186.7 192.8L186.0 191.5L184.4 190.6L183.3 189.1L181.5 188.6L179.8 188.2L178.7 188.6L177.8 189.3Z" fill="#7fff00"/>
<path d="M202.6 209.3L202.6 210.6L202.7 211.8L201.9 212.9L200.9 213.8L200.7 215.1L200.6 216.4L201.1 217.6L200.9 218.8L201.3 220.0L200.9 221.3L200.5 222.4L200.1 223.6L199.8 224.9L200.0 226.1L200.1 226.3L201.6 227.1L203.3 227.0L204.8 227.6L206.3 228.1L208.2 229.0L209.8 230.3L210.9 232.1L212.1 233.8L212.6 235.9L213.6 237.7L215.7 238.5L216.9 240.3L217.7 239.4L218.8 238.7L219.3 237.6L219.6 236.4L220.7 235.9L221.8 235.5L223.0 235.1L224.1 234.6L224.9 233.8L225.8 232.9L227.0 233.0L228.2 232.4L229.3 232.2L230.4 231.9L231.5 231.4L232.6 231.2L231.5 230.7L230.5 229.9L230.1 228.6L229.0 227.8L228.7 226.5L229.0 225.2L228.5 224.1L228.0 222.9L226.9 222.3L226.1 221.4L225.6 220.3L224.5 219.6L223.9 218.5L223.1 217.6L222.1 216.9L221.0 216.4L220.7 215.1L220.9 213.8L220.5 212.5L220.8 211.2L218.6 211.0L216.8 209.9L214.8 209.2L213.0 208.3L211.0 207.7L209.1 206.7L207.1 206.4L205.1 205.7L203.9 206.2L202.8 206.8L202.7 208.1Z" fill="#eeee00"/>
<path d="M236.0 207.1L234.1 206.5L232.2 206.2L230.3 206.5L228.5 206.0L226.8 205.2L225.9 206.0L225.6 207.1L225.3 208.2L224.7 209.2L223.7 209.5L222.7 210.2L221.9 210.9L220.8 211.2L220.5 212.5L220.9 213.8L220.7 215.1L221.0 216.4L222.1 216.9L223.1 217.6L223.9 218.5L224.5 219.6L225.6 220.3L226.1 221.4L226.9 222.3L228.0 222.9L228.5 224.1L229.0 225.2L228.7 226.5L229.0 227.8L230.1 228.6L230.5 229.9L231.5 230.7L232.6 231.2L233.2 231.3L234.7 230.7L236.3 230.5L237.8 229.9L239.0 228.8L239.5 227.2L240.5 225.9L241.6 224.8L242.5 223.4L242.9 221.8L242.9 220.1L241.9 218.6L241.4 217.0L241.2 215.3L240.2 213.9L240.6 212.3L240.4 210.6L239.0 209.4L237.4 208.3Z" fill="#ffffff"/>
<path d="M142.2 142.8L141.0 141.8L139.6 141.9L138.3 142.2L136.9 142.0L135.5 141.8L134.2 141.2L132.8 141.1L131.5 141.1L130.1 140.8L128.7 141.2L127.3 141.5L126.2 142.5L125.3 143.7L123.9 143.8L122.5 143.7L121.0 143.5L120.0 144.0L120.0 145.0L122.0 150.0L124.4 155.0L127.0 158.8L130.0 162.5L132.4 164.1L132.9 163.8L134.4 163.1L135.9 163.3L137.5 163.5L139.0 163.3L140.5 163.1L142.1 162.8L143.1 161.6L144.5 160.8L145.2 159.0L145.4 157.1L145.7 155.3L146.1 153.4L145.7 151.6L145.8 149.7L145.6 147.8L145.8 145.9L144.4 145.2L143.2 144.2Z" fill="#006d2c"/>
<path d="M162.5 170.3L163.5 169.4L164.1 167.9L165.1 166.7L164.9 165.1L165.6 163.6L164.9 162.1L165.0 160.6L165.1 159.0L165.0 157.5L165.8 156.1L166.0 154.5L165.7 152.9L166.1 151.3L165.0 150.1L164.2 148.7L164.3 147.0L163.5 145.6L162.3 144.2L160.7 143.3L158.8 142.5L156.9 142.9L155.0 143.4L153.1 143.7L151.2 143.8L149.2 144.1L147.8 145.4L145.8 145.9L145.6 147.8L145.8 149.7L145.7 151.6L146.1 153.4L145.7 155.3L145.4 157.1L145.2 159.0L144.5 160.8L145.4 162.0L146.3 163.3L147.7 164.0L149.3 164.3L149.9 165.8L150.2 167.3L151.2 168.6L152.5 169.4L154.2 169.1L155.8 169.8L157.4 170.2L158.6 171.5L159.9 171.1L161.3 170.9Z" fill="#eeee00"/>
<path d="M167.8 169.7L169.0 168.8L170.3 169.1L171.5 169.7L172.9 169.9L174.2 170.5L175.4 169.6L176.2 168.4L177.4 167.5L178.2 166.2L179.6 165.6L180.6 164.4L182.0 163.9L183.5 163.7L183.9 162.7L184.2 161.6L184.1 160.4L184.0 159.3L183.5 158.3L182.9 157.3L182.4 156.2L182.6 155.1L182.6 152.9L182.3 150.7L182.0 149.6L181.1 148.8L181.0 147.6L181.2 146.5L180.0 146.2L178.9 146.2L177.7 146.2L176.6 146.2L175.5 145.7L174.6 144.9L173.5 144.6L172.4 144.2L171.3 144.1L170.2 144.3L169.0 144.3L167.9 144.4L166.7 144.6L165.8 145.4L164.6 145.2L163.5 145.6L164.3 147.0L164.2 148.7L165.0 150.1L166.1 151.3L165.7 152.9L166.0 154.5L165.8 156.1L165.0 157.5L165.1 159.0L165.0 160.6L164.9 162.1L165.6 163.6L164.9 165.1L165.1 166.7L164.1 167.9L163.5 169.4L165.0 169.3L166.3 169.9Z" fill="#eeee00"/>
<path d="M149.3 164.3L147.7 164.0L146.3 163.3L145.4 162.0L144.5 160.8L143.1 161.6L142.1 162.8L140.5 163.1L139.0 163.3L137.5 163.5L135.9 163.3L134.4 163.1L132.9 163.8L132.4 164.1L133.8 165.0L137.5 167.0L138.0 169.4L138.8 172.5L137.0 177.0L137.3 179.6L137.5 181.2L138.8 183.8L142.0 187.0L142.7 188.0L144.3 188.6L145.9 189.5L146.0 190.6L145.9 191.8L146.4 192.8L146.9 193.9L147.3 194.9L148.0 195.8L148.5 196.9L148.9 197.9L150.0 198.8L151.5 199.0L152.1 200.4L153.4 201.1L154.8 201.2L156.1 201.8L157.4 201.7L158.8 201.7L160.7 201.2L162.5 200.8L162.4 199.3L163.0 197.9L163.9 196.8L164.5 195.4L163.3 193.8L163.0 191.8L161.1 191.2L159.9 189.5L159.3 187.8L158.9 185.9L157.7 184.4L157.6 182.5L157.7 181.0L157.9 179.5L158.3 178.1L159.5 177.1L158.9 175.8L158.5 174.4L158.5 172.9L158.6 171.5L157.4 170.2L155.8 169.8L154.2 169.1L152.5 169.4L151.2 168.6L150.2 167.3L149.9 165.8ZM139.0 188.6L140.4 188.4L139.0 187.0L138.8 188.3Z" fill="#7fff00"/>
<path d="M158.9 175.8L159.5 177.1L158.3 178.1L157.9 179.5L157.7 181.0L157.6 182.5L157.7 184.4L158.9 185.9L159.3 187.8L159.9 189.5L161.1 191.2L163.0 191.8L163.3 193.8L164.5 195.4L166.4 194.5L168.4 193.8L170.0 192.4L172.0 191.6L173.0 191.2L174.1 190.9L174.8 190.0L175.6 189.3L176.7 189.1L177.8 189.3L178.7 188.6L179.8 188.2L179.5 187.1L179.3 185.9L179.2 184.7L178.5 183.7L178.9 182.5L178.9 181.3L178.1 180.3L178.0 179.0L176.8 178.5L176.1 177.5L175.9 176.2L175.0 175.3L175.0 174.0L174.8 172.8L174.9 171.6L174.2 170.5L172.9 169.9L171.5 169.7L170.3 169.1L169.0 168.8L167.8 169.7L166.3 169.9L165.0 169.3L163.5 169.4L162.5 170.3L161.3 170.9L159.9 171.1L158.6 171.5L158.5 172.9L158.5 174.4Z" fill="#7fff00"/>
<path d="M146.0 196.0L143.5 192.5L141.0 189.0L140.4 188.4L139.0 188.6L138.8 188.3L138.0 192.5L137.5 198.8L136.2 205.0L136.0 206.8L135.7 208.2L135.6 209.0L136.8 210.5L135.3 212.0L135.0 215.0L133.8 221.2L133.6 222.0L134.4 222.4L136.4 222.3L138.3 222.4L140.2 222.7L142.0 223.6L144.0 224.0L145.9 223.7L147.9 223.2L149.8 223.7L151.7 224.1L153.3 225.3L155.0 226.3L156.5 227.5L156.7 226.0L156.6 224.6L157.0 223.2L158.0 222.0L158.9 220.9L160.1 220.1L160.8 218.8L161.0 217.3L161.8 215.9L163.2 215.3L164.7 215.2L166.0 214.5L167.0 213.3L168.0 212.3L168.3 210.8L169.0 209.5L167.8 208.7L167.0 207.6L166.5 206.3L166.0 205.0L165.2 203.9L164.6 202.6L163.7 201.6L162.5 200.8L160.7 201.2L158.8 201.7L157.4 201.7L156.1 201.8L154.8 201.2L153.4 201.1L152.1 200.4L151.5 199.0L150.0 198.8L148.9 197.9L148.5 196.9L148.0 195.8L147.3 194.9L146.9 193.9L146.4 192.8L145.9 191.8L146.0 190.6L145.9 189.5L144.3 188.6L142.7 188.0L143.0 188.5L145.0 192.0Z" fill="#006d2c"/>
<path d="M159.0 231.0L160.2 230.9L161.3 230.8L162.3 230.4L163.4 230.6L164.5 230.9L165.6 231.1L166.6 231.4L167.8 231.3L168.7 230.6L169.8 230.3L171.0 230.3L172.1 230.4L173.2 230.4L174.3 230.6L175.3 231.2L176.6 229.8L177.2 228.1L177.4 226.3L177.3 224.5L177.7 222.7L178.6 221.1L180.3 220.3L181.6 219.0L181.0 217.4L179.9 216.0L179.8 214.3L179.8 212.6L178.6 211.9L177.2 211.6L175.9 211.1L174.5 210.5L173.1 210.5L171.7 210.1L170.4 209.5L169.0 209.5L168.3 210.8L168.0 212.3L167.0 213.3L166.0 214.5L164.7 215.2L163.2 215.3L161.8 215.9L161.0 217.3L160.8 218.8L160.1 220.1L158.9 220.9L158.0 222.0L157.0 223.2L156.6 224.6L156.7 226.0L156.5 227.5L157.5 228.9L157.9 230.7Z" fill="#eeee00"/>
<path d="M131.2 242.8L132.6 242.8L133.9 243.4L135.3 243.3L136.7 243.2L138.1 243.3L139.5 243.5L140.7 244.2L141.9 244.9L143.1 245.6L144.5 245.7L145.7 245.0L147.1 245.0L148.4 244.9L149.6 244.1L151.0 244.0L152.4 244.5L153.8 244.2L153.6 242.4L153.7 240.5L154.9 239.1L155.5 237.3L155.4 235.5L156.0 233.8L156.9 232.2L157.9 230.7L157.5 228.9L156.5 227.5L155.0 226.3L153.3 225.3L151.7 224.1L149.8 223.7L147.9 223.2L145.9 223.7L144.0 224.0L142.0 223.6L140.2 222.7L138.3 222.4L136.4 222.3L134.4 222.4L133.6 222.0L132.5 227.5L131.2 233.8L130.0 240.0L128.4 242.9L128.5 243.0L129.9 243.3Z" fill="#006d2c"/>
<path d="M197.1 223.6L196.2 222.6L195.0 222.1L193.6 222.4L192.4 221.9L191.2 221.6L190.0 220.9L188.7 220.9L187.5 220.4L186.6 219.4L185.3 219.3L184.2 218.6L182.9 219.0L181.6 219.0L180.3 220.3L178.6 221.1L177.7 222.7L177.3 224.5L177.4 226.3L177.2 228.1L176.6 229.8L175.3 231.2L176.4 232.3L177.6 233.5L177.7 235.1L178.6 236.5L180.4 237.7L182.4 237.8L184.4 237.1L186.4 237.1L188.4 236.5L190.3 235.8L192.3 235.6L194.2 236.5L195.6 235.6L196.2 234.2L196.1 232.6L196.7 231.1L197.9 230.2L199.0 229.1L199.5 227.7L200.1 226.3L200.0 226.1L198.8 225.6L197.9 224.5Z" fill="#ffa500"/>
<path d="M178.1 238.0L178.6 236.5L177.7 235.1L177.6 233.5L176.4 232.3L175.3 231.2L174.3 230.6L173.2 230.4L172.1 230.4L171.0 230.3L169.8 230.3L168.7 230.6L167.8 231.3L166.6 231.4L165.6 231.1L164.5 230.9L163.4 230.6L162.3 230.4L161.3 230.8L160.2 230.9L159.0 231.0L157.9 230.7L156.9 232.2L156.0 233.8L155.4 235.5L155.5 237.3L154.9 239.1L153.7 240.5L153.6 242.4L153.8 244.2L154.1 245.0L156.0 245.5L157.9 246.2L159.7 246.8L161.3 247.9L162.9 249.0L164.5 250.2L166.1 251.5L168.2 251.6L169.5 251.1L170.9 250.9L171.7 249.6L173.0 249.0L174.3 248.2L175.5 247.6L176.6 246.6L177.2 245.3L177.6 243.9L177.9 242.5L177.9 240.9L177.6 239.4Z" fill="#ffa500"/>
<path d="M151.0 244.0L149.6 244.1L148.4 244.9L147.1 245.0L145.7 245.0L144.5 245.7L143.1 245.6L141.9 244.9L140.7 244.2L139.5 243.5L138.1 243.3L136.7 243.2L135.3 243.3L133.9 243.4L132.6 242.8L131.2 242.8L129.9 243.3L128.5 243.0L128.4 242.9L127.5 244.4L122.5 248.5L125.6 250.6L128.8 252.5L129.4 256.2L132.5 257.5L137.5 259.4L141.2 260.6L145.0 263.0L147.5 265.6L147.8 265.5L154.1 245.0L153.8 244.2L152.4 244.5Z" fill="#006d2c"/>
<path d="M167.9 266.4L167.3 265.1L167.6 263.6L167.1 262.3L167.4 260.9L168.0 259.7L167.9 258.3L167.6 256.9L167.7 255.6L168.0 254.3L168.1 252.9L168.2 251.6L166.1 251.5L164.5 250.2L162.9 249.0L161.3 247.9L159.7 246.8L157.9 246.2L156.0 245.5L154.1 245.0L147.8 265.5L150.6 264.4L153.0 263.8L155.0 266.2L157.5 268.8L161.2 268.8L165.0 269.4L168.6 269.4L168.6 269.2L168.5 267.7Z" fill="#ffa500"/>
<path d="M194.2 244.2L194.7 242.3L194.3 240.3L194.3 238.4L194.2 236.5L192.3 235.6L190.3 235.8L188.4 236.5L186.4 237.1L184.4 237.1L182.4 237.8L180.4 237.7L178.6 236.5L178.1 238.0L177.6 239.4L177.9 240.9L177.9 242.5L177.6 243.9L177.2 245.3L176.6 246.6L175.5 247.6L174.3 248.2L173.0 249.0L171.7 249.6L170.9 250.9L169.5 251.1L168.2 251.6L168.1 252.9L168.0 254.3L167.7 255.6L167.6 256.9L167.9 258.3L168.0 259.7L167.4 260.9L167.1 262.3L167.6 263.6L167.3 265.1L167.9 266.4L168.5 267.7L168.6 269.2L168.6 269.4L168.8 269.4L172.0 268.8L173.8 267.0L176.2 265.0L178.0 266.2L180.1 267.4L180.1 267.3L181.2 266.4L181.3 265.1L181.6 263.8L181.6 262.4L181.9 261.1L181.3 259.9L181.2 258.5L183.3 258.6L185.3 258.2L187.4 258.1L189.1 256.9L189.8 255.8L190.9 255.2L192.0 254.5L192.6 253.4L193.7 253.0L194.8 253.1L195.7 252.2L196.8 251.9L197.4 251.2L195.9 249.8L194.9 248.1L194.0 246.2Z" fill="#ffa500"/>
<path d="M181.6 263.8L181.3 265.1L181.2 266.4L180.1 267.3L180.1 267.4L181.2 268.0L185.0 270.0L187.5 272.0L188.2 272.1L191.2 272.5L194.4 273.8L195.0 275.6L199.4 277.0L200.9 278.9L202.3 278.0L203.5 276.4L203.4 274.4L203.3 272.3L203.6 270.3L204.5 268.5L203.7 267.6L203.4 266.5L202.9 265.4L202.2 264.5L202.4 263.3L202.0 262.2L201.7 261.0L201.1 260.0L200.2 259.2L199.5 258.3L198.7 257.4L197.9 256.5L197.0 255.6L196.7 254.4L196.5 253.1L196.8 251.9L195.7 252.2L194.8 253.1L193.7 253.0L192.6 253.4L192.0 254.5L190.9 255.2L189.8 255.8L189.1 256.9L187.4 258.1L185.3 258.2L183.3 258.6L181.2 258.5L181.3 259.9L181.9 261.1L181.6 262.4Z" fill="#eeee00"/>
<path d="M201.6 227.1L200.1 226.3L199.5 227.7L199.0 229.1L197.9 230.2L196.7 231.1L196.1 232.6L196.2 234.2L195.6 235.6L194.2 236.5L194.3 238.4L194.3 240.3L194.7 242.3L194.2 244.2L194.0 246.2L194.9 248.1L195.9 249.8L197.4 251.2L198.6 251.0L199.7 250.2L200.9 250.3L202.2 250.5L203.2 249.8L203.9 248.8L205.0 248.2L205.8 247.3L206.9 247.8L208.1 248.2L209.3 247.9L210.5 248.1L211.8 247.9L212.7 247.1L213.9 246.9L215.1 247.1L215.9 245.5L216.2 243.8L216.3 242.0L216.9 240.3L215.7 238.5L213.6 237.7L212.6 235.9L212.1 233.8L210.9 232.1L209.8 230.3L208.2 229.0L206.3 228.1L204.8 227.6L203.3 227.0Z" fill="#ffa500"/>
<path d="M196.7 254.4L197.0 255.6L197.9 256.5L198.7 257.4L199.5 258.3L200.2 259.2L201.1 260.0L201.7 261.0L202.0 262.2L202.4 263.3L202.2 264.5L202.9 265.4L203.4 266.5L203.7 267.6L204.5 268.5L205.6 267.6L206.1 266.2L207.5 265.8L208.5 264.7L209.9 264.4L211.3 264.7L212.7 264.1L213.7 263.1L215.1 262.9L216.4 263.5L217.8 263.7L219.1 263.1L220.5 263.1L221.7 262.3L223.0 262.4L223.4 262.2L223.7 261.4L223.4 261.2L222.9 260.1L222.4 259.0L221.5 258.2L221.3 257.0L221.1 255.9L220.9 254.7L221.3 253.5L220.3 252.8L219.3 252.4L218.5 251.5L217.4 251.1L216.7 250.1L216.7 248.9L215.8 248.0L215.1 247.1L213.9 246.9L212.7 247.1L211.8 247.9L210.5 248.1L209.3 247.9L208.1 248.2L206.9 247.8L205.8 247.3L205.0 248.2L203.9 248.8L203.2 249.8L202.2 250.5L200.9 250.3L199.7 250.2L198.6 251.0L197.4 251.2L196.8 251.9L196.5 253.1Z" fill="#ffa500"/>
<path d="M203.4 274.4L203.5 276.4L202.3 278.0L200.9 278.9L201.2 279.4L205.0 280.0L208.8 278.8L212.5 280.0L216.2 279.4L220.0 277.5L223.8 278.0L225.0 276.2L223.0 272.5L222.5 268.8L222.5 265.0L223.4 262.2L223.0 262.4L221.7 262.3L220.5 263.1L219.1 263.1L217.8 263.7L216.4 263.5L215.1 262.9L213.7 263.1L212.7 264.1L211.3 264.7L209.9 264.4L208.5 264.7L207.5 265.8L206.1 266.2L205.6 267.6L204.5 268.5L203.6 270.3L203.3 272.3Z" fill="#ffffff"/>
<path d="M229.3 232.2L228.2 232.4L227.0 233.0L225.8 232.9L224.9 233.8L224.1 234.6L223.0 235.1L221.8 235.5L220.7 235.9L219.6 236.4L219.3 237.6L218.8 238.7L217.7 239.4L216.9 240.3L216.3 242.0L216.2 243.8L215.9 245.5L215.1 247.1L215.8 248.0L216.7 248.9L216.7 250.1L217.4 251.1L218.5 251.5L219.3 252.4L220.3 252.8L221.3 253.5L220.9 254.7L221.1 255.9L221.3 257.0L221.5 258.2L222.4 259.0L222.9 260.1L223.4 261.2L223.7 261.4L223.8 261.2L225.0 257.5L226.2 255.6L231.2 254.4L233.8 252.0L237.5 249.4L241.2 247.0L242.6 246.6L242.1 246.2L241.9 244.3L241.9 242.5L240.6 241.2L239.0 240.3L237.7 239.0L236.7 237.5L235.5 236.1L234.0 234.9L233.8 233.0L233.2 231.3L232.6 231.2L231.5 231.4L230.4 231.9Z" fill="#ffffff"/>
<path d="M239.5 227.2L239.0 228.8L237.8 229.9L236.3 230.5L234.7 230.7L233.2 231.3L233.8 233.0L234.0 234.9L235.5 236.1L236.7 237.5L237.7 239.0L239.0 240.3L240.6 241.2L241.9 242.5L241.9 244.3L242.1 246.2L242.6 246.6L243.8 246.2L246.2 247.0L248.8 248.0L251.3 248.9L251.5 248.6L253.0 247.1L254.8 246.0L255.9 244.1L256.3 242.0L256.3 240.4L257.1 238.9L257.2 237.3L257.8 235.8L258.2 234.3L258.1 232.7L258.1 231.1L257.7 229.5L256.7 228.3L255.8 227.1L255.2 225.6L254.1 224.5L252.6 224.9L251.1 225.2L249.7 225.5L248.1 225.6L246.6 225.6L245.1 224.9L244.0 223.8L242.5 223.4L241.6 224.8L240.5 225.9Z" fill="#ffffff"/>
<path d="M272.1 229.4L271.0 228.8L269.8 229.0L268.9 229.8L267.7 230.1L266.7 230.8L265.5 231.2L264.3 230.8L263.1 230.4L262.3 229.4L261.1 229.5L260.0 230.2L258.9 229.8L257.7 229.5L258.1 231.1L258.1 232.7L258.2 234.3L257.8 235.8L257.2 237.3L257.1 238.9L256.3 240.4L256.3 242.0L257.7 242.0L259.0 242.5L260.4 242.1L261.8 242.1L263.1 241.7L264.5 242.2L265.8 241.9L267.2 242.2L268.6 242.3L270.0 242.7L271.2 241.9L272.6 241.6L274.0 242.0L275.3 241.4L276.6 241.9L278.0 242.0L278.3 240.4L279.2 239.1L278.5 237.9L278.3 236.6L277.5 235.4L276.3 234.7L276.7 233.4L276.5 232.0L275.9 230.8L275.7 229.5L274.5 229.9L273.3 229.7Z" fill="#ffffff"/>
<path d="M274.0 242.0L272.6 241.6L271.2 241.9L270.0 242.7L268.6 242.3L267.2 242.2L265.8 241.9L264.5 242.2L263.1 241.7L261.8 242.1L260.4 242.1L259.0 242.5L257.7 242.0L256.3 242.0L255.9 244.1L254.8 246.0L253.0 247.1L251.5 248.6L251.3 248.9L252.5 249.4L255.0 251.2L260.0 250.6L263.8 250.0L266.2 251.2L270.0 252.0L271.2 254.4L276.2 255.0L276.4 255.1L276.8 253.7L276.8 252.2L276.7 250.7L277.0 249.2L277.7 247.9L277.7 246.4L278.1 245.0L277.8 243.5L278.0 242.0L276.6 241.9L275.3 241.4Z" fill="#ffffff"/>
<path d="M277.8 243.5L278.1 245.0L277.7 246.4L277.7 247.9L277.0 249.2L276.7 250.7L276.8 252.2L276.8 253.7L276.4 255.1L279.4 256.2L282.0 258.0L285.0 258.8L288.8 258.8L292.5 257.5L296.2 255.0L298.0 252.5L300.0 250.0L302.0 247.5L303.5 245.8L296.8 237.1L295.6 237.5L294.5 237.3L293.4 237.5L292.4 238.1L291.2 238.0L290.1 238.3L289.0 237.8L287.9 237.5L286.8 237.9L285.6 237.8L284.9 238.7L283.7 239.0L282.6 238.9L281.5 238.6L280.4 239.0L279.2 239.1L278.3 240.4L278.0 242.0Z" fill="#ffffff"/>
<path d="M277.3 222.9L276.2 223.9L275.8 225.3L276.1 226.7L276.0 228.1L275.7 229.5L275.9 230.8L276.5 232.0L276.7 233.4L276.3 234.7L277.5 235.4L278.3 236.6L278.5 237.9L279.2 239.1L280.4 239.0L281.5 238.6L282.6 238.9L283.7 239.0L284.9 238.7L285.6 237.8L286.8 237.9L287.9 237.5L289.0 237.8L290.1 238.3L291.2 238.0L292.4 238.1L293.4 237.5L294.5 237.3L295.6 237.5L296.8 237.1L298.6 236.1L299.5 234.3L299.6 232.3L300.1 230.4L299.8 228.5L299.7 226.7L300.2 224.8L299.6 222.9L298.2 222.8L296.8 223.3L295.4 223.2L294.1 222.6L293.1 221.5L292.2 220.4L291.0 219.7L289.7 219.2L288.5 218.4L287.2 217.8L285.8 217.3L284.4 217.5L283.1 218.1L281.9 218.9L280.5 218.8L279.1 219.0L278.5 220.3L277.8 221.6Z" fill="#ffffff"/>
<path d="M300.2 224.8L299.7 226.7L299.8 228.5L300.1 230.4L299.6 232.3L299.5 234.3L298.6 236.1L296.8 237.1L303.5 245.8L303.8 245.6L307.5 243.8L311.2 240.3L315.0 236.5L317.5 232.5L318.8 228.0L316.2 225.6L312.5 226.2L307.5 223.8L303.8 222.0L301.9 220.0L301.2 221.5L299.6 222.9Z" fill="#ffffff"/>
<path d="M207.6 96.8L210.0 97.6L212.5 97.0L213.5 95.0L213.3 92.6L211.5 91.4L209.0 91.2L207.0 92.2L206.6 94.6Z" fill="#ffffff"/>
<path d="M301.6 129.5L300.8 126.0L299.0 123.0L296.5 124.0L297.0 127.5L299.0 130.5L301.3 132.0L301.5 132.1Z" fill="#ffffff"/>
<path d="M67.5 97.5L68.8 97.2L69.0 98.6L67.8 98.8Z" fill="#006d2c"/>
<path d="M100.0 131.5L103.5 132.5L104.0 135.0L101.0 134.5Z" fill="#006d2c"/>
<path d="M96.0 123.0L98.0 123.3L98.0 124.3L96.2 124.0Z" fill="#006d2c"/>
<path d="M118.5 143.5L120.3 144.0L120.8 146.5L119.0 146.0Z" fill="#006d2c"/>
<path d="M116.0 151.3L117.8 151.8L117.5 153.0L116.0 152.5Z" fill="#006d2c"/>
<path d="M131.0 166.0L135.0 167.3L135.0 168.4L131.3 167.3Z" fill="#7fff00"/>
<path d="M134.4 172.5L136.5 174.0L137.8 178.5L136.0 177.5Z" fill="#7fff00"/>
<path d="M207 94.4Q208.6 92.9 210.4 94.1T213.3 94.9M209.9 94.3L209.4 97.3M210.6 91.6L210.4 93.9" fill="none" stroke-width="0.6"/>
</g></g>
<rect x="444.90" y="338.40" width="252.50" height="249.60" fill="none" stroke="#333" stroke-width="0.90"/>
<rect x="700.60" y="338.40" width="8.90" height="41.90" fill="#ffffff"/>
<rect x="700.60" y="380.00" width="8.90" height="41.90" fill="#006d2c"/>
<rect x="700.60" y="421.60" width="8.90" height="41.90" fill="#7fff00"/>
<rect x="700.60" y="463.20" width="8.90" height="41.90" fill="#eeee00"/>
<rect x="700.60" y="504.80" width="8.90" height="41.90" fill="#ffa500"/>
<rect x="700.60" y="546.40" width="8.90" height="41.60" fill="#ff0000"/>
<path d="M709.50 359.20h2.2" stroke="#000" stroke-width="0.90"/>
<text x="713.75" y="362.25" font-size="6.35" fill="#000">Pas d'information</text>
<path d="M709.50 400.80h2.2" stroke="#000" stroke-width="0.90"/>
<text x="713.75" y="403.85" font-size="6.35" fill="#000">Absent ou rare</text>
<path d="M709.50 442.40h2.2" stroke="#000" stroke-width="0.90"/>
<text x="713.75" y="445.45" font-size="6.35" fill="#000">Peu fréquent ou très localisé</text>
<path d="M709.50 484.00h2.2" stroke="#000" stroke-width="0.90"/>
<text x="713.75" y="487.05" font-size="6.35" fill="#000">Moyennement fréquent</text>
<path d="M709.50 525.60h2.2" stroke="#000" stroke-width="0.90"/>
<text x="713.75" y="528.65" font-size="6.35" fill="#000">Fréquent</text>
<path d="M709.50 567.20h2.2" stroke="#000" stroke-width="0.90"/>
<text x="713.75" y="570.25" font-size="6.35" fill="#000">Très fréquent</text>
<rect x="700.60" y="338.40" width="8.90" height="249.60" fill="none" stroke="#333" stroke-width="0.90"/>
<text x="618.00" y="332.20" font-size="7.55" font-weight="bold" text-anchor="middle" fill="#000">Fréquence ravageur aujourd'hui : Charançon du bourgeon terminal</text>
</svg></body></html>
